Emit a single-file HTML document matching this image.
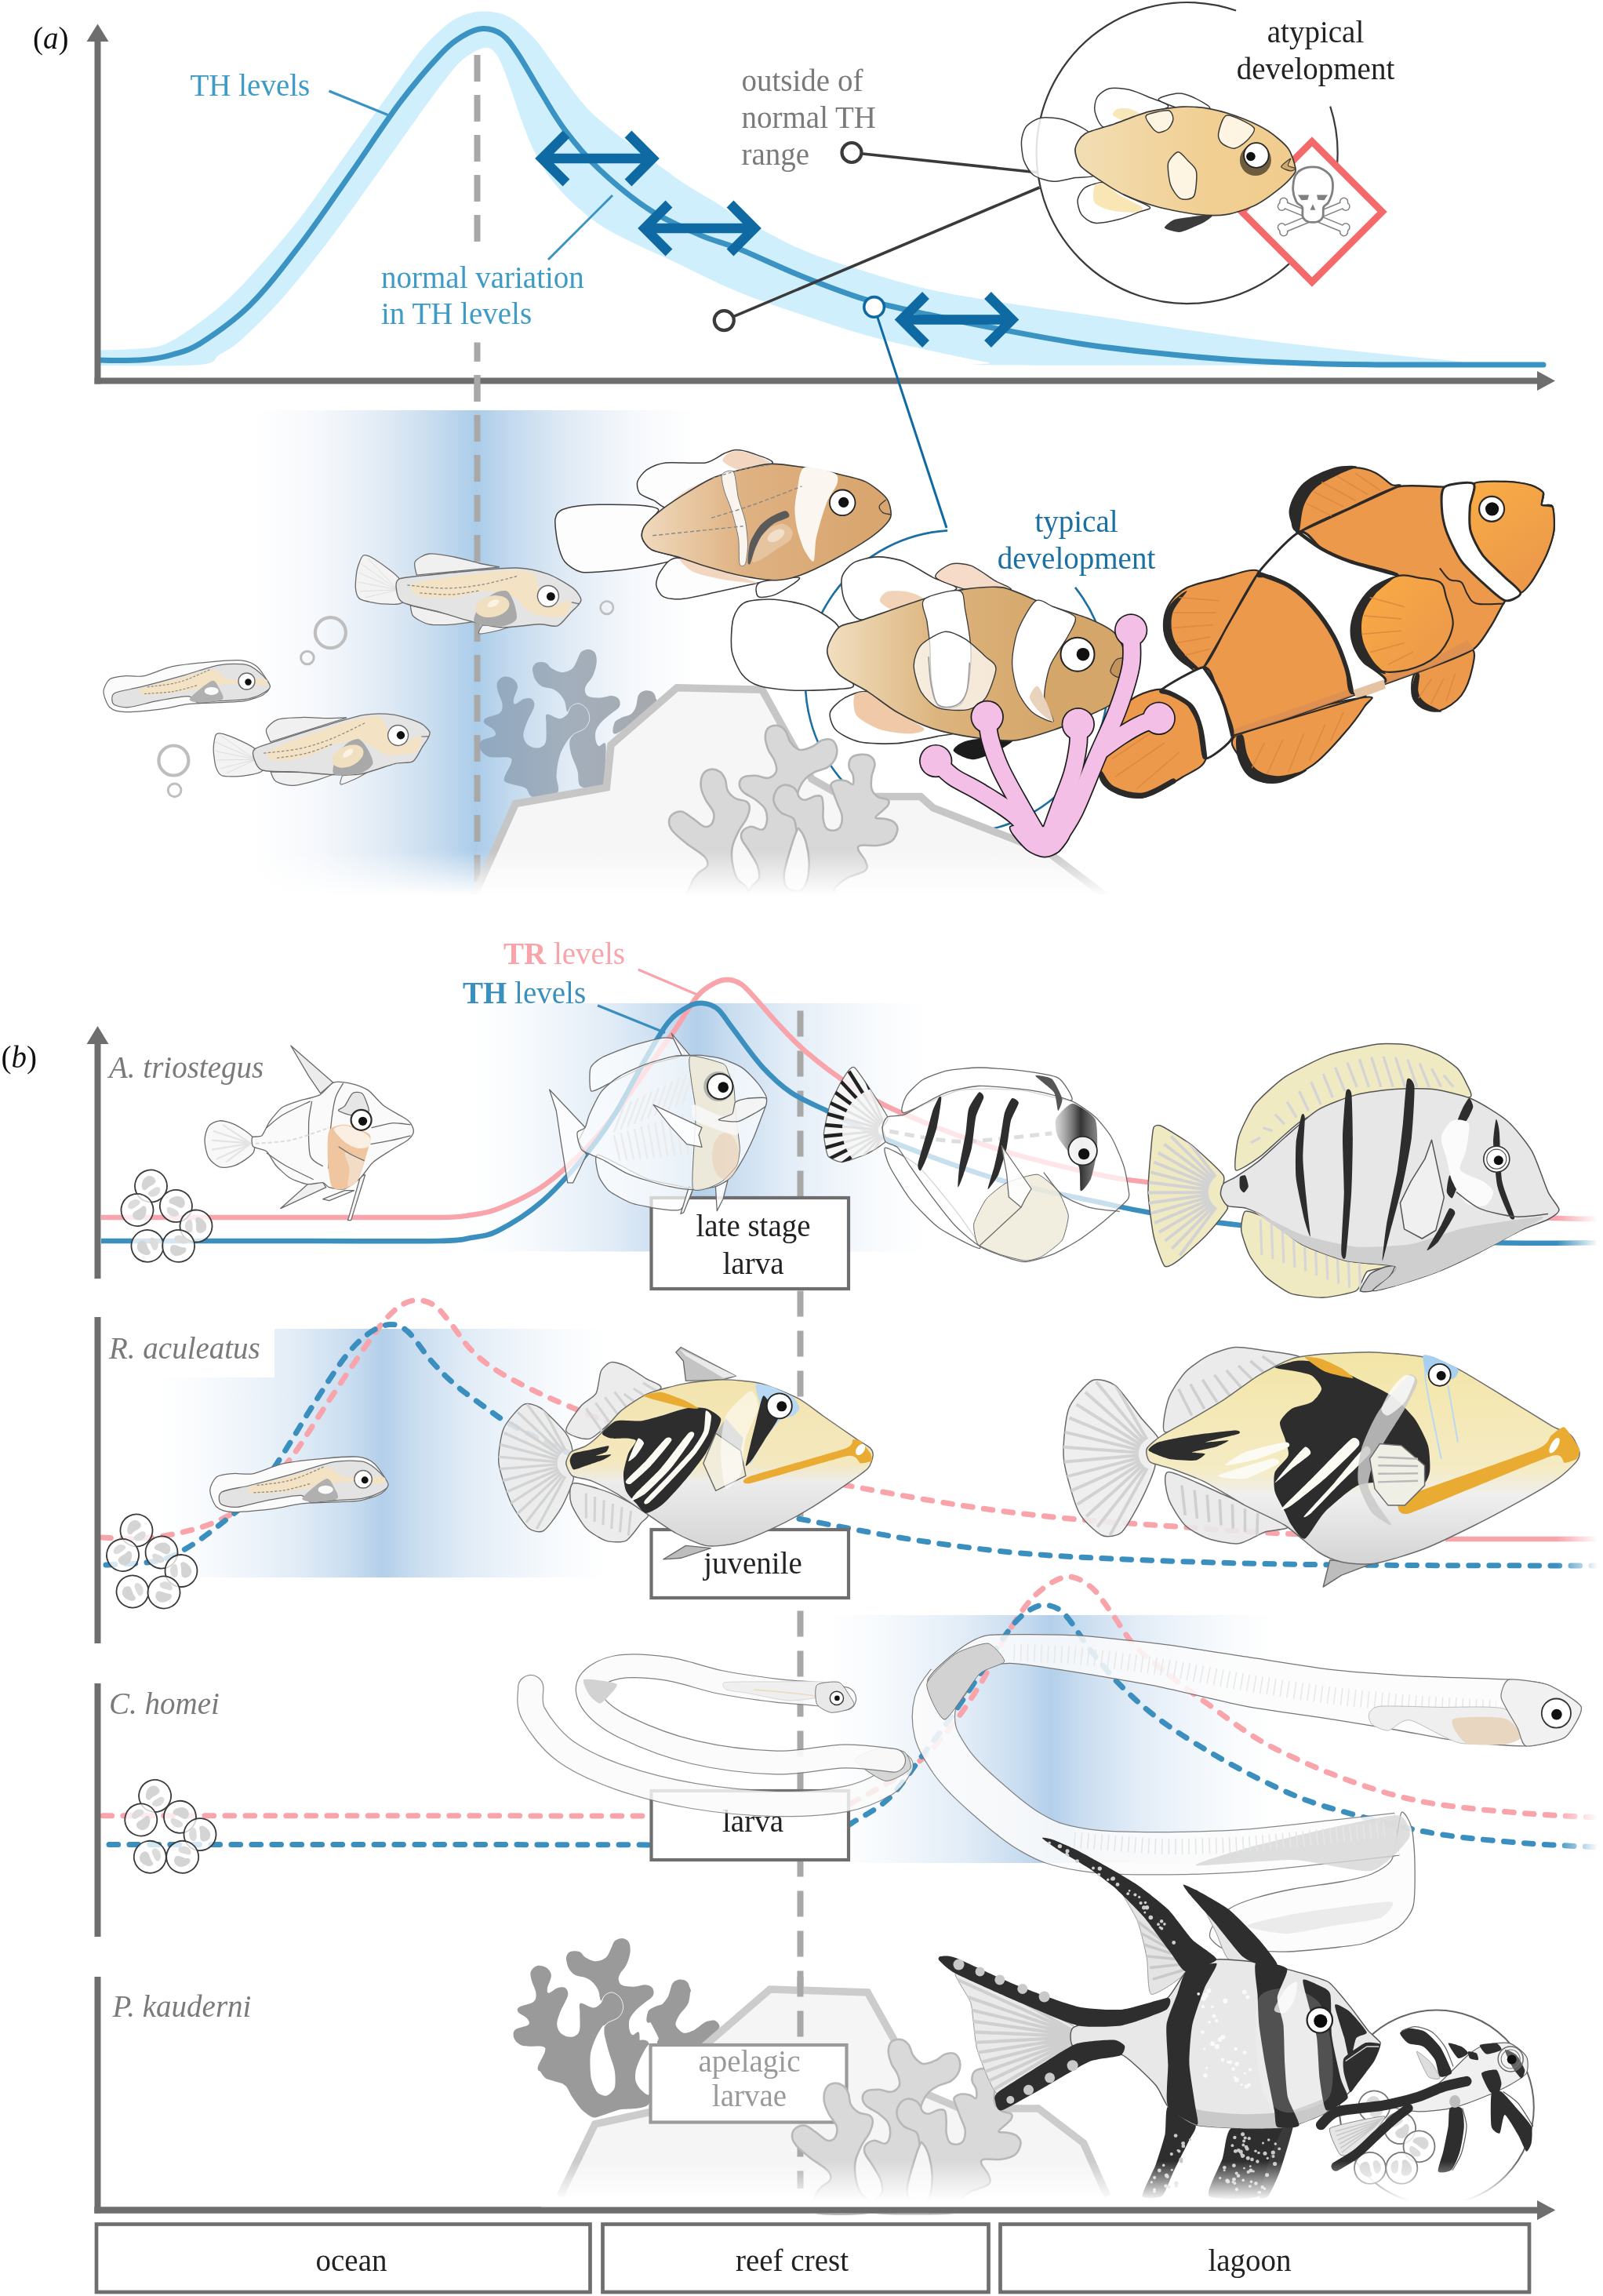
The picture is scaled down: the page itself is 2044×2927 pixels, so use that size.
<!DOCTYPE html>
<html><head><meta charset="utf-8"><title>figure</title>
<style>
html,body{margin:0;padding:0;background:#fff;}
svg{display:block;}
text{font-family:"Liberation Serif",serif;}
svg{will-change:transform;}
</style></head><body>
<svg width="2044" height="2927" viewBox="0 0 2044 2927">
<rect width="2044" height="2927" fill="#fff"/>

<defs>
<linearGradient id="gA" x1="0" x2="1" y1="0" y2="0">
 <stop offset="0" stop-color="#ffffff"/>
 <stop offset="0.15" stop-color="#f5f8fc"/>
 <stop offset="0.3" stop-color="#dfeaf5"/>
 <stop offset="0.42" stop-color="#c4daee"/>
 <stop offset="0.5" stop-color="#abcce9"/>
 <stop offset="0.58" stop-color="#c4daee"/>
 <stop offset="0.7" stop-color="#dfeaf5"/>
 <stop offset="0.85" stop-color="#f5f8fc"/>
 <stop offset="1" stop-color="#ffffff"/>
</linearGradient>
<linearGradient id="gB" x1="0" x2="1" y1="0" y2="0">
 <stop offset="0" stop-color="#ffffff"/>
 <stop offset="0.12" stop-color="#f7fafd"/>
 <stop offset="0.3" stop-color="#e3edf7"/>
 <stop offset="0.43" stop-color="#c9ddf0"/>
 <stop offset="0.5" stop-color="#b3cfea"/>
 <stop offset="0.57" stop-color="#c9ddf0"/>
 <stop offset="0.7" stop-color="#e3edf7"/>
 <stop offset="0.88" stop-color="#f7fafd"/>
 <stop offset="1" stop-color="#ffffff"/>
</linearGradient>
<linearGradient id="fadeDown" x1="0" x2="0" y1="0" y2="1">
 <stop offset="0" stop-color="#fff" stop-opacity="0"/>
 <stop offset="1" stop-color="#fff" stop-opacity="1"/>
</linearGradient>
</defs>

<rect x="325" y="523" width="565" height="620" fill="url(#gA)"/>

<path d="M127.0,446.5 C134.2,446.2 156.7,446.1 170.0,445.0 C183.3,443.9 194.5,444.5 207.0,440.0 C219.5,435.5 230.9,427.9 245.0,418.0 C259.1,408.1 276.1,395.2 291.6,380.7 C307.2,366.2 322.7,348.5 338.3,330.8 C353.9,313.1 369.4,295.0 385.0,274.7 C400.6,254.4 416.4,231.0 432.0,209.2 C447.6,187.4 465.7,161.9 478.7,143.7 C491.7,125.5 500.6,113.0 510.0,100.0 C519.4,87.0 526.7,76.0 535.0,66.0 C543.3,56.0 551.7,47.3 560.0,40.0 C568.3,32.7 575.6,26.2 584.9,22.0 C594.2,17.8 604.9,14.6 615.7,14.6 C626.5,14.6 638.7,16.1 649.8,22.0 C660.9,27.9 671.4,38.0 682.2,50.0 C693.0,62.0 703.8,79.7 714.6,94.0 C725.4,108.3 736.2,124.1 747.0,136.0 C757.8,147.9 768.7,156.4 779.5,165.4 C790.3,174.4 801.2,181.9 812.0,190.0 C822.8,198.1 833.6,206.2 844.4,214.0 C855.2,221.8 866.0,229.8 876.8,236.8 C887.6,243.8 898.6,249.5 909.3,256.0 C920.0,262.5 922.2,265.7 941.0,276.0 C959.8,286.3 995.0,306.3 1022.0,318.0 C1049.0,329.7 1076.0,337.6 1103.0,346.0 C1130.0,354.4 1154.2,362.0 1184.0,368.7 C1213.8,375.4 1249.9,380.9 1281.7,386.0 C1313.5,391.1 1343.6,395.0 1375.0,399.6 C1406.4,404.2 1438.2,409.2 1470.0,413.9 C1501.8,418.6 1534.2,423.6 1566.0,428.0 C1597.8,432.4 1629.3,436.2 1661.0,440.0 C1692.7,443.8 1724.2,447.3 1756.0,450.6 C1787.8,453.9 1831.3,457.6 1852.0,460.0 C1872.7,462.4 1875.3,464.2 1880.0,465.0 L1880.0,465.5 C1781.7,465.5 1393.3,466.1 1290.0,465.5 C1186.7,464.9 1277.7,465.2 1260.0,462.0 C1242.3,458.8 1210.2,452.3 1184.0,446.5 C1157.8,440.7 1130.0,434.6 1103.0,427.0 C1076.0,419.4 1049.0,410.2 1022.0,401.0 C995.0,391.8 968.0,383.2 941.0,372.0 C914.0,360.8 883.5,345.0 860.0,334.0 C836.5,323.0 816.1,314.1 800.0,306.0 C783.9,297.9 775.4,293.8 763.3,285.5 C751.2,277.2 737.9,266.1 727.6,256.3 C717.3,246.6 709.3,237.3 701.7,227.0 C694.1,216.7 688.2,206.5 682.2,194.6 C676.2,182.7 672.5,173.0 666.0,155.7 C659.5,138.4 649.2,105.8 643.3,90.8 C637.3,75.8 634.9,70.9 630.3,66.0 C625.7,61.1 622.4,59.9 615.7,61.6 C609.0,63.3 597.8,69.6 590.0,76.0 C582.2,82.4 577.2,89.8 569.0,100.0 C560.8,110.2 553.5,120.2 541.0,137.4 C528.5,154.6 509.9,181.2 494.3,203.0 C478.7,224.8 463.1,247.1 447.5,268.4 C431.9,289.7 416.3,311.0 400.7,330.8 C385.1,350.6 369.6,369.9 354.0,387.0 C338.4,404.1 319.3,422.9 307.0,433.7 C294.7,444.5 288.8,446.8 280.0,452.0 C271.2,457.2 279.5,462.7 254.0,465.0 C228.5,467.3 148.2,465.8 127.0,466.0Z" fill="#cfeffc"/>
<path d="M127.0,459.0 C132.5,459.1 149.5,459.7 160.0,459.5 C170.5,459.3 180.0,459.2 190.0,458.0 C200.0,456.8 209.2,455.3 220.0,452.0 C230.8,448.7 238.5,448.5 255.0,438.0 C271.5,427.5 297.6,409.9 318.8,389.0 C340.1,368.1 361.3,340.1 382.5,312.4 C403.7,284.7 424.8,253.3 446.0,223.0 C467.2,192.7 490.8,156.2 510.0,130.7 C529.2,105.2 547.7,84.1 561.0,70.0 C574.3,55.9 580.9,51.6 590.0,46.0 C599.1,40.4 607.4,36.8 615.7,36.5 C624.0,36.2 632.6,38.8 640.0,44.0 C647.4,49.2 651.7,55.7 660.0,68.0 C668.3,80.3 679.9,101.7 690.0,118.0 C700.1,134.3 707.9,149.3 720.4,165.8 C732.9,182.3 746.9,199.8 765.0,216.8 C783.1,233.8 807.5,254.0 828.8,267.8 C850.1,281.6 873.9,291.4 892.6,299.6 C911.3,307.8 919.4,308.1 941.0,316.8 C962.6,325.5 995.0,341.2 1022.0,352.0 C1049.0,362.8 1076.0,373.5 1103.0,381.7 C1130.0,389.9 1154.2,394.4 1184.0,401.0 C1213.8,407.6 1249.9,414.9 1281.7,421.0 C1313.5,427.1 1343.6,432.9 1375.0,437.7 C1406.4,442.5 1438.2,446.2 1470.0,449.6 C1501.8,453.0 1534.2,456.0 1566.0,458.2 C1597.8,460.4 1629.3,461.9 1661.0,463.0 C1692.7,464.1 1724.5,464.6 1756.0,464.9 C1787.5,465.2 1814.7,465.0 1850.0,465.0 C1885.3,465.0 1948.3,465.0 1968.0,465.0" fill="none" stroke="#3a93c2" stroke-width="7" stroke-linecap="round"/>
<line x1="608.5" y1="70" x2="608.5" y2="1140" stroke="#a8a8a8" stroke-width="8" stroke-dasharray="34 17"/>
<rect x="598" y="309" width="22" height="127.5" fill="#fff"/>
<line x1="124.5" y1="50" x2="124.5" y2="489.5" stroke="#6e6e6e" stroke-width="8"/>
<polygon points="124.5,30.5 138.5,53 110.5,53" fill="#6e6e6e"/>
<line x1="120.5" y1="485.5" x2="1962" y2="485.5" stroke="#6e6e6e" stroke-width="8"/>
<polygon points="1983,485.5 1960,473 1960,498" fill="#6e6e6e"/>
<rect x="604.5" y="478" width="8" height="34" fill="#a8a8a8"/>
<path d="M694.0,202.0 L829.0,202.0 M722.0,171.0 L691.0,202.0 L722.0,233.0 M801.0,171.0 L832.0,202.0 L801.0,233.0" fill="none" stroke="#0f6aa3" stroke-width="12.5" stroke-linejoin="miter" stroke-miterlimit="10"/>
<path d="M825.0,291.0 L959.0,291.0 M853.0,260.0 L822.0,291.0 L853.0,322.0 M931.0,260.0 L962.0,291.0 L931.0,322.0" fill="none" stroke="#0f6aa3" stroke-width="12.5" stroke-linejoin="miter" stroke-miterlimit="10"/>
<path d="M1152.5,407.5 L1287.5,407.5 M1180.5,376.5 L1149.5,407.5 L1180.5,438.5 M1259.5,376.5 L1290.5,407.5 L1259.5,438.5" fill="none" stroke="#0f6aa3" stroke-width="12.5" stroke-linejoin="miter" stroke-miterlimit="10"/>
<text x="42.0" y="62.0" font-size="39" fill="#111" text-anchor="start"  >(<tspan font-style="italic">a</tspan>)</text>
<text x="242.5" y="121.5" font-size="39" fill="#3d9bc6" text-anchor="start"  >TH levels</text>
<line x1="419.5" y1="116" x2="494.5" y2="146.5" stroke="#3a93c2" stroke-width="3.2"/>
<text x="486.0" y="366.5" font-size="39" fill="#3d9bc6" text-anchor="start"  >normal variation</text>
<text x="486.0" y="413.0" font-size="39" fill="#3d9bc6" text-anchor="start"  >in TH levels</text>
<line x1="781" y1="249" x2="699" y2="331" stroke="#3a93c2" stroke-width="3"/>
<text x="945.5" y="116.0" font-size="39" fill="#7a7a7a" text-anchor="start"  >outside of</text>
<text x="945.5" y="163.0" font-size="39" fill="#7a7a7a" text-anchor="start"  >normal TH</text>
<text x="945.5" y="210.0" font-size="39" fill="#7a7a7a" text-anchor="start"  >range</text>
<text x="1677.5" y="54.0" font-size="39" fill="#222" text-anchor="middle"  >atypical</text>
<text x="1677.5" y="100.5" font-size="39" fill="#222" text-anchor="middle"  >development</text>
<line x1="1086" y1="194.5" x2="1324" y2="220" stroke="#3a3a3a" stroke-width="3.6"/>
<line x1="923.3" y1="408.6" x2="1325.5" y2="239" stroke="#3a3a3a" stroke-width="3.6"/>
<circle cx="1086" cy="194.5" r="12.5" fill="#fff" stroke="#3a3a3a" stroke-width="4.2"/>
<circle cx="923.3" cy="408.6" r="12.5" fill="#fff" stroke="#3a3a3a" stroke-width="4.2"/>
<line x1="1114.6" y1="391.4" x2="1207" y2="673" stroke="#0f6aa3" stroke-width="3"/>
<circle cx="1114.6" cy="391.4" r="12.8" fill="#fff" stroke="#0f6aa3" stroke-width="3.6"/>
<defs><g id="coralD"><path d="M141.1,193.0 C135.7,189.9 138.4,179.0 136.2,171.9 C134.1,164.9 129.8,157.1 128.1,150.8 C126.5,144.6 125.7,138.9 126.5,134.6 C127.3,130.3 129.8,127.6 133.0,124.9 C136.2,122.2 142.9,121.4 146.0,118.4 C149.1,115.4 151.2,111.1 151.7,107.0 C152.1,103.0 150.7,97.5 148.4,94.1 C146.1,90.7 141.2,87.3 137.9,86.8 C134.5,86.2 130.6,89.1 128.1,90.8 C125.7,92.6 124.6,98.4 123.3,97.3 C121.9,96.2 121.6,88.1 120.0,84.3 C118.4,80.6 116.2,77.3 113.5,74.6 C110.8,71.9 107.6,69.7 103.8,68.1 C100.0,66.5 94.3,66.8 90.8,64.9 C87.3,63.0 84.6,59.7 82.7,56.8 C80.8,53.8 80.0,49.7 79.5,47.0 C78.9,44.3 78.7,42.6 79.5,40.5 C80.3,38.5 81.6,35.8 84.3,34.9 C87.0,33.9 92.5,33.7 95.7,34.9 C98.9,36.1 100.3,40.1 103.8,42.2 C107.3,44.2 112.5,47.0 116.8,47.0 C121.1,47.0 126.5,44.9 129.8,42.2 C133.0,39.5 134.4,34.3 136.2,30.8 C138.1,27.3 138.7,23.2 141.1,21.1 C143.5,18.9 147.9,17.6 150.8,17.8 C153.8,18.1 157.3,19.7 159.0,22.7 C160.6,25.7 161.1,30.8 160.6,35.7 C160.0,40.5 157.9,47.3 155.7,51.9 C153.5,56.5 149.2,60.0 147.6,63.3 C146.0,66.5 145.4,68.9 146.0,71.4 C146.5,73.8 147.6,76.5 150.8,77.9 C154.1,79.2 160.6,79.6 165.4,79.5 C170.3,79.3 176.1,76.8 180.0,77.0 C184.0,77.3 187.3,78.8 189.0,81.1 C190.6,83.4 191.5,87.6 189.8,90.8 C188.0,94.1 182.2,97.3 178.4,100.6 C174.6,103.8 170.2,106.8 167.1,110.3 C164.0,113.8 161.0,117.6 159.8,121.6 C158.5,125.7 159.1,131.4 159.8,134.6 C160.4,137.9 161.8,140.6 163.8,141.1 C165.8,141.7 170.6,134.4 171.9,137.9 C173.3,141.4 172.5,153.4 171.9,162.2 C171.4,171.0 173.8,185.4 168.7,190.6 C163.5,195.7 146.5,196.1 141.1,193.0Z"/><path d="M79.5,206.0 C72.7,204.9 75.2,197.6 69.7,194.6 C64.3,191.7 51.5,190.3 47.0,188.1 C42.6,186.0 42.2,186.0 43.0,181.7 C43.8,177.3 51.0,166.5 51.9,162.2 C52.8,157.9 53.3,156.9 48.7,155.7 C44.1,154.5 30.3,156.5 24.3,154.9 C18.4,153.3 14.7,149.4 13.0,146.0 C11.2,142.6 10.8,137.6 13.8,134.6 C16.8,131.6 28.2,130.6 30.8,128.1 C33.4,125.7 31.4,122.7 29.2,120.0 C27.0,117.3 19.5,114.3 17.8,111.9 C16.2,109.5 16.2,107.6 19.5,105.4 C22.7,103.3 33.8,101.9 37.3,98.9 C40.8,96.0 41.0,92.2 40.5,87.6 C40.1,83.0 36.0,76.0 34.9,71.4 C33.8,66.8 32.8,63.1 34.1,60.0 C35.3,56.9 38.9,53.5 42.2,52.7 C45.4,51.9 50.6,53.1 53.5,55.1 C56.5,57.2 59.7,60.6 60.0,64.9 C60.3,69.2 55.7,77.3 55.1,81.1 C54.6,84.9 54.6,87.6 56.8,87.6 C58.9,87.6 64.6,82.2 68.1,81.1 C71.6,80.0 75.7,79.5 77.9,81.1 C80.0,82.7 82.2,85.7 81.1,90.8 C80.0,96.0 73.7,105.7 71.4,111.9 C69.1,118.1 67.0,123.5 67.3,128.1 C67.6,132.7 69.9,136.9 73.0,139.5 C76.1,142.1 82.2,144.1 86.0,143.5 C89.7,143.0 93.9,141.2 95.7,136.2 C97.5,131.2 96.2,119.5 96.5,113.5 C96.8,107.6 94.5,101.8 97.3,100.6 C100.2,99.3 109.2,106.2 113.5,106.2 C117.9,106.2 120.8,103.1 123.3,100.6 C125.7,98.0 125.7,93.1 128.1,90.8 C130.6,88.5 134.5,86.2 137.9,86.8 C141.2,87.3 146.1,90.7 148.4,94.1 C150.7,97.5 152.1,103.0 151.7,107.0 C151.2,111.1 149.1,115.4 146.0,118.4 C142.9,121.4 136.8,122.2 133.0,124.9 C129.2,127.6 126.5,129.8 123.3,134.6 C120.0,139.5 115.8,146.8 113.5,154.1 C111.2,161.4 110.0,170.6 109.5,178.4 C108.9,186.3 115.3,196.5 110.3,201.1 C105.3,205.7 86.2,207.1 79.5,206.0Z"/><path d="M183.3,111.9 C184.1,108.7 187.9,107.3 191.4,105.4 C194.9,103.5 201.1,103.0 204.4,100.6 C207.6,98.1 209.2,94.9 210.9,90.8 C212.5,86.8 212.2,79.6 214.1,76.2 C216.0,72.9 219.2,71.2 222.2,70.6 C225.2,69.9 229.6,70.7 231.9,72.2 C234.2,73.7 235.7,76.4 236.0,79.5 C236.3,82.6 241.8,83.3 233.6,90.8 C225.3,98.4 194.9,121.4 186.5,124.9 C178.1,128.4 182.5,115.2 183.3,111.9Z"/></g><g id="coralL"><path d="M123.3,100.6 C124.1,98.9 125.7,93.1 128.1,90.8 C130.6,88.5 134.5,86.2 137.9,86.8 C141.2,87.3 146.1,90.7 148.4,94.1 C150.7,97.5 152.1,103.0 151.7,107.0 C151.2,111.1 149.1,115.4 146.0,118.4 C142.9,121.4 136.0,123.0 133.0,124.9 C130.0,126.8 128.9,128.9 128.1,129.8" fill="none" stroke-width="0.9"/></g>
<linearGradient id="gCoralA" gradientUnits="userSpaceOnUse" x1="10" x2="240" y1="0" y2="0"><stop offset="0" stop-color="#8fa8c0"/><stop offset="0.5" stop-color="#a3afbc"/><stop offset="1" stop-color="#a6a9ad"/></linearGradient>
<linearGradient id="fadeA" gradientUnits="userSpaceOnUse" x1="0" x2="0" y1="1085" y2="1142"><stop offset="0" stop-color="#fff" stop-opacity="0"/><stop offset="1" stop-color="#fff" stop-opacity="1"/></linearGradient>
</defs>
<path d="M1371.0,748.9 A193,193 0 1 1 1208.2,676.4" fill="none" stroke="#1a6fa3" stroke-width="2.6"/>
<g transform="translate(600,810)" fill="url(#gCoralA)"><use href="#coralD"/><use href="#coralL" stroke="#dbe8f4"/></g>
<path d="M600.0,1150.0 L606.8,1136.9 L657.4,1024.6 L773.4,1004.0 L779.0,949.7 L863.2,876.7 L971.8,879.3 L1035.0,993.0 L1075.0,1015.6 L1173.9,1015.6 L1190.0,1030.0 L1337.0,1087.0 L1420.0,1150.0" fill="#f6f6f6" stroke="#c6c6c6" stroke-width="9.5" stroke-linejoin="miter"/>
<path d="M881.9,1125.6 C883.3,1120.3 886.6,1117.3 889.9,1113.6 C893.2,1110.0 900.6,1107.3 901.9,1103.6 C903.2,1100.0 902.2,1096.3 897.9,1091.7 C893.6,1087.0 882.6,1081.0 875.9,1075.7 C869.3,1070.4 861.8,1064.4 858.0,1059.7 C854.1,1055.1 853.0,1051.4 853.0,1047.7 C853.0,1044.1 855.1,1039.9 858.0,1037.8 C860.8,1035.6 865.6,1033.8 869.9,1034.8 C874.3,1035.8 879.3,1040.6 883.9,1043.7 C888.6,1046.9 893.9,1052.7 897.9,1053.7 C901.9,1054.7 905.9,1052.7 907.9,1049.7 C909.9,1046.7 911.2,1040.7 909.9,1035.8 C908.5,1030.8 902.6,1025.1 899.9,1019.8 C897.2,1014.5 894.6,1009.1 893.9,1003.8 C893.2,998.5 893.9,991.7 895.9,987.8 C897.9,984.0 902.2,981.5 905.9,980.9 C909.5,980.2 914.7,981.7 917.9,983.8 C921.0,986.0 923.2,989.8 924.8,993.8 C926.5,997.8 925.7,1003.8 927.8,1007.8 C930.0,1011.8 933.8,1015.5 937.8,1017.8 C941.8,1020.1 948.8,1019.8 951.8,1021.8 C954.8,1023.8 955.8,1026.1 955.8,1029.8 C955.8,1033.4 954.1,1038.8 951.8,1043.7 C949.5,1048.7 944.8,1053.7 941.8,1059.7 C938.8,1065.7 935.2,1073.0 933.8,1079.7 C932.5,1086.3 932.8,1093.0 933.8,1099.6 C934.8,1106.3 936.8,1114.3 939.8,1119.6 C942.8,1124.9 949.8,1127.3 951.8,1131.6 C953.8,1135.9 963.4,1143.2 951.8,1145.6 C940.2,1147.9 893.6,1148.9 881.9,1145.6 C870.3,1142.2 880.6,1130.9 881.9,1125.6Z" fill="#d8d8d8" stroke="#b4b4b4" stroke-width="2.6"/>
<path d="M957.8,1131.6 C959.1,1127.3 966.4,1124.3 967.8,1119.6 C969.1,1114.9 967.8,1109.3 965.8,1103.6 C963.8,1098.0 959.1,1091.3 955.8,1085.7 C952.5,1080.0 947.3,1074.0 945.8,1069.7 C944.3,1065.4 944.8,1062.4 946.8,1059.7 C948.8,1057.1 953.6,1054.1 957.8,1053.7 C961.9,1053.4 968.4,1058.7 971.8,1057.7 C975.1,1056.7 977.1,1052.1 977.8,1047.7 C978.4,1043.4 978.1,1036.4 975.8,1031.8 C973.4,1027.1 968.4,1023.4 963.8,1019.8 C959.1,1016.1 951.3,1013.1 947.8,1009.8 C944.3,1006.5 942.8,1003.0 942.8,999.8 C942.8,996.7 944.3,992.7 947.8,990.8 C951.3,989.0 958.5,988.7 963.8,988.8 C969.1,989.0 975.4,992.7 979.7,991.8 C984.1,991.0 988.4,987.5 989.7,983.8 C991.1,980.2 989.4,974.5 987.7,969.9 C986.1,965.2 981.7,960.9 979.7,955.9 C977.8,950.9 975.8,944.6 975.8,939.9 C975.8,935.3 977.1,930.4 979.7,927.9 C982.4,925.5 988.1,924.3 991.7,925.0 C995.4,925.6 999.0,928.4 1001.7,931.9 C1004.4,935.4 1004.7,941.9 1007.7,945.9 C1010.7,949.9 1015.0,954.9 1019.7,955.9 C1024.3,956.9 1031.0,953.9 1035.6,951.9 C1040.3,949.9 1043.6,945.4 1047.6,943.9 C1051.6,942.4 1056.4,941.6 1059.6,942.9 C1062.8,944.3 1065.6,948.1 1066.6,951.9 C1067.6,955.7 1067.4,961.6 1065.6,965.9 C1063.8,970.2 1059.9,974.9 1055.6,977.9 C1051.3,980.9 1044.3,981.5 1039.6,983.8 C1035.0,986.2 1031.0,988.5 1027.7,991.8 C1024.3,995.2 1021.3,1000.2 1019.7,1003.8 C1018.0,1007.5 1016.7,1011.1 1017.7,1013.8 C1018.7,1016.5 1022.0,1019.6 1025.7,1019.8 C1029.3,1020.0 1036.0,1015.5 1039.6,1014.8 C1043.3,1014.1 1046.0,1013.6 1047.6,1015.8 C1049.3,1018.0 1049.3,1023.1 1049.6,1027.8 C1050.0,1032.4 1049.0,1039.1 1049.6,1043.7 C1050.3,1048.4 1051.3,1053.2 1053.6,1055.7 C1055.9,1058.2 1060.6,1059.0 1063.6,1058.7 C1066.6,1058.4 1069.9,1056.9 1071.6,1053.7 C1073.2,1050.6 1074.2,1044.7 1073.6,1039.7 C1072.9,1034.8 1069.6,1029.1 1067.6,1023.8 C1065.6,1018.5 1062.9,1011.8 1061.6,1007.8 C1060.3,1003.8 1058.6,1002.0 1059.6,999.8 C1060.6,997.7 1064.3,995.5 1067.6,994.8 C1070.9,994.2 1076.2,995.0 1079.6,995.8 C1082.9,996.7 1086.2,1001.2 1087.6,999.8 C1088.9,998.5 1088.4,991.5 1087.6,987.8 C1086.7,984.2 1082.9,981.5 1082.6,977.9 C1082.2,974.2 1083.1,968.5 1085.6,965.9 C1088.1,963.2 1093.5,962.2 1097.5,961.9 C1101.5,961.6 1106.5,961.9 1109.5,963.9 C1112.5,965.9 1115.2,969.5 1115.5,973.9 C1115.8,978.2 1112.2,984.5 1111.5,989.8 C1110.8,995.2 1110.2,1001.5 1111.5,1005.8 C1112.8,1010.1 1116.0,1013.5 1119.5,1015.8 C1123.0,1018.1 1130.5,1017.8 1132.5,1019.8 C1134.5,1021.8 1134.1,1024.1 1131.5,1027.8 C1128.8,1031.4 1117.2,1039.1 1116.5,1041.7 C1115.8,1044.4 1123.7,1042.7 1127.5,1043.7 C1131.3,1044.7 1136.6,1045.4 1139.5,1047.7 C1142.3,1050.1 1144.8,1053.7 1144.5,1057.7 C1144.1,1061.7 1141.6,1068.4 1137.5,1071.7 C1133.3,1075.0 1126.2,1076.7 1119.5,1077.7 C1112.8,1078.7 1101.7,1076.7 1097.5,1077.7 C1093.4,1078.7 1093.5,1080.3 1094.5,1083.7 C1095.5,1087.0 1102.0,1093.3 1103.5,1097.6 C1105.0,1102.0 1107.5,1106.0 1103.5,1109.6 C1099.5,1113.3 1086.2,1115.6 1079.6,1119.6 C1072.9,1123.6 1066.6,1129.3 1063.6,1133.6 C1060.6,1137.9 1078.9,1143.6 1061.6,1145.6 C1044.3,1147.6 977.1,1147.9 959.8,1145.6 C942.5,1143.2 956.5,1135.9 957.8,1131.6Z" fill="#d8d8d8" stroke="#b4b4b4" stroke-width="2.6"/>
<path d="M1015.7,1059.7 C1013.4,1065.0 1008.4,1080.3 1005.7,1089.7 C1003.0,1099.0 1000.0,1108.6 999.7,1115.6 C999.4,1122.6 1000.4,1128.3 1003.7,1131.6 C1007.0,1134.9 1015.5,1136.9 1019.7,1135.6 C1023.8,1134.2 1026.7,1129.6 1028.7,1123.6 C1030.7,1117.6 1031.8,1108.0 1031.7,1099.6 C1031.5,1091.3 1029.7,1080.7 1027.7,1073.7 C1025.7,1066.7 1021.7,1060.0 1019.7,1057.7 C1017.7,1055.4 1018.0,1054.4 1015.7,1059.7Z" fill="#f6f6f6" stroke="#b4b4b4" stroke-width="2.6"/>
<path d="M1017.7,1011.8 C1016.7,1010.5 1014.7,1005.6 1011.7,1003.8 C1008.7,1002.0 1003.4,1000.2 999.7,1000.8 C996.1,1001.5 991.9,1004.3 989.7,1007.8 C987.6,1011.3 985.7,1017.1 986.7,1021.8 C987.7,1026.4 991.6,1032.1 995.7,1035.8 C999.9,1039.4 1008.4,1039.7 1011.7,1043.7 C1015.0,1047.7 1015.0,1057.1 1015.7,1059.7" fill="none" stroke="#b4b4b4" stroke-width="2.6"/>
<rect x="320" y="1075" width="1140" height="80" fill="url(#fadeA)"/>
<defs>
<linearGradient id="gBr1" gradientUnits="userSpaceOnUse" x1="820" y1="0" x2="1100" y2="0"><stop offset="0" stop-color="#efd9bc"/><stop offset="0.45" stop-color="#dfb283"/><stop offset="1" stop-color="#d9a66f"/></linearGradient>
<linearGradient id="gBr2" gradientUnits="userSpaceOnUse" x1="1055" y1="0" x2="1340" y2="0"><stop offset="0" stop-color="#f1dfc0"/><stop offset="0.5" stop-color="#dcb47d"/><stop offset="1" stop-color="#d5a66a"/></linearGradient>
</defs>
<defs><g id="larvaB"><path d="M-89.8,-20.0 C-93.8,-26.3 -114.4,-40.4 -119.8,-43.9 C-125.1,-47.4 -133.0,-51.3 -135.7,-49.9 C-138.5,-48.5 -142.6,-36.8 -143.7,-31.9 C-144.9,-27.0 -146.2,-12.4 -145.7,-8.0 C-145.3,-3.6 -143.7,3.7 -139.7,6.0 C-135.8,8.3 -118.1,11.5 -111.8,12.0 C-105.5,12.4 -88.4,13.7 -85.8,10.0 C-83.3,6.3 -85.9,-13.7 -89.8,-20.0Z" fill="#f3f3f3" stroke="#6b6b6b" stroke-width="1.3"/><path d="M-139.7,-39.9 L-91.8,-6.0 M-141.7,-27.9 L-91.8,-6.0 M-142.9,-16.0 L-91.8,-6.0 M-140.5,-4.0 L-91.8,-6.0 M-133.7,4.0 L-91.8,-6.0 M-129.8,-45.9 L-91.8,-6.0 " stroke="#dcdcdc" stroke-width="0.9" fill="none"/><path d="M-67.9,-24.8 C-68.1,-27.0 -72.0,-38.3 -69.9,-41.9 C-67.7,-45.5 -58.6,-51.1 -51.9,-51.9 C-45.2,-52.7 -28.5,-49.5 -20.0,-47.9 C-11.4,-46.3 4.3,-41.6 12.0,-39.9 C19.7,-38.2 34.5,-35.8 37.9,-35.1Z" fill="#f0f0f0" stroke="#6b6b6b" stroke-width="1.3"/><path d="M-75.9,14.0 C-75.3,15.8 -75.1,24.8 -71.9,27.9 C-68.7,31.1 -58.8,36.6 -51.9,37.9 C-45.0,39.3 -28.2,38.5 -20.0,37.9 C-11.7,37.4 6.0,34.5 10.0,33.9Z" fill="#f0f0f0" stroke="#6b6b6b" stroke-width="1.3"/><path d="M16.0,39.1 C15.4,40.6 9.3,49.0 12.0,49.9 C14.6,50.8 30.6,47.1 35.9,45.9 C41.3,44.7 49.8,41.4 51.9,40.7Z" fill="#f3f3f3" stroke="#6b6b6b" stroke-width="1.1"/><path d="M141.7,6.0 C140.9,3.1 137.3,-3.7 131.8,-8.0 C126.2,-12.2 109.4,-22.5 99.8,-26.0 C90.2,-29.4 73.2,-33.4 59.9,-33.9 C46.6,-34.5 16.0,-31.3 0.0,-29.9 C-16.0,-28.6 -47.9,-25.3 -59.9,-24.0 C-71.9,-22.6 -85.3,-22.1 -89.8,-20.0 C-94.4,-17.8 -94.4,-12.0 -93.8,-8.0 C-93.3,-4.0 -93.0,6.0 -85.8,10.0 C-78.7,14.0 -51.4,18.8 -39.9,22.0 C-28.5,25.2 -10.6,31.3 0.0,33.9 C10.6,36.6 28.2,41.4 39.9,41.9 C51.6,42.5 78.3,38.2 87.8,37.9 C97.4,37.7 106.5,41.8 111.8,39.9 C117.1,38.1 124.3,27.4 127.8,24.0 C131.2,20.5 135.9,16.4 137.7,14.0 C139.6,11.6 142.5,8.9 141.7,6.0Z" fill="#e4e4e4" stroke="#6b6b6b" stroke-width="1.4"/><path d="M-75.9,-12.0 C-72.7,-14.9 -55.4,-17.6 -39.9,-20.0 C-24.5,-22.4 24.0,-28.9 39.9,-29.9 C55.9,-31.0 73.5,-30.9 79.8,-27.9 C86.2,-25.0 85.7,-13.8 87.8,-8.0 C90.0,-2.1 90.5,13.8 95.8,16.0 C101.1,18.1 124.6,6.4 127.8,8.0 C131.0,9.6 126.2,25.8 119.8,27.9 C113.4,30.1 88.9,27.7 79.8,24.0 C70.8,20.2 60.4,3.7 51.9,0.0 C43.4,-3.7 25.6,-4.5 16.0,-4.0 C6.4,-3.5 -9.3,3.2 -20.0,4.0 C-30.6,4.8 -56.4,4.1 -63.9,2.0 C-71.3,-0.1 -79.1,-9.0 -75.9,-12.0Z" fill="#f3e3c4"/><path d="M6.0,35.1 C2.5,31.3 10.5,16.9 14.0,12.0 C17.4,7.0 27.4,0.1 31.9,-2.0 C36.5,-4.1 44.6,-5.9 47.9,-4.0 C51.2,-2.1 55.2,7.2 56.7,12.0 C58.2,16.8 61.3,28.1 59.1,31.9 C56.9,35.8 47.0,40.3 39.9,40.7 C32.8,41.1 9.4,39.0 6.0,35.1Z" fill="#a9a9a9"/><ellipse cx="28.7" cy="15.2" rx="22" ry="13.5" fill="#f1e0c0" transform="rotate(-12 28.7 15.2)"/><ellipse cx="29.9" cy="11.2" rx="8" ry="4" fill="#fbf3e2" transform="rotate(-25 29.9 11.2)"/><path d="M-79.8,-12.0 C-71.9,-11.3 -47.2,-8.0 -31.9,-8.0 C-16.6,-8.0 -3.3,-9.4 12.0,-12.0 C27.3,-14.5 51.9,-21.3 59.9,-23.2" fill="none" stroke="#8a8a8a" stroke-width="1.3" stroke-dasharray="3.5 2.5"/><path d="M-63.9,-2.0 C-57.2,-1.7 -36.6,0.5 -24.0,0.0 C-11.3,-0.5 6.0,-4.0 12.0,-4.8" fill="none" stroke="#8a8a8a" stroke-width="1.3" stroke-dasharray="3.5 2.5"/><circle cx="99.8" cy="2.0" r="13.5" fill="#fff" stroke="#6b6b6b" stroke-width="1.5"/><circle cx="103.3" cy="2.5" r="5.4" fill="#111"/><path d="M129.8,10.0 L139.7,12.0" fill="none" stroke="#6b6b6b" stroke-width="1.2"/></g></defs>
<defs><g id="larvaS"><path d="M-105.8,6.0 C-105.8,1.2 -101.5,-7.3 -97.8,-10.0 C-94.1,-12.6 -83.7,-13.4 -77.9,-14.0 C-72.0,-14.5 -61.9,-12.4 -53.9,-14.0 C-45.9,-15.6 -29.1,-23.6 -18.0,-26.0 C-6.8,-28.3 18.2,-30.9 29.9,-31.9 C41.7,-33.0 61.9,-34.7 69.9,-33.9 C77.9,-33.1 85.0,-30.2 89.8,-26.0 C94.6,-21.7 104.7,-6.8 105.8,-2.0 C106.9,2.8 102.1,7.3 97.8,10.0 C93.6,12.6 81.3,16.6 73.9,18.0 C66.4,19.3 51.5,19.4 41.9,20.0 C32.3,20.5 11.6,20.9 2.0,22.0 C-7.6,23.0 -19.3,26.6 -29.9,27.9 C-40.6,29.3 -68.8,32.2 -77.9,31.9 C-86.9,31.7 -94.1,29.4 -97.8,26.0 C-101.5,22.5 -105.8,10.8 -105.8,6.0Z" fill="#fbfbfb" stroke="#6b6b6b" stroke-width="1.2"/><path d="M106.6,0.0 C107.1,-3.2 101.6,-10.2 97.8,-14.0 C94.0,-17.7 85.3,-26.1 77.9,-27.9 C70.4,-29.8 53.1,-29.8 41.9,-27.9 C30.7,-26.1 7.3,-17.7 -6.0,-14.0 C-19.3,-10.2 -46.4,-2.9 -57.9,0.0 C-69.3,2.9 -87.1,5.1 -91.8,8.0 C-96.5,10.9 -95.4,19.6 -93.0,22.0 C-90.6,24.4 -81.2,26.5 -73.9,26.0 C-66.5,25.4 -48.0,19.8 -37.9,18.0 C-27.8,16.1 -4.9,11.7 2.0,12.0 C8.9,12.2 8.7,19.2 14.0,20.0 C19.3,20.8 33.9,18.5 41.9,18.0 C49.9,17.4 66.9,17.0 73.9,16.0 C80.8,14.9 89.5,12.1 93.8,10.0 C98.2,7.9 106.1,3.2 106.6,0.0Z" fill="#e3e3e3" stroke="#6b6b6b" stroke-width="1.2"/><path d="M-57.9,2.0 C-51.5,-0.9 -18.2,-8.8 -6.0,-12.0 C6.3,-15.2 26.0,-22.2 33.9,-22.0 C41.9,-21.7 45.1,-11.6 53.9,-10.0 C62.7,-8.4 94.0,-11.0 99.8,-10.0 C105.7,-8.9 103.9,-2.8 97.8,-2.0 C91.7,-1.2 64.5,-4.5 53.9,-4.0 C43.3,-3.5 27.5,0.4 18.0,2.0 C8.4,3.6 -8.4,6.9 -18.0,8.0 C-27.5,9.0 -48.6,10.8 -53.9,10.0 C-59.2,9.2 -64.3,4.9 -57.9,2.0Z" fill="#f3e3c4"/><path d="M4.0,16.0 C4.0,13.6 14.0,5.2 18.0,2.0 C22.0,-1.2 30.7,-8.0 33.9,-8.0 C37.1,-8.0 40.3,-1.2 41.9,2.0 C43.5,5.2 49.1,13.6 45.9,16.0 C42.7,18.4 23.6,20.0 18.0,20.0 C12.4,20.0 4.0,18.4 4.0,16.0Z" fill="#b0b0b0"/><ellipse cx="31.9" cy="5.2" rx="9" ry="5" fill="#fafafa"/><path d="M-49.9,0.0 C-43.3,-1.0 -23.3,-2.3 -10.0,-6.0 C3.3,-9.6 23.3,-19.3 29.9,-22.0" fill="none" stroke="#8a8a8a" stroke-width="1.2" stroke-dasharray="3 2"/><path d="M-53.9,8.8 C-47.9,8.3 -29.3,7.8 -18.0,6.0 C-6.7,4.2 8.7,-0.7 14.0,-2.0" fill="none" stroke="#8a8a8a" stroke-width="1.2" stroke-dasharray="3 2"/><circle cx="76.7" cy="-7.2" r="10.5" fill="#fff" stroke="#6b6b6b" stroke-width="1.4"/><circle cx="78.7" cy="-6.2" r="4.2" fill="#111"/></g></defs>
<circle cx="421.4" cy="806.6" r="19.5" fill="none" stroke="#bebebe" stroke-width="4.2"/>
<circle cx="391.9" cy="838.5" r="8.3" fill="none" stroke="#bebebe" stroke-width="3.0"/>
<circle cx="221.4" cy="969.5" r="19.0" fill="none" stroke="#bebebe" stroke-width="4.2"/>
<circle cx="222.6" cy="1007.4" r="8.3" fill="none" stroke="#bebebe" stroke-width="3.0"/>
<circle cx="773.8" cy="774.7" r="8.2" fill="none" stroke="#bebebe" stroke-width="2.6"/>
<use href="#larvaB" transform="translate(599.1,757.9)"/>
<use href="#larvaB" transform="translate(413.5,955.5) rotate(-12) scale(0.96)"/>
<use href="#larvaS" transform="translate(237.8,875.7)"/>
<g stroke-linejoin="round">
<path d="M839.7,649.8 C838.1,646.2 821.8,644.6 809.8,643.8 C797.8,643.0 762.3,643.0 749.9,643.8 C737.5,644.6 722.5,647.4 716.9,649.8 C711.4,652.2 708.8,656.2 708.0,661.8 C707.2,667.4 709.4,684.6 711.0,691.8 C712.6,698.9 716.0,710.7 719.9,715.7 C723.9,720.7 732.9,727.6 740.9,729.2 C748.9,730.8 767.5,728.9 779.8,727.7 C792.2,726.5 822.6,722.4 833.7,720.2 C844.9,718.0 864.1,713.8 863.7,711.2 C863.3,708.6 836.7,704.1 830.7,700.7 C824.7,697.3 820.0,689.8 818.8,685.8 C817.6,681.8 819.0,675.6 821.8,670.8 C824.5,666.0 841.3,653.4 839.7,649.8Z" fill="#fdfdfd" stroke="#3a3a3a" stroke-width="1.5"/>
<path d="M857.7,646.8 C844.9,650.8 839.3,640.2 833.7,637.9 C828.1,635.5 818.6,632.1 815.8,628.9 C813.0,625.7 811.6,617.9 812.8,613.9 C814.0,609.9 820.0,602.1 824.7,598.9 C829.5,595.7 838.7,591.1 848.7,589.9 C858.7,588.7 889.6,591.5 899.6,589.9 C909.6,588.3 918.4,580.2 923.6,578.0 C928.8,575.8 933.7,573.5 938.5,573.5 C943.3,573.5 953.3,575.7 959.5,578.0 C965.7,580.3 988.9,586.8 984.9,590.8 C981.0,594.8 946.5,600.4 929.5,607.9 C912.6,615.4 870.5,642.8 857.7,646.8Z" fill="#fdfdfd" stroke="#3a3a3a" stroke-width="1.5"/>
<path d="M922.1,588.4 C919.7,585.9 924.4,581.3 926.6,579.5 C928.8,577.7 934.1,575.1 938.5,575.0 C942.9,574.9 953.7,576.7 959.5,578.9 C965.3,581.0 983.9,588.2 982.0,590.8 C980.0,593.5 952.5,599.2 944.5,598.9 C936.5,598.6 924.5,591.0 922.1,588.4Z" fill="#f3d6bf"/>
<path d="M857.7,637.9 C858.5,636.5 870.1,627.6 875.7,624.4 C881.2,621.2 900.4,612.5 899.6,613.9 C898.8,615.3 875.3,631.7 869.7,634.9 C864.1,638.1 856.9,639.3 857.7,637.9Z" fill="#f3d6bf" opacity="0.8"/>
<path d="M863.7,711.2 C852.1,711.2 846.3,723.1 842.7,727.7 C839.1,732.3 836.3,741.3 836.7,745.7 C837.1,750.0 841.3,758.2 845.7,760.6 C850.1,763.0 860.5,764.4 869.7,763.6 C878.8,762.8 901.4,757.4 914.6,754.6 C927.8,751.8 958.5,744.7 968.5,742.7 C978.5,740.7 994.6,741.7 989.4,739.7 C984.2,737.7 946.3,731.5 929.5,727.7 C912.8,723.9 875.3,711.2 863.7,711.2Z" fill="#fdfdfd" stroke="#3a3a3a" stroke-width="1.5"/>
<path d="M968.5,742.7 C961.5,745.9 964.2,758.6 967.0,760.6 C969.8,762.6 982.5,760.8 989.4,757.6 C996.4,754.4 1022.2,738.7 1019.4,736.7 C1016.6,734.7 975.5,739.5 968.5,742.7Z" fill="#fdfdfd" stroke="#3a3a3a" stroke-width="1.5"/>
<path d="M866.7,712.7 C865.5,714.1 877.0,725.7 884.6,729.2 C892.2,732.7 912.8,737.2 923.6,739.1 C934.3,740.9 964.7,744.4 965.5,743.3 C966.3,742.1 939.1,734.0 929.5,730.7 C920.0,727.4 902.0,721.1 893.6,718.7 C885.2,716.3 867.9,711.3 866.7,712.7Z" fill="#f3d6bf"/>
<path d="M1136.2,655.8 C1136.2,651.4 1134.6,640.4 1130.2,634.9 C1125.8,629.3 1112.0,618.1 1103.2,613.9 C1094.4,609.7 1074.7,605.8 1064.3,603.4 C1053.9,601.0 1036.1,597.5 1025.4,595.9 C1014.6,594.3 994.2,591.0 983.4,591.4 C972.7,591.8 954.5,596.5 944.5,598.9 C934.5,601.3 918.6,605.0 908.6,609.4 C898.6,613.8 878.8,626.1 869.7,631.9 C860.5,637.7 846.1,647.6 839.7,652.8 C833.3,658.0 824.5,666.4 821.8,670.8 C819.0,675.2 817.6,681.8 818.8,685.8 C820.0,689.8 824.7,697.5 830.7,700.7 C836.7,703.9 854.5,706.9 863.7,709.7 C872.9,712.5 888.8,718.5 899.6,721.7 C910.4,724.9 932.5,731.3 944.5,733.7 C956.5,736.1 979.5,739.7 989.4,739.7 C999.4,739.7 1009.4,737.3 1019.4,733.7 C1029.4,730.1 1052.3,719.1 1064.3,712.7 C1076.3,706.3 1100.4,691.8 1109.2,685.8 C1118.0,679.8 1126.6,671.8 1130.2,667.8 C1133.8,663.8 1136.2,660.2 1136.2,655.8Z" fill="url(#gBr1)" stroke="#3a3a3a" stroke-width="1.6"/>
<path d="M920.6,604.9 C922.2,601.7 932.7,597.9 935.5,601.9 C938.3,605.9 939.5,626.5 941.5,634.9 C943.5,643.2 948.9,656.8 950.5,664.8 C952.1,672.8 953.5,687.6 953.5,694.7 C953.5,701.9 951.9,715.5 950.5,718.7 C949.1,721.9 944.2,723.1 943.0,718.7 C941.8,714.3 942.9,694.9 941.5,685.8 C940.1,676.6 934.9,657.8 932.5,649.8 C930.1,641.8 925.2,631.9 923.6,625.9 C922.0,619.9 919.0,608.1 920.6,604.9Z" fill="#faf4ee" stroke="#777" stroke-width="1"/>
<path d="M1025.4,595.9 C1031.8,592.9 1058.7,600.6 1064.3,603.4 C1069.9,606.2 1068.5,612.3 1067.3,616.9 C1066.1,621.5 1058.1,631.5 1055.3,637.9 C1052.5,644.2 1048.3,658.0 1046.3,664.8 C1044.3,671.6 1041.5,682.0 1040.3,688.8 C1039.1,695.5 1039.3,714.1 1037.3,715.7 C1035.4,717.3 1028.2,706.3 1025.4,700.7 C1022.6,695.1 1018.0,680.6 1016.4,673.8 C1014.8,667.0 1013.4,656.2 1013.4,649.8 C1013.4,643.4 1014.8,633.1 1016.4,625.9 C1018.0,618.7 1019.0,598.9 1025.4,595.9Z" fill="#fbf6f0"/>
<path d="M959.5,715.7 C958.7,712.9 962.7,697.3 965.5,691.8 C968.3,686.2 976.1,677.0 980.5,673.8 C984.8,670.6 994.4,667.4 998.4,667.8 C1002.4,668.2 1009.2,674.0 1010.4,676.8 C1011.6,679.6 1010.2,685.6 1007.4,688.8 C1004.6,692.0 994.2,697.5 989.4,700.7 C984.6,703.9 975.5,710.7 971.5,712.7 C967.5,714.7 960.3,718.5 959.5,715.7Z" fill="#e6c4a0"/>
<path d="M953.5,715.7 C953.5,712.1 954.5,697.7 956.5,691.8 C958.5,685.8 964.9,675.2 968.5,670.8 C972.1,666.4 979.1,661.4 983.4,658.8 C987.8,656.2 998.4,651.3 1001.4,651.3 C1004.4,651.3 1007.9,656.6 1005.9,658.8 C1003.9,661.0 991.0,664.6 986.4,667.8 C981.9,671.0 974.7,678.4 971.5,682.8 C968.3,687.2 964.5,695.9 962.5,700.7 C960.5,705.5 957.7,716.7 956.5,718.7 C955.3,720.7 953.5,719.3 953.5,715.7Z" fill="#5a5a5a"/>
<ellipse cx="989.4" cy="682.8" rx="12" ry="6.5" fill="#f2dfc9" transform="rotate(-30 989.4 682.8)"/>
<path d="M832.2,682.8 L947.5,670.8" fill="none" stroke="#888" stroke-width="1.4" stroke-dasharray="5 3"/>
<path d="M907.1,660.3 C915.8,657.6 940.3,650.6 959.5,643.8 C978.7,637.1 1011.9,623.9 1022.4,619.9" fill="none" stroke="#888" stroke-width="1.4" stroke-dasharray="5 3"/>
<path d="M908.6,609.4 C914.6,607.7 932.0,601.8 944.5,598.9 C957.0,596.1 977.0,593.4 983.4,592.3" fill="none" stroke="#888" stroke-width="1.2" stroke-dasharray="4 3"/>
<circle cx="1074.2" cy="640.8" r="16.3" fill="#fff" stroke="#222" stroke-width="1.8"/><circle cx="1075.7" cy="640.3" r="6.6" fill="#111"/>
<path d="M1129.6,637.3 C1128.2,638.6 1121.8,642.6 1121.2,645.3 C1120.5,648.0 1123.3,651.7 1125.7,653.4 C1128.1,655.2 1133.9,655.4 1135.6,655.8" fill="none" stroke="#3a3a3a" stroke-width="1.3"/>
</g>
<defs><linearGradient id="gHead" gradientUnits="userSpaceOnUse" x1="1870" y1="610" x2="1960" y2="760"><stop offset="0" stop-color="#f9ad45"/><stop offset="1" stop-color="#ea964b"/></linearGradient><linearGradient id="gPec" gradientUnits="userSpaceOnUse" x1="1740" y1="760" x2="1840" y2="850"><stop offset="0" stop-color="#f8a944"/><stop offset="1" stop-color="#ec984b"/></linearGradient></defs>
<g stroke-linejoin="round" stroke-linecap="round">
<path d="M1482.5,878.6 C1472.8,878.3 1458.6,883.1 1449.6,887.5 C1440.6,891.9 1434.5,898.1 1428.3,904.9 C1422.2,911.7 1417.4,915.2 1412.9,928.1 C1408.4,941.0 1400.6,969.0 1401.3,982.2 C1401.9,995.5 1407.4,1001.7 1416.7,1007.4 C1426.1,1013.1 1442.2,1019.1 1457.4,1016.3 C1472.5,1013.5 1494.2,999.0 1507.6,990.8 C1521.0,982.5 1534.6,979.1 1537.8,966.8 C1541.0,954.4 1532.0,929.4 1527.0,916.5 C1521.9,903.6 1515.0,895.7 1507.6,889.4 C1500.2,883.1 1492.2,878.9 1482.5,878.6Z" fill="#ed994b" stroke="#2b2a29" stroke-width="2.2"/>
<path d="M1403.2,986.1 C1405.8,989.3 1409.7,1000.8 1418.7,1005.4 C1427.7,1010.1 1444.5,1015.6 1457.4,1014.0 C1470.2,1012.3 1489.6,998.8 1496.0,995.8" fill="none" stroke="#2b2a29" stroke-width="7"/>
<path d="M1656.5,677.5 C1643.5,676.8 1648.5,659.4 1650.0,649.6 C1651.4,639.8 1657.6,626.7 1665.4,618.7 C1673.3,610.6 1686.7,605.0 1697.2,601.3 C1707.6,597.5 1718.7,596.1 1728.1,596.2 C1737.4,596.4 1745.5,598.8 1753.2,602.4 C1761.0,606.0 1769.5,614.8 1774.5,617.9 C1779.5,621.0 1790.8,615.1 1783.0,621.0 C1775.3,626.9 1749.2,644.1 1728.1,653.5 C1707.0,662.9 1669.6,678.1 1656.5,677.5Z" fill="#ed994b" stroke="#2b2a29" stroke-width="2.2"/>
<path d="M1652.3,678.6 C1650.1,674.1 1642.1,660.1 1643.8,649.6 C1645.5,639.1 1652.8,624.5 1662.3,615.6 C1671.9,606.7 1689.7,599.7 1701.0,596.2 C1712.3,592.8 1728.7,593.4 1730.0,594.7 C1731.3,596.0 1717.5,599.5 1708.8,604.0 C1700.1,608.5 1685.6,614.8 1677.8,621.8 C1670.1,628.7 1665.8,636.6 1662.3,645.8 C1658.9,654.9 1658.6,671.2 1656.9,676.7 C1655.3,682.2 1654.5,683.1 1652.3,678.6Z" fill="#2b2a29"/>
<path d="M1606.3,730.1 C1603.0,720.3 1569.8,734.5 1554.0,737.8 C1538.3,741.2 1522.3,744.2 1511.5,750.2 C1500.7,756.1 1493.6,764.4 1489.1,773.4 C1484.6,782.4 1483.3,794.7 1484.4,804.3 C1485.6,814.0 1491.2,824.2 1496.0,831.4 C1500.9,838.6 1506.9,843.9 1513.4,847.6 C1520.0,851.4 1525.5,862.3 1535.5,853.8 C1545.5,845.3 1561.6,817.2 1573.4,796.6 C1585.2,776.0 1609.5,739.9 1606.3,730.1Z" fill="#ed994b" stroke="#2b2a29" stroke-width="2.2"/>
<path d="M1513.4,753.3 C1512.6,752.0 1495.2,764.9 1490.2,773.4 C1485.3,781.9 1482.8,794.5 1483.7,804.3 C1484.5,814.1 1490.3,824.8 1495.3,832.2 C1500.2,839.6 1507.8,845.4 1513.4,848.8 C1519.0,852.2 1529.2,854.9 1528.9,852.7 C1528.6,850.4 1517.0,842.0 1511.5,835.3 C1506.0,828.5 1498.7,821.1 1496.0,812.1 C1493.3,803.0 1492.4,790.9 1495.3,781.1 C1498.2,771.3 1514.3,754.6 1513.4,753.3Z" fill="#2b2a29"/>
<path d="M1575.3,937.8 C1563.7,947.4 1577.6,958.1 1581.1,966.8 C1584.7,975.5 1588.9,985.0 1596.6,990.0 C1604.3,995.0 1614.6,999.4 1627.5,996.9 C1640.4,994.5 1659.8,985.3 1673.9,975.3 C1688.1,965.2 1701.7,949.0 1712.6,936.6 C1723.6,924.2 1734.7,909.0 1739.7,901.0 C1744.7,893.0 1757.6,887.4 1742.8,888.6 C1728.0,889.9 1678.7,900.6 1650.7,908.8 C1622.8,916.9 1586.9,928.1 1575.3,937.8Z" fill="#ed994b" stroke="#2b2a29" stroke-width="2.2"/>
<path d="M1576.5,939.7 C1575.5,944.9 1576.0,959.9 1579.2,968.7 C1582.4,977.5 1587.4,987.3 1595.8,992.3 C1604.2,997.3 1617.7,1000.2 1629.5,998.5 C1641.2,996.8 1665.9,983.8 1666.2,982.2 C1666.5,980.7 1641.7,989.2 1631.4,989.2 C1621.1,989.2 1611.1,986.6 1604.3,982.2 C1597.6,977.9 1594.0,970.3 1590.8,962.9 C1587.6,955.5 1587.4,941.6 1585.0,937.8 C1582.6,933.9 1577.4,934.5 1576.5,939.7Z" fill="#2b2a29"/>
<path d="M1805.4,856.5 C1799.5,863.6 1799.5,878.0 1800.8,885.6 C1802.1,893.1 1807.3,898.4 1813.2,901.8 C1819.1,905.1 1828.0,908.2 1836.4,905.7 C1844.8,903.1 1856.6,895.3 1863.5,886.3 C1870.3,877.3 1875.3,861.3 1877.4,851.5 C1879.5,841.7 1882.7,829.0 1875.8,827.5 C1869.0,826.1 1848.1,838.2 1836.4,843.0 C1824.7,847.8 1811.4,849.5 1805.4,856.5Z" fill="#ed994b" stroke="#2b2a29" stroke-width="2.2"/>
<path d="M1804.7,860.4 C1803.0,864.7 1798.6,879.2 1800.0,886.3 C1801.5,893.5 1806.8,899.9 1813.2,903.3 C1819.6,906.8 1837.7,908.6 1838.3,907.2 C1839.0,905.9 1822.0,899.5 1817.1,895.2 C1812.1,891.0 1809.7,887.5 1808.5,881.7 C1807.4,875.9 1810.7,864.0 1810.1,860.4 C1809.4,856.9 1806.4,856.1 1804.7,860.4Z" fill="#2b2a29"/>
<path d="M1878.9,616.7 C1888.2,616.0 1912.9,613.8 1921.5,614.0 C1930.1,614.3 1947.0,617.0 1952.4,618.7 C1957.8,620.3 1966.3,625.4 1967.9,628.3 C1969.5,631.3 1964.6,641.8 1966.0,643.8 C1967.3,645.8 1977.7,641.9 1979.5,645.8 C1981.3,649.6 1982.3,669.5 1981.4,676.7 C1980.5,683.9 1975.1,700.0 1971.8,707.6 C1968.4,715.3 1956.5,736.8 1952.4,742.4 C1948.4,748.1 1940.8,753.3 1937.0,756.0 C1933.1,758.7 1923.6,760.9 1919.5,765.7 C1915.5,770.4 1906.9,789.4 1902.1,796.6 C1897.4,803.8 1888.0,821.2 1878.9,827.5 C1869.9,833.9 1842.4,844.0 1824.8,850.7 C1807.2,857.5 1748.4,878.3 1728.1,885.6 C1707.8,892.8 1669.0,906.3 1650.7,912.6 C1632.5,918.9 1584.8,933.4 1571.5,939.7 C1558.1,946.0 1541.8,969.0 1536.6,966.8 C1531.5,964.5 1530.4,929.4 1527.0,920.4 C1523.6,911.3 1513.0,894.2 1507.6,889.4 C1502.2,884.7 1477.4,884.3 1480.6,879.7 C1483.7,875.2 1524.8,860.4 1534.7,850.7 C1544.6,841.0 1557.5,810.6 1565.7,796.6 C1573.8,782.6 1593.7,744.6 1604.3,730.8 C1614.9,717.1 1643.5,688.1 1656.5,678.6 C1669.6,669.2 1701.8,656.4 1716.5,649.6 C1731.2,642.9 1767.6,624.0 1782.2,620.6 C1796.9,617.2 1830.9,621.1 1842.2,620.6 C1853.5,620.2 1869.7,617.5 1878.9,616.7Z" fill="#ed994b" stroke="#2b2a29" stroke-width="2.4"/>
<path d="M1878.9,827.5 L1824.8,850.7 L1728.1,885.6 L1650.7,912.6 L1571.5,939.7 L1572.2,930.0 L1650.7,903.0 L1728.1,875.9 L1824.8,841.1 L1871.2,815.9Z" fill="#d98e52" opacity="0.8"/>
<path d="M1878.9,616.7 C1885.2,612.5 1911.7,613.8 1921.5,614.0 C1931.3,614.3 1946.2,616.8 1952.4,618.7 C1958.6,620.6 1966.1,625.0 1967.9,628.3 C1969.7,631.7 1964.4,641.5 1966.0,643.8 C1967.5,646.1 1977.4,641.4 1979.5,645.8 C1981.6,650.1 1982.5,668.4 1981.4,676.7 C1980.4,684.9 1975.6,698.9 1971.8,707.6 C1967.9,716.4 1957.1,736.0 1952.4,742.4 C1947.8,748.9 1941.6,757.0 1937.0,756.0 C1932.3,755.0 1923.8,741.2 1917.6,734.7 C1911.4,728.3 1896.2,715.4 1890.5,707.6 C1884.9,699.9 1877.2,684.9 1875.1,676.7 C1872.9,668.4 1873.8,653.7 1874.3,645.8 C1874.8,637.8 1872.6,621.0 1878.9,616.7Z" fill="url(#gHead)" stroke="#2b2a29" stroke-width="2.2"/>
<path d="M1842.2,620.6 C1847.6,616.7 1874.7,613.4 1878.9,616.7 C1883.2,620.1 1874.8,637.8 1874.3,645.8 C1873.8,653.7 1872.9,668.4 1875.1,676.7 C1877.2,684.9 1884.9,699.9 1890.5,707.6 C1896.2,715.4 1911.2,728.3 1917.6,734.7 C1924.1,741.2 1938.6,751.9 1938.9,756.0 C1939.1,760.1 1925.5,766.9 1919.5,765.7 C1913.6,764.4 1901.9,753.0 1894.4,746.3 C1886.9,739.6 1870.2,724.7 1863.5,715.4 C1856.8,706.1 1847.5,686.0 1844.1,676.7 C1840.8,667.4 1838.6,653.2 1838.3,645.8 C1838.1,638.3 1836.8,624.5 1842.2,620.6Z" fill="#fff" stroke="#2b2a29" stroke-width="3"/>
<path d="M1604.3,730.8 C1609.2,723.4 1645.7,682.8 1656.5,678.6 C1667.4,674.5 1677.0,695.0 1685.6,699.9 C1694.1,704.8 1707.5,711.0 1720.4,715.4 C1733.3,719.8 1778.1,728.1 1782.2,732.8 C1786.4,737.4 1758.3,743.7 1751.3,750.2 C1744.3,756.6 1733.4,772.9 1730.0,781.1 C1726.7,789.4 1724.9,803.8 1726.2,812.1 C1727.5,820.3 1734.3,835.5 1739.7,843.0 C1745.1,850.5 1768.8,862.7 1766.8,868.1 C1764.7,873.6 1730.9,885.9 1724.2,883.6 C1717.5,881.3 1719.6,860.3 1716.5,850.7 C1713.4,841.2 1706.7,822.4 1701.0,812.1 C1695.3,801.7 1681.7,782.2 1673.9,773.4 C1666.2,764.6 1650.2,751.5 1643.0,746.3 C1635.8,741.2 1625.0,736.8 1619.8,734.7 C1614.6,732.6 1599.4,738.3 1604.3,730.8Z" fill="#fff" stroke="#2b2a29" stroke-width="3"/>
<path d="M1606.3,731.6 C1612.4,734.1 1631.7,739.4 1643.0,746.3 C1654.3,753.3 1664.3,762.4 1673.9,773.4 C1683.6,784.3 1693.9,799.2 1701.0,812.1 C1708.1,825.0 1712.8,839.1 1716.5,850.7 C1720.2,862.3 1722.3,876.5 1723.5,881.7" fill="none" stroke="#2b2a29" stroke-width="5.5"/>
<path d="M1656.5,679.4 C1661.4,682.8 1674.9,693.9 1685.6,699.9 C1696.2,705.9 1704.6,710.0 1720.4,715.4 C1736.2,720.8 1770.3,729.6 1780.3,732.4" fill="none" stroke="#2b2a29" stroke-width="4.5"/>
<path d="M1480.6,879.7 C1485.7,875.1 1525.4,851.5 1534.7,850.7 C1544.0,850.0 1546.6,867.2 1550.2,873.9 C1553.8,880.7 1558.9,892.3 1561.8,901.0 C1564.6,909.8 1574.8,930.9 1571.5,939.7 C1568.1,948.5 1542.1,968.3 1536.6,966.8 C1531.2,965.2 1533.2,936.9 1530.8,928.1 C1528.5,919.3 1523.9,906.7 1519.2,901.0 C1514.6,895.3 1501.2,888.4 1496.0,885.6 C1490.9,882.7 1475.4,884.4 1480.6,879.7Z" fill="#fff" stroke="#2b2a29" stroke-width="3"/>
<path d="M1482.5,880.9 C1484.8,881.7 1489.9,882.2 1496.0,885.6 C1502.2,888.9 1513.4,893.9 1519.2,901.0 C1525.0,908.1 1528.0,917.5 1530.8,928.1 C1533.7,938.7 1535.4,958.7 1536.3,964.8" fill="none" stroke="#2b2a29" stroke-width="6"/>
<path d="M1535.5,851.9 C1537.9,855.6 1545.8,865.8 1550.2,873.9 C1554.6,882.1 1558.3,890.4 1561.8,901.0 C1565.3,911.7 1569.5,931.6 1571.1,937.8" fill="none" stroke="#2b2a29" stroke-width="4"/>
<path d="M1725.4,879.7 L1764.8,866.2 L1766.8,877.8 L1730.0,891.4Z" fill="#e5c3a2"/>
<path d="M1656.5,678.6 L1782.2,620.6" fill="none" stroke="#2b2a29" stroke-width="2"/>
<path d="M1604.3,730.8 L1534.7,850.7" fill="none" stroke="#2b2a29" stroke-width="2"/>
<path d="M1572.2,937.8 L1741.6,887.5" fill="none" stroke="#2b2a29" stroke-width="2"/>
<path d="M1784.2,733.9 C1774.5,736.2 1760.3,742.3 1751.3,750.2 C1742.3,758.0 1734.2,770.8 1730.0,781.1 C1725.8,791.4 1724.5,801.7 1726.2,812.1 C1727.8,822.4 1732.9,835.6 1739.7,843.0 C1746.5,850.4 1755.8,855.3 1766.8,856.5 C1777.7,857.8 1793.8,854.9 1805.4,850.7 C1817.1,846.6 1828.5,840.4 1836.4,831.4 C1844.3,822.4 1851.3,808.2 1852.6,796.6 C1853.9,785.0 1846.8,770.8 1844.1,761.8 C1841.4,752.8 1842.2,746.6 1836.4,742.4 C1830.6,738.3 1818.0,738.1 1809.3,736.6 C1800.6,735.2 1793.8,731.7 1784.2,733.9Z" fill="url(#gPec)" stroke="#2b2a29" stroke-width="2.2"/>
<path d="M1778.4,735.5 C1777.4,734.2 1756.1,742.6 1747.4,750.2 C1738.7,757.8 1730.4,770.5 1726.2,781.1 C1722.0,791.8 1720.4,803.4 1722.3,814.0 C1724.2,824.6 1730.4,837.4 1737.8,844.9 C1745.2,852.5 1764.5,859.6 1766.8,859.2 C1769.0,858.9 1756.1,850.2 1751.3,843.0 C1746.5,835.8 1740.0,825.6 1737.8,815.9 C1735.5,806.3 1735.2,794.7 1737.8,785.0 C1740.3,775.3 1746.5,766.2 1753.2,757.9 C1760.0,749.7 1779.3,736.8 1778.4,735.5Z" fill="#2b2a29"/>
<path d="M1836.4,725.0 C1838.3,727.3 1843.5,735.7 1848.0,738.6 C1852.5,741.5 1859.6,739.2 1863.5,742.4 C1867.3,745.7 1868.0,753.4 1871.2,757.9 C1874.4,762.4 1875.1,767.6 1882.8,769.5 C1890.5,771.5 1911.8,769.5 1917.6,769.5" fill="none" stroke="#2b2a29" stroke-width="2"/>
<path d="M1673.9,626.4 L1712.6,645.8 M1685.6,614.8 L1728.1,638.0 M1704.9,607.1 L1743.6,630.3 M1728.1,603.2 L1759.0,624.5 M1666.2,641.9 L1697.2,657.4 M1503.8,761.8 L1554.0,765.7 M1496.0,781.1 L1550.2,781.1 M1494.1,800.5 L1546.3,796.6 M1499.9,819.8 L1542.4,812.1 M1511.5,835.3 L1542.4,827.5 M1596.6,978.4 L1612.1,947.4 M1615.9,986.1 L1635.3,943.6 M1643.0,984.2 L1662.3,935.8 M1670.1,968.7 L1689.4,924.2 M1697.2,943.6 L1712.6,908.8 M1747.4,761.8 L1790.0,773.4 M1739.7,785.0 L1786.1,788.9 M1737.8,808.2 L1786.1,804.3 M1747.4,831.4 L1790.0,819.8 M1770.6,846.9 L1801.6,831.4 M1809.3,889.4 L1824.8,866.2 M1824.8,897.2 L1840.3,866.2 M1844.1,893.3 L1855.7,858.5 M1418.7,966.8 L1476.7,928.1 M1422.5,990.0 L1484.4,947.4 M1449.6,1005.4 L1503.8,959.0 M1418.7,935.8 L1469.0,912.6 " fill="none" stroke="#d9843e" stroke-width="1.6" opacity="0.8"/>
<circle cx="1902.1" cy="648.8" r="16" fill="#fff" stroke="#2b2a29" stroke-width="2.2"/><circle cx="1902.6" cy="648.8" r="8.6" fill="#111"/>
<path d="M1967.9,628.3 L1965.6,643.8 L1979.5,645.8" fill="none" stroke="#2b2a29" stroke-width="2"/>
</g>
<g stroke-linejoin="round">
<path d="M1069.7,799.8 C1065.7,791.3 1043.3,778.3 1032.3,773.6 C1021.3,768.8 998.4,765.0 987.4,764.2 C976.4,763.5 956.9,764.7 949.9,768.0 C943.0,771.2 937.2,780.3 935.0,788.5 C932.7,796.8 931.6,820.2 933.1,829.7 C934.6,839.2 941.5,853.7 946.2,859.7 C950.9,865.6 959.7,871.9 968.7,874.6 C977.6,877.4 1000.1,879.7 1013.6,880.2 C1027.0,880.7 1059.7,879.4 1069.7,878.4 C1079.7,877.4 1089.4,878.3 1088.4,872.8 C1087.4,867.3 1064.7,846.9 1062.2,837.2 C1059.7,827.5 1073.7,808.3 1069.7,799.8Z" fill="#fff" stroke="#3a3a3a" stroke-width="1.6"/>
<path d="M1099.7,790.4 C1088.2,789.9 1080.7,773.3 1077.2,766.1 C1073.7,758.9 1072.0,742.6 1073.5,736.1 C1075.0,729.7 1082.4,720.9 1088.4,717.4 C1094.4,713.9 1109.9,710.2 1118.4,709.9 C1126.9,709.7 1142.6,712.1 1152.1,715.6 C1161.5,719.1 1180.5,731.4 1189.5,736.1 C1198.5,740.9 1222.9,746.6 1219.4,751.1 C1215.9,755.6 1179.3,764.6 1163.3,769.8 C1147.3,775.1 1111.1,790.9 1099.7,790.4Z" fill="#fff" stroke="#3a3a3a" stroke-width="1.6"/>
<path d="M1193.2,736.1 C1189.7,731.7 1206.0,721.3 1211.9,719.3 C1217.9,717.3 1230.7,718.4 1238.1,721.2 C1245.6,723.9 1261.4,735.8 1268.1,739.9 C1274.8,744.0 1292.7,750.1 1288.7,751.9 C1284.7,753.6 1250.9,755.1 1238.1,753.0 C1225.4,750.9 1196.7,740.6 1193.2,736.1Z" fill="#f6dcc8" stroke="#3a3a3a" stroke-width="1.4"/>
<path d="M1122.1,766.8 C1120.4,763.5 1126.5,755.7 1131.5,754.1 C1136.5,752.5 1153.3,753.4 1159.5,754.9 C1165.8,756.4 1180.3,762.1 1178.3,765.3 C1176.3,768.6 1152.1,779.0 1144.6,779.2 C1137.1,779.4 1123.9,770.2 1122.1,766.8Z" fill="#f3d3b8"/>
<path d="M1107.1,882.1 C1095.7,879.6 1083.7,886.1 1077.2,889.6 C1070.7,893.1 1060.0,902.8 1058.5,908.3 C1057.0,913.8 1061.0,925.8 1066.0,930.8 C1071.0,935.8 1085.4,943.5 1095.9,945.7 C1106.4,948.0 1131.1,948.6 1144.6,947.6 C1158.1,946.6 1187.5,940.3 1197.0,938.3 C1206.5,936.3 1220.2,936.6 1215.7,932.6 C1211.2,928.7 1177.8,915.1 1163.3,908.3 C1148.8,901.6 1118.6,884.6 1107.1,882.1Z" fill="#fff" stroke="#3a3a3a" stroke-width="1.6"/>
<path d="M1090.3,885.1 C1093.3,881.4 1107.4,880.9 1114.6,884.0 C1121.9,887.1 1136.1,902.3 1144.6,908.3 C1153.1,914.3 1176.3,925.3 1178.3,928.9 C1180.3,932.5 1167.0,935.1 1159.5,935.3 C1152.1,935.4 1131.1,933.1 1122.1,930.0 C1113.1,926.9 1096.4,918.1 1092.2,912.1 C1087.9,906.1 1087.3,888.9 1090.3,885.1Z" fill="#efc9a8"/>
<path d="M1215.7,957.0 C1214.7,953.7 1223.9,946.4 1234.4,943.9 C1244.9,941.4 1288.3,937.0 1294.3,938.3 C1300.3,939.5 1286.3,949.2 1279.3,953.2 C1272.3,957.2 1250.4,967.7 1241.9,968.2 C1233.4,968.7 1216.7,960.2 1215.7,957.0Z" fill="#1c1c1c"/>
<path d="M1436.5,837.2 C1434.0,830.2 1428.0,813.7 1421.6,807.3 C1415.1,800.8 1399.8,793.5 1387.9,788.5 C1375.9,783.6 1346.2,775.1 1331.7,769.8 C1317.3,764.6 1292.8,751.7 1279.3,749.2 C1265.8,746.7 1243.6,749.4 1230.7,751.1 C1217.7,752.9 1199.5,757.1 1182.0,762.3 C1164.5,767.6 1114.6,785.4 1099.7,790.4 C1084.7,795.4 1075.7,794.5 1069.7,799.8 C1063.7,805.0 1054.7,821.7 1054.7,829.7 C1054.7,837.7 1062.7,852.7 1069.7,859.7 C1076.7,866.6 1097.2,875.6 1107.1,882.1 C1117.1,888.6 1133.6,902.1 1144.6,908.3 C1155.6,914.6 1176.5,924.7 1189.5,928.9 C1202.5,933.1 1227.9,938.1 1241.9,940.1 C1255.9,942.1 1280.8,945.1 1294.3,943.9 C1307.8,942.6 1330.5,935.0 1343.0,930.8 C1355.4,926.5 1377.9,916.6 1387.9,912.1 C1397.8,907.6 1411.8,902.1 1417.8,897.1 C1423.8,892.1 1429.8,879.6 1432.8,874.6 C1435.8,869.6 1439.8,864.7 1440.3,859.7 C1440.8,854.7 1439.0,844.2 1436.5,837.2Z" fill="url(#gBr2)" stroke="#3a3a3a" stroke-width="1.7"/>
<path d="M1178.3,764.2 C1183.8,759.0 1216.2,751.2 1223.2,753.0 C1230.2,754.7 1228.7,767.1 1230.7,777.3 C1232.7,787.5 1237.7,816.7 1238.1,829.7 C1238.6,842.7 1236.4,865.4 1234.4,874.6 C1232.4,883.9 1228.2,895.5 1223.2,899.0 C1218.2,902.5 1201.7,905.1 1197.0,900.8 C1192.2,896.6 1189.1,877.6 1187.6,867.1 C1186.1,856.7 1186.5,832.2 1185.7,822.2 C1185.0,812.3 1183.0,800.0 1182.0,792.3 C1181.0,784.6 1172.8,769.5 1178.3,764.2Z" fill="#fff" stroke="#3a3a3a" stroke-width="1.3"/>
<path d="M1320.5,766.1 C1326.5,762.1 1336.2,770.8 1343.0,773.6 C1349.7,776.3 1368.5,781.7 1371.0,786.7 C1373.5,791.7 1365.9,802.8 1361.7,811.0 C1357.4,819.2 1343.2,838.0 1339.2,848.4 C1335.2,858.9 1331.2,880.1 1331.7,889.6 C1332.2,899.1 1344.9,917.1 1343.0,919.5 C1341.0,922.0 1322.7,913.3 1316.8,908.3 C1310.8,903.3 1301.5,890.6 1298.0,882.1 C1294.5,873.6 1290.6,855.2 1290.6,844.7 C1290.6,834.2 1294.0,814.0 1298.0,803.5 C1302.0,793.0 1314.5,770.1 1320.5,766.1Z" fill="#fff" stroke="#3a3a3a" stroke-width="1.3"/>
<path d="M1322.4,874.6 C1324.9,874.6 1329.0,883.6 1331.7,889.6 C1334.5,895.6 1343.7,917.1 1343.0,919.5 C1342.2,922.0 1330.1,912.3 1326.1,908.3 C1322.1,904.3 1313.5,894.1 1313.0,889.6 C1312.5,885.1 1319.9,874.6 1322.4,874.6Z" fill="#ead3bd"/>
<path d="M1165.2,848.4 C1165.2,840.4 1169.3,828.0 1174.5,822.2 C1179.8,816.5 1197.0,806.4 1204.5,805.4 C1211.9,804.4 1223.7,810.5 1230.7,814.7 C1237.7,819.0 1251.6,832.2 1256.9,837.2 C1262.1,842.2 1270.0,845.2 1270.0,852.2 C1270.0,859.2 1261.6,882.6 1256.9,889.6 C1252.1,896.6 1242.4,902.8 1234.4,904.6 C1226.4,906.3 1205.0,905.7 1197.0,902.7 C1189.0,899.7 1178.8,889.4 1174.5,882.1 C1170.3,874.9 1165.2,856.4 1165.2,848.4Z" fill="#fff" fill-opacity="0.72" stroke="#3a3a3a" stroke-width="1.4"/>
<path d="M1183.9,837.2 C1184.5,843.4 1185.4,864.3 1187.6,874.6 C1189.8,884.9 1191.7,894.9 1197.0,899.0 C1202.3,903.0 1213.5,901.8 1219.4,899.0 C1225.4,896.2 1229.7,891.2 1232.5,882.1 C1235.3,873.1 1235.7,850.9 1236.3,844.7" fill="none" stroke="#9a9a9a" stroke-width="1.6"/>
<circle cx="1374.0" cy="834.2" r="21.5" fill="#fff" stroke="#222" stroke-width="2"/><circle cx="1381.0" cy="834.2" r="8.3" fill="#111"/>
<path d="M1438.4,839.1 C1437.4,837.6 1426.4,838.7 1423.4,840.9 C1420.4,843.2 1415.7,852.9 1415.9,855.9 C1416.2,858.9 1422.1,862.9 1425.3,863.4 C1428.5,863.9 1439.5,861.2 1440.3,859.7 C1441.0,858.2 1431.2,854.9 1430.9,852.2 C1430.7,849.4 1439.4,840.6 1438.4,839.1Z" fill="#c4935c" stroke="#3a3a3a" stroke-width="1.2"/>
</g>
<path d="M1328.0,1076.8 C1322.4,1070.5 1307.4,1050.6 1294.3,1039.3 C1281.2,1028.1 1262.5,1017.5 1249.4,1009.4 C1236.3,1001.3 1224.7,996.9 1215.7,990.7 C1206.6,984.4 1198.5,975.1 1195.1,971.9" fill="none" stroke="#1d1d1d" stroke-width="24.4" stroke-linecap="round"/><path d="M1328.0,1073.0 C1323.6,1065.5 1310.5,1043.7 1301.8,1028.1 C1293.0,1012.5 1282.1,993.8 1275.6,979.4 C1269.0,965.1 1265.3,952.6 1262.5,942.0 C1259.7,931.4 1259.4,920.2 1258.7,915.8" fill="none" stroke="#1d1d1d" stroke-width="24.4" stroke-linecap="round"/><path d="M1335.5,1073.0 C1338.0,1066.1 1345.1,1046.2 1350.4,1031.8 C1355.7,1017.5 1363.2,1000.6 1367.3,986.9 C1371.3,973.2 1373.5,959.8 1374.8,949.5 C1376.0,939.2 1374.8,929.2 1374.8,925.2" fill="none" stroke="#1d1d1d" stroke-width="24.4" stroke-linecap="round"/><path d="M1343.0,1076.8 C1347.3,1069.9 1359.8,1054.3 1369.2,1035.6 C1378.5,1016.9 1389.7,986.3 1399.1,964.5 C1408.5,942.6 1418.1,923.9 1425.3,904.6 C1432.5,885.2 1439.3,865.0 1442.1,848.4 C1444.9,831.9 1442.1,812.6 1442.1,805.4" fill="none" stroke="#1d1d1d" stroke-width="24.4" stroke-linecap="round"/><path d="M1402.8,957.0 C1407.2,953.9 1420.3,943.9 1429.0,938.3 C1437.8,932.6 1447.1,927.0 1455.2,923.3 C1463.3,919.5 1474.0,917.1 1477.7,915.8" fill="none" stroke="#1d1d1d" stroke-width="24.4" stroke-linecap="round"/><circle cx="1193.2" cy="970.1" r="21.2" fill="#1d1d1d"/><circle cx="1258.7" cy="913.9" r="21.2" fill="#1d1d1d"/><circle cx="1374.8" cy="923.3" r="21.2" fill="#1d1d1d"/><circle cx="1442.1" cy="803.5" r="21.2" fill="#1d1d1d"/><circle cx="1477.7" cy="915.8" r="21.2" fill="#1d1d1d"/><path d="M1288.7,1054.3 C1285.7,1058.0 1303.5,1077.4 1309.3,1082.4 C1315.0,1087.4 1326.2,1091.5 1331.7,1091.7 C1337.2,1092.0 1346.2,1088.2 1350.4,1084.2 C1354.7,1080.2 1366.0,1065.8 1363.5,1061.8 C1361.0,1057.8 1341.7,1055.3 1331.7,1054.3 C1321.7,1053.3 1291.7,1050.6 1288.7,1054.3Z" fill="#1d1d1d" stroke="#1d1d1d" stroke-width="3.4"/><path d="M1328.0,1076.8 C1322.4,1070.5 1307.4,1050.6 1294.3,1039.3 C1281.2,1028.1 1262.5,1017.5 1249.4,1009.4 C1236.3,1001.3 1224.7,996.9 1215.7,990.7 C1206.6,984.4 1198.5,975.1 1195.1,971.9" fill="none" stroke="#f4bfe6" stroke-width="21.0" stroke-linecap="round"/><path d="M1328.0,1073.0 C1323.6,1065.5 1310.5,1043.7 1301.8,1028.1 C1293.0,1012.5 1282.1,993.8 1275.6,979.4 C1269.0,965.1 1265.3,952.6 1262.5,942.0 C1259.7,931.4 1259.4,920.2 1258.7,915.8" fill="none" stroke="#f4bfe6" stroke-width="21.0" stroke-linecap="round"/><path d="M1335.5,1073.0 C1338.0,1066.1 1345.1,1046.2 1350.4,1031.8 C1355.7,1017.5 1363.2,1000.6 1367.3,986.9 C1371.3,973.2 1373.5,959.8 1374.8,949.5 C1376.0,939.2 1374.8,929.2 1374.8,925.2" fill="none" stroke="#f4bfe6" stroke-width="21.0" stroke-linecap="round"/><path d="M1343.0,1076.8 C1347.3,1069.9 1359.8,1054.3 1369.2,1035.6 C1378.5,1016.9 1389.7,986.3 1399.1,964.5 C1408.5,942.6 1418.1,923.9 1425.3,904.6 C1432.5,885.2 1439.3,865.0 1442.1,848.4 C1444.9,831.9 1442.1,812.6 1442.1,805.4" fill="none" stroke="#f4bfe6" stroke-width="21.0" stroke-linecap="round"/><path d="M1402.8,957.0 C1407.2,953.9 1420.3,943.9 1429.0,938.3 C1437.8,932.6 1447.1,927.0 1455.2,923.3 C1463.3,919.5 1474.0,917.1 1477.7,915.8" fill="none" stroke="#f4bfe6" stroke-width="21.0" stroke-linecap="round"/><circle cx="1193.2" cy="970.1" r="19.5" fill="#f4bfe6"/><circle cx="1258.7" cy="913.9" r="19.5" fill="#f4bfe6"/><circle cx="1374.8" cy="923.3" r="19.5" fill="#f4bfe6"/><circle cx="1442.1" cy="803.5" r="19.5" fill="#f4bfe6"/><circle cx="1477.7" cy="915.8" r="19.5" fill="#f4bfe6"/><path d="M1288.7,1054.3 C1285.7,1058.0 1303.5,1077.4 1309.3,1082.4 C1315.0,1087.4 1326.2,1091.5 1331.7,1091.7 C1337.2,1092.0 1346.2,1088.2 1350.4,1084.2 C1354.7,1080.2 1366.0,1065.8 1363.5,1061.8 C1361.0,1057.8 1341.7,1055.3 1331.7,1054.3 C1321.7,1053.3 1291.7,1050.6 1288.7,1054.3Z" fill="#f4bfe6"/>
<text x="1372.5" y="677.5" font-size="39" fill="#1a6fa3" text-anchor="middle">typical</text>
<text x="1372.5" y="724.5" font-size="39" fill="#1a6fa3" text-anchor="middle">development</text>
<defs><linearGradient id="gAt" gradientUnits="userSpaceOnUse" x1="1370" y1="0" x2="1650" y2="0"><stop offset="0" stop-color="#f2deb4"/><stop offset="0.6" stop-color="#f1cf93"/><stop offset="1" stop-color="#f0cd8e"/></linearGradient></defs>
<path d="M1696.2,135.7 A192,192 0 1 1 1576.1,13.5" fill="none" stroke="#3a3a3a" stroke-width="2.2"/>
<polygon points="1673.0,180.5 1762.5,270.0 1673.0,359.5 1583.5,270.0" fill="#fff" stroke="#f46a6a" stroke-width="8.8" stroke-linejoin="miter"/>
<line x1="1635.6" y1="260.3" x2="1714.8" y2="292.7" stroke="#808080" stroke-width="9.8" stroke-linecap="round"/><circle cx="1634.4" cy="263.2" r="5.7" fill="#808080"/><circle cx="1636.8" cy="257.3" r="5.7" fill="#808080"/><circle cx="1713.6" cy="295.7" r="5.7" fill="#808080"/><circle cx="1716.0" cy="289.8" r="5.7" fill="#808080"/><line x1="1635.6" y1="260.3" x2="1714.8" y2="292.7" stroke="#fff" stroke-width="6.8" stroke-linecap="round"/><circle cx="1634.4" cy="263.2" r="4.2" fill="#fff"/><circle cx="1636.8" cy="257.3" r="4.2" fill="#fff"/><circle cx="1713.6" cy="295.7" r="4.2" fill="#fff"/><circle cx="1716.0" cy="289.8" r="4.2" fill="#fff"/><line x1="1714.8" y1="260.3" x2="1635.6" y2="292.7" stroke="#808080" stroke-width="9.8" stroke-linecap="round"/><circle cx="1713.6" cy="257.3" r="5.7" fill="#808080"/><circle cx="1716.0" cy="263.2" r="5.7" fill="#808080"/><circle cx="1634.4" cy="289.8" r="5.7" fill="#808080"/><circle cx="1636.8" cy="295.7" r="5.7" fill="#808080"/><line x1="1714.8" y1="260.3" x2="1635.6" y2="292.7" stroke="#fff" stroke-width="6.8" stroke-linecap="round"/><circle cx="1713.6" cy="257.3" r="4.2" fill="#fff"/><circle cx="1716.0" cy="263.2" r="4.2" fill="#fff"/><circle cx="1634.4" cy="289.8" r="4.2" fill="#fff"/><circle cx="1636.8" cy="295.7" r="4.2" fill="#fff"/>
<path d="M1648.7,242.2 C1648.5,237.0 1649.5,227.7 1651.8,223.5 C1654.2,219.3 1659.6,215.5 1664.3,214.1 C1669.0,212.7 1678.1,212.5 1683.0,214.1 C1687.9,215.8 1694.6,220.8 1697.0,225.0 C1699.5,229.3 1699.7,237.3 1699.2,242.2 C1698.8,247.1 1695.7,254.5 1693.9,257.8 C1692.2,261.1 1688.8,261.2 1687.7,264.0 C1686.6,266.8 1687.9,273.7 1686.8,276.5 C1685.6,279.3 1682.7,281.8 1679.9,282.7 C1677.1,283.7 1670.8,283.7 1668.0,282.7 C1665.2,281.8 1662.3,279.3 1661.2,276.5 C1660.1,273.7 1661.7,266.8 1660.6,264.0 C1659.4,261.2 1655.2,261.1 1653.4,257.8 C1651.6,254.5 1648.9,247.3 1648.7,242.2Z" fill="#fff" stroke="#808080" stroke-width="2.8"/>
<path d="M1654.9,248.4 L1669.0,248.4 L1667.4,254.7 L1659.6,255.3Z" fill="#808080"/>
<path d="M1679.0,248.4 L1693.0,248.4 L1688.6,255.3 L1680.5,254.7Z" fill="#808080"/>
<path d="M1674.0,260.3 L1677.4,267.8 L1670.5,267.8Z" fill="#808080"/>
<g stroke-linejoin="round">
<path d="M1389.8,170.5 C1388.1,165.7 1366.9,156.0 1358.6,153.3 C1350.3,150.6 1334.1,149.1 1327.4,150.2 C1320.8,151.2 1312.0,157.1 1308.7,161.1 C1305.4,165.0 1302.9,174.0 1302.5,179.8 C1302.1,185.6 1303.5,198.9 1305.6,204.8 C1307.7,210.6 1313.1,219.9 1318.1,223.5 C1323.1,227.0 1336.0,230.9 1343.0,231.3 C1350.1,231.7 1364.0,227.6 1371.1,226.6 C1378.2,225.6 1395.2,226.4 1396.1,223.5 C1396.9,220.6 1380.6,209.3 1377.3,204.8 C1374.1,200.2 1370.1,193.7 1371.7,189.2 C1373.4,184.6 1391.6,175.2 1389.8,170.5Z" fill="#fff" fill-opacity="0.85" stroke="#3a3a3a" stroke-width="1.5"/>
<path d="M1408.5,162.7 C1401.9,161.4 1397.3,147.6 1396.1,142.4 C1394.8,137.2 1396.7,127.6 1399.2,123.7 C1401.7,119.7 1409.4,114.0 1414.8,112.8 C1420.2,111.5 1433.1,112.9 1439.7,114.3 C1446.4,115.8 1458.0,120.8 1464.7,123.7 C1471.3,126.6 1492.1,132.4 1489.6,136.1 C1487.1,139.9 1456.8,148.2 1446.0,151.7 C1435.1,155.3 1415.2,163.9 1408.5,162.7Z" fill="#fff" stroke="#3a3a3a" stroke-width="1.5"/>
<path d="M1419.4,147.1 C1417.8,145.0 1421.4,140.4 1424.1,139.3 C1426.8,138.1 1435.6,137.6 1439.7,138.6 C1443.9,139.7 1455.7,144.9 1455.3,147.1 C1454.9,149.2 1441.4,154.9 1436.6,154.9 C1431.8,154.9 1421.1,149.1 1419.4,147.1Z" fill="#f8e7b8"/>
<path d="M1477.1,126.8 C1476.3,124.1 1496.3,119.4 1502.1,119.0 C1507.9,118.6 1515.4,121.2 1520.8,123.7 C1526.2,126.2 1544.3,135.6 1542.7,137.7 C1541.0,139.8 1517.1,140.7 1508.3,139.3 C1499.6,137.8 1478.0,129.5 1477.1,126.8Z" fill="#fff" stroke="#3a3a3a" stroke-width="1.5"/>
<path d="M1408.5,232.8 C1401.9,231.6 1388.1,236.2 1383.6,239.1 C1379.0,242.0 1374.8,250.1 1374.2,254.7 C1373.6,259.2 1376.0,269.4 1378.9,273.4 C1381.8,277.3 1389.6,283.5 1396.1,284.3 C1402.5,285.1 1419.8,281.5 1427.2,279.6 C1434.7,277.8 1447.0,272.3 1452.2,270.3 C1457.4,268.2 1468.7,266.9 1466.2,264.0 C1463.7,261.1 1441.2,252.6 1433.5,248.4 C1425.8,244.3 1415.2,234.1 1408.5,232.8Z" fill="#fff" stroke="#3a3a3a" stroke-width="1.5"/>
<path d="M1396.1,236.0 C1394.3,239.1 1392.9,253.5 1395.4,257.8 C1397.9,262.0 1408.0,266.0 1414.8,267.8 C1421.5,269.5 1440.3,271.3 1446.0,270.9 C1451.6,270.5 1459.4,267.6 1456.9,264.7 C1454.4,261.7 1433.7,252.5 1427.2,248.4 C1420.8,244.4 1412.7,236.1 1408.5,234.4 C1404.4,232.7 1397.8,232.8 1396.1,236.0Z" fill="#f8e6b4"/>
<path d="M1484.9,290.5 C1484.3,288.9 1492.9,281.3 1499.0,279.6 C1505.1,277.9 1542.0,273.1 1545.8,273.4 C1549.5,273.7 1540.5,280.5 1536.4,282.7 C1532.4,285.0 1510.4,295.1 1505.2,295.8 C1500.1,296.6 1485.6,292.2 1484.9,290.5Z" fill="#3b3b3b"/>
<path d="M1651.8,214.1 C1651.0,209.5 1647.0,195.4 1642.5,189.2 C1637.9,182.9 1625.0,172.3 1617.5,167.3 C1610.0,162.3 1595.9,155.5 1586.3,151.7 C1576.8,148.0 1556.2,141.3 1545.8,139.3 C1535.4,137.2 1519.2,135.7 1508.3,136.1 C1497.5,136.6 1476.3,139.5 1464.7,142.4 C1453.0,145.3 1431.8,154.2 1421.0,158.0 C1410.2,161.7 1390.2,166.3 1383.6,170.5 C1376.9,174.6 1371.9,183.8 1371.1,189.2 C1370.3,194.6 1373.2,205.6 1377.3,211.0 C1381.5,216.4 1394.8,224.7 1402.3,229.7 C1409.8,234.7 1423.5,243.9 1433.5,248.4 C1443.5,253.0 1464.7,260.7 1477.1,264.0 C1489.6,267.4 1515.4,272.1 1527.1,273.4 C1538.7,274.6 1554.5,275.1 1564.5,273.4 C1574.5,271.7 1592.8,265.5 1601.9,260.9 C1611.1,256.3 1626.9,244.1 1633.1,239.1 C1639.3,234.1 1646.2,226.8 1648.7,223.5 C1651.2,220.2 1652.7,218.7 1651.8,214.1Z" fill="url(#gAt)" stroke="#3a3a3a" stroke-width="1.7"/>
<path d="M1461.6,147.1 C1464.5,144.4 1485.1,140.2 1489.6,140.8 C1494.2,141.4 1495.9,148.6 1495.9,151.7 C1495.9,154.9 1492.1,161.9 1489.6,164.2 C1487.1,166.5 1480.1,169.3 1477.1,168.9 C1474.2,168.5 1469.9,164.0 1467.8,161.1 C1465.7,158.2 1458.6,149.8 1461.6,147.1Z" fill="#fdf4e2" stroke="#3a3a3a" stroke-width="1.5"/>
<path d="M1564.5,147.1 C1570.5,146.0 1595.5,158.3 1598.8,162.7 C1602.1,167.0 1592.8,176.3 1589.4,179.8 C1586.1,183.3 1578.0,188.8 1573.8,189.2 C1569.7,189.6 1561.0,185.4 1558.2,182.9 C1555.5,180.4 1552.7,175.2 1553.6,170.5 C1554.4,165.7 1558.5,148.1 1564.5,147.1Z" fill="#fdf4e2" stroke="#3a3a3a" stroke-width="1.5"/>
<path d="M1489.6,207.9 C1490.9,202.3 1498.8,194.3 1502.1,193.8 C1505.4,193.4 1511.5,201.4 1514.6,204.8 C1517.7,208.1 1524.5,212.8 1525.5,218.8 C1526.5,224.8 1525.1,245.4 1522.4,250.0 C1519.7,254.6 1509.2,255.0 1505.2,253.1 C1501.3,251.2 1494.8,242.0 1492.7,236.0 C1490.7,229.9 1488.4,213.5 1489.6,207.9Z" fill="#fdf4e2" stroke="#3a3a3a" stroke-width="1.5"/>
<circle cx="1600.9" cy="204.0" r="20" fill="#6e5c3e"/>
<circle cx="1601.9" cy="198.0" r="15.8" fill="#fff" stroke="#222" stroke-width="1.8"/><circle cx="1594.9" cy="199.5" r="5.8" fill="#111"/>
<path d="M1645.6,202.3 C1644.4,202.5 1633.7,210.5 1633.7,212.6 C1633.7,214.6 1643.2,217.6 1645.6,217.9 C1648.0,218.2 1652.2,215.7 1651.8,214.7 C1651.4,213.8 1643.3,212.7 1642.5,211.0 C1641.6,209.3 1646.7,202.1 1645.6,202.3Z" fill="#d4a86c" stroke="#3a3a3a" stroke-width="1.2"/>
</g>
<defs>
<linearGradient id="fadeR" gradientUnits="userSpaceOnUse" x1="1985" x2="2038" y1="0" y2="0">
 <stop offset="0" stop-color="#fff" stop-opacity="0"/><stop offset="1" stop-color="#fff" stop-opacity="1"/>
</linearGradient>
</defs>
<rect x="600" y="1279" width="580" height="316.5" fill="url(#gB)"/>
<rect x="200" y="1694" width="575" height="317" fill="url(#gB)"/>
<rect x="140" y="1694" width="210" height="62" fill="#fff"/>
<rect x="1055" y="2059" width="570" height="316" fill="url(#gB)"/>
<line x1="1020.5" y1="1288.5" x2="1020.5" y2="2790" stroke="#a8a8a8" stroke-width="8" stroke-dasharray="33 18"/>
<path d="M129.0,1552.0 C174.2,1552.0 328.2,1552.0 400.0,1552.0 C471.8,1552.0 526.7,1552.5 560.0,1552.0 C593.3,1551.5 587.5,1550.8 600.0,1549.0 C612.5,1547.2 619.8,1547.0 635.0,1541.0 C650.2,1535.0 672.3,1525.8 691.0,1513.0 C709.7,1500.2 731.4,1480.1 747.0,1464.5 C762.6,1448.9 772.1,1435.8 784.6,1419.5 C797.1,1403.2 809.5,1384.5 822.0,1367.0 C834.5,1349.5 848.2,1330.9 859.4,1314.7 C870.6,1298.5 880.7,1280.1 889.4,1269.8 C898.1,1259.5 905.2,1256.5 911.8,1253.0 C918.3,1249.5 923.1,1248.7 928.7,1249.0 C934.3,1249.3 939.6,1250.8 945.5,1254.9 C951.4,1259.0 956.5,1265.5 964.0,1273.6 C971.5,1281.7 979.8,1292.3 990.4,1303.5 C1001.0,1314.7 1012.3,1327.8 1027.9,1341.0 C1043.5,1354.2 1063.9,1370.2 1083.9,1383.0 C1103.9,1395.8 1115.9,1404.2 1147.8,1418.0 C1179.7,1431.8 1232.9,1452.7 1275.5,1466.0 C1318.1,1479.3 1371.4,1491.1 1403.3,1498.0 C1435.2,1504.9 1434.2,1503.1 1467.0,1507.6 C1499.8,1512.1 1544.5,1518.8 1600.0,1525.0 C1655.5,1531.2 1738.2,1540.4 1800.0,1545.0 C1861.8,1549.6 1931.7,1551.0 1971.0,1552.5 C2010.3,1554.0 2025.2,1553.8 2036.0,1554.0" fill="none" stroke="#f9a3ab" stroke-width="6.5"/>
<path d="M129.0,1582.0 C174.2,1582.0 328.2,1582.0 400.0,1582.0 C471.8,1582.0 526.7,1582.7 560.0,1582.0 C593.3,1581.3 587.5,1580.2 600.0,1578.0 C612.5,1575.8 619.8,1576.7 635.0,1569.0 C650.2,1561.3 672.3,1548.0 691.0,1531.8 C709.7,1515.6 731.4,1490.7 747.0,1472.0 C762.6,1453.3 772.1,1439.5 784.6,1419.5 C797.1,1399.5 810.8,1371.3 822.0,1352.0 C833.2,1332.7 842.7,1315.0 852.0,1303.5 C861.3,1292.0 870.5,1287.1 878.0,1283.0 C885.5,1278.9 890.6,1278.4 896.9,1279.0 C903.2,1279.6 909.4,1281.4 915.6,1286.7 C921.8,1292.0 924.9,1298.8 934.3,1311.0 C943.6,1323.2 959.2,1346.0 971.7,1359.7 C984.2,1373.4 994.6,1383.3 1009.0,1393.0 C1023.4,1402.7 1045.3,1411.4 1057.8,1417.7 C1070.3,1424.0 1068.9,1424.0 1083.9,1431.0 C1098.9,1438.0 1115.9,1447.5 1147.8,1459.7 C1179.7,1471.9 1232.9,1492.2 1275.5,1504.4 C1318.1,1516.6 1371.4,1526.1 1403.3,1533.0 C1435.2,1539.9 1437.2,1541.2 1467.0,1546.0 C1496.8,1550.8 1534.8,1556.7 1582.0,1562.0 C1629.2,1567.3 1695.7,1574.3 1750.0,1578.0 C1804.3,1581.7 1860.3,1583.2 1908.0,1584.3 C1955.7,1585.3 2014.7,1584.3 2036.0,1584.3" fill="none" stroke="#3a8fbf" stroke-width="6.5"/>
<line x1="813.8" y1="1236" x2="893" y2="1269.8" stroke="#f9a3ab" stroke-width="3.2"/>
<line x1="762" y1="1281.8" x2="848" y2="1316.6" stroke="#3a8fbf" stroke-width="3.2"/>
<path d="M130.0,1960.0 C137.5,1960.2 159.2,1962.3 175.0,1961.5 C190.8,1960.7 208.3,1958.6 225.0,1955.0 C241.7,1951.4 258.3,1947.5 275.0,1940.0 C291.7,1932.5 309.2,1923.3 325.0,1910.0 C340.8,1896.7 355.8,1878.3 370.0,1860.0 C384.2,1841.7 396.7,1820.0 410.0,1800.0 C423.3,1780.0 437.5,1758.3 450.0,1740.0 C462.5,1721.7 475.0,1702.5 485.0,1690.0 C495.0,1677.5 502.1,1670.4 510.0,1665.0 C517.9,1659.6 525.0,1657.5 532.5,1657.5 C540.0,1657.5 547.9,1660.0 555.0,1665.0 C562.1,1670.0 567.5,1678.3 575.0,1687.5 C582.5,1696.7 590.8,1710.4 600.0,1720.0 C609.2,1729.6 617.5,1736.7 630.0,1745.0 C642.5,1753.3 659.2,1762.1 675.0,1770.0 C690.8,1777.9 704.2,1783.8 725.0,1792.5 C745.8,1801.2 770.8,1811.6 800.0,1822.0 C829.2,1832.4 866.7,1845.7 900.0,1855.0 C933.3,1864.3 969.4,1871.4 1000.0,1878.0 C1030.6,1884.6 1045.8,1887.5 1083.8,1894.4 C1121.8,1901.3 1183.0,1912.7 1227.9,1919.5 C1272.8,1926.3 1311.2,1930.8 1353.0,1935.0 C1394.8,1939.2 1431.4,1941.3 1478.4,1944.6 C1525.4,1947.9 1573.4,1952.1 1635.0,1955.0 C1696.6,1957.9 1812.5,1960.8 1848.0,1962.0" fill="none" stroke="#f9a3ab" stroke-width="7" stroke-dasharray="11.7 14.3" stroke-linecap="round"/>
<line x1="1843" y1="1962" x2="2036" y2="1962" stroke="#f9a3ab" stroke-width="6.5"/>
<path d="M135.0,1995.0 C145.8,1994.2 182.5,1993.8 200.0,1990.0 C217.5,1986.2 225.8,1980.8 240.0,1972.5 C254.2,1964.2 270.8,1951.2 285.0,1940.0 C299.2,1928.8 312.5,1919.2 325.0,1905.0 C337.5,1890.8 347.5,1874.2 360.0,1855.0 C372.5,1835.8 386.7,1810.8 400.0,1790.0 C413.3,1769.2 428.3,1745.0 440.0,1730.0 C451.7,1715.0 460.4,1706.9 470.0,1700.0 C479.6,1693.1 489.2,1688.9 497.5,1688.5 C505.8,1688.1 511.2,1689.8 520.0,1697.5 C528.8,1705.2 540.0,1723.8 550.0,1735.0 C560.0,1746.2 568.3,1755.0 580.0,1765.0 C591.7,1775.0 608.3,1786.7 620.0,1795.0 C631.7,1803.3 633.3,1805.8 650.0,1815.0 C666.7,1824.2 695.0,1838.8 720.0,1850.0 C745.0,1861.2 770.0,1871.7 800.0,1882.0 C830.0,1892.3 859.0,1902.1 900.0,1912.0 C941.0,1921.9 1001.8,1932.9 1046.0,1941.4 C1090.2,1949.9 1124.2,1956.7 1165.0,1963.0 C1205.8,1969.3 1248.7,1975.0 1290.5,1979.0 C1332.3,1983.0 1363.6,1984.6 1415.8,1987.0 C1468.0,1989.4 1539.7,1992.0 1603.7,1993.4 C1667.7,1994.8 1728.0,1995.1 1800.0,1995.5 C1872.0,1995.9 1996.7,1995.9 2036.0,1996.0" fill="none" stroke="#3a8fbf" stroke-width="7" stroke-dasharray="11.7 14.3" stroke-linecap="round"/>
<path d="M131.0,2314.7 C192.5,2314.7 355.2,2314.7 500.0,2314.7 C644.8,2314.7 906.7,2315.5 1000.0,2314.7 C1093.3,2313.9 1045.5,2312.8 1060.0,2310.0 C1074.5,2307.2 1069.5,2307.8 1087.0,2298.0 C1104.5,2288.2 1143.7,2268.2 1165.0,2251.5 C1186.3,2234.8 1200.3,2216.3 1215.0,2198.0 C1229.7,2179.7 1240.4,2162.6 1253.0,2141.8 C1265.6,2121.0 1279.0,2091.3 1290.5,2073.0 C1302.0,2054.7 1310.3,2042.5 1321.8,2032.0 C1333.3,2021.5 1347.9,2011.8 1359.4,2010.3 C1370.9,2008.8 1381.3,2015.5 1390.7,2022.8 C1400.1,2030.1 1406.4,2041.5 1415.8,2054.0 C1425.2,2066.5 1434.5,2084.4 1447.0,2098.0 C1459.5,2111.6 1475.3,2123.1 1491.0,2135.6 C1506.7,2148.1 1522.2,2159.4 1541.0,2173.0 C1559.8,2186.6 1582.9,2204.5 1603.7,2217.0 C1624.5,2229.5 1645.1,2238.7 1666.0,2248.0 C1686.9,2257.3 1708.1,2265.7 1729.0,2273.0 C1749.9,2280.3 1770.7,2287.0 1791.6,2292.0 C1812.5,2297.0 1828.1,2299.7 1854.2,2303.0 C1880.3,2306.3 1917.7,2309.7 1948.0,2312.0 C1978.3,2314.3 2021.3,2316.2 2036.0,2317.0" fill="none" stroke="#f9a3ab" stroke-width="7" stroke-dasharray="11.7 14.3" stroke-linecap="round"/>
<path d="M139.0,2351.4 C199.2,2351.4 356.5,2351.4 500.0,2351.4 C643.5,2351.4 908.3,2352.5 1000.0,2351.4 C1091.7,2350.3 1035.5,2349.7 1050.0,2345.0 C1064.5,2340.3 1073.0,2332.3 1087.0,2323.5 C1101.0,2314.7 1118.9,2306.6 1134.0,2292.0 C1149.1,2277.4 1164.3,2253.5 1177.8,2235.8 C1191.3,2218.1 1202.5,2203.5 1215.0,2185.7 C1227.5,2167.9 1240.4,2147.8 1253.0,2129.0 C1265.6,2110.2 1280.1,2086.0 1290.5,2073.0 C1300.9,2060.0 1307.8,2055.4 1315.6,2051.0 C1323.4,2046.6 1330.2,2045.1 1337.5,2046.6 C1344.8,2048.1 1350.5,2050.4 1359.4,2060.0 C1368.3,2069.6 1379.2,2089.3 1390.7,2104.0 C1402.2,2118.7 1413.7,2133.3 1428.3,2148.0 C1442.9,2162.7 1459.6,2177.9 1478.4,2192.0 C1497.2,2206.1 1520.1,2220.2 1541.0,2232.7 C1561.9,2245.2 1582.9,2256.6 1603.7,2267.0 C1624.5,2277.4 1645.1,2287.2 1666.0,2295.0 C1686.9,2302.8 1708.1,2308.2 1729.0,2314.0 C1749.9,2319.8 1770.7,2325.3 1791.6,2329.8 C1812.5,2334.3 1828.1,2337.6 1854.2,2341.0 C1880.3,2344.4 1917.7,2347.7 1948.0,2350.0 C1978.3,2352.3 2021.3,2354.0 2036.0,2354.8" fill="none" stroke="#3a8fbf" stroke-width="7" stroke-dasharray="11.7 14.3" stroke-linecap="round"/>
<rect x="1985" y="1530" width="59" height="850" fill="url(#fadeR)"/>
<line x1="124.5" y1="1330" x2="124.5" y2="1630" stroke="#6e6e6e" stroke-width="8"/><polygon points="124.5,1308 138.5,1331 110.5,1331" fill="#6e6e6e"/>
<line x1="124.5" y1="1679" x2="124.5" y2="2095" stroke="#6e6e6e" stroke-width="8"/>
<line x1="124.5" y1="2146" x2="124.5" y2="2469" stroke="#6e6e6e" stroke-width="8"/>
<line x1="124.5" y1="2520" x2="124.5" y2="2821.5" stroke="#6e6e6e" stroke-width="8"/>
<line x1="120.5" y1="2817.5" x2="1962" y2="2817.5" stroke="#6e6e6e" stroke-width="8"/>
<polygon points="1983,2817.5 1960,2805 1960,2830" fill="#6e6e6e"/>
<rect x="123.0" y="2835.5" width="629.5" height="86.5" fill="#fff" stroke="#6e6e6e" stroke-width="4.7"/>
<rect x="768.5" y="2835.5" width="492.0" height="86.5" fill="#fff" stroke="#6e6e6e" stroke-width="4.7"/>
<rect x="1275.5" y="2835.5" width="674.5" height="86.5" fill="#fff" stroke="#6e6e6e" stroke-width="4.7"/>
<text x="448.0" y="2894.5" font-size="39" fill="#222" text-anchor="middle"  >ocean</text>
<text x="1010.0" y="2894.5" font-size="39" fill="#222" text-anchor="middle"  >reef crest</text>
<text x="1593.5" y="2894.5" font-size="39" fill="#222" text-anchor="middle"  >lagoon</text>
<text x="1.5" y="1361.0" font-size="39" fill="#111" text-anchor="start"  >(<tspan font-style="italic">b</tspan>)</text>
<text x="139.0" y="1373.5" font-size="39" fill="#7a7a7a" text-anchor="start" font-style="italic" >A. triostegus</text>
<text x="139.0" y="1732.0" font-size="39" fill="#7a7a7a" text-anchor="start" font-style="italic" >R. aculeatus</text>
<text x="139.0" y="2184.5" font-size="39" fill="#7a7a7a" text-anchor="start" font-style="italic" >C. homei</text>
<text x="143.5" y="2570.5" font-size="39" fill="#7a7a7a" text-anchor="start" font-style="italic" >P. kauderni</text>
<text x="642" y="1228.7" font-size="39" fill="#f9a3ab"><tspan font-weight="bold">TR</tspan> levels</text>
<text x="590" y="1278.5" font-size="39" fill="#3a8fbf"><tspan font-weight="bold">TH</tspan> levels</text>
<rect x="830.5" y="1527.0" width="251.5" height="116.0" fill="#fff" stroke="#6e6e6e" stroke-width="4.2"/>
<text x="960.5" y="1576.0" font-size="39" fill="#222" text-anchor="middle"  >late stage</text>
<text x="960.5" y="1623.5" font-size="39" fill="#222" text-anchor="middle"  >larva</text>
<rect x="830.5" y="1950.0" width="251.5" height="87.0" fill="#fff" stroke="#6e6e6e" stroke-width="4.2"/>
<text x="960.0" y="2005.5" font-size="39" fill="#222" text-anchor="middle"  >juvenile</text>
<rect x="830.5" y="2283.0" width="251.5" height="88.0" fill="#fff" stroke="#6e6e6e" stroke-width="4.2"/>
<text x="960.0" y="2335.0" font-size="39" fill="#222" text-anchor="middle"  >larva</text>
<g transform="translate(192.5,1512.0) rotate(20)"><circle r="20.5" fill="#fff" fill-opacity="0.78" stroke="#3a3a3a" stroke-width="1.8"/><path d="M-12,-2 C-12,-12 -2,-15 3,-9 C6,-4 -2,0 -4,6 C-6,10 -12,8 -12,-2Z" fill="#d4d4d4"/><path d="M4,2 C8,-4 14,-3 13,4 C12,10 6,14 1,12 C-2,10 1,6 4,2Z" fill="#dcdcdc"/></g><g transform="translate(175.0,1542.5) rotate(200)"><circle r="20.5" fill="#fff" fill-opacity="0.78" stroke="#3a3a3a" stroke-width="1.8"/><path d="M-12,-2 C-12,-12 -2,-15 3,-9 C6,-4 -2,0 -4,6 C-6,10 -12,8 -12,-2Z" fill="#d4d4d4"/><path d="M4,2 C8,-4 14,-3 13,4 C12,10 6,14 1,12 C-2,10 1,6 4,2Z" fill="#dcdcdc"/></g><g transform="translate(224.4,1537.4) rotate(80)"><circle r="20.5" fill="#fff" fill-opacity="0.78" stroke="#3a3a3a" stroke-width="1.8"/><path d="M-12,-2 C-12,-12 -2,-15 3,-9 C6,-4 -2,0 -4,6 C-6,10 -12,8 -12,-2Z" fill="#d4d4d4"/><path d="M4,2 C8,-4 14,-3 13,4 C12,10 6,14 1,12 C-2,10 1,6 4,2Z" fill="#dcdcdc"/></g><g transform="translate(250.0,1563.0) rotate(140)"><circle r="20.5" fill="#fff" fill-opacity="0.78" stroke="#3a3a3a" stroke-width="1.8"/><path d="M-12,-2 C-12,-12 -2,-15 3,-9 C6,-4 -2,0 -4,6 C-6,10 -12,8 -12,-2Z" fill="#d4d4d4"/><path d="M4,2 C8,-4 14,-3 13,4 C12,10 6,14 1,12 C-2,10 1,6 4,2Z" fill="#dcdcdc"/></g><g transform="translate(188.0,1588.4) rotate(300)"><circle r="20.5" fill="#fff" fill-opacity="0.78" stroke="#3a3a3a" stroke-width="1.8"/><path d="M-12,-2 C-12,-12 -2,-15 3,-9 C6,-4 -2,0 -4,6 C-6,10 -12,8 -12,-2Z" fill="#d4d4d4"/><path d="M4,2 C8,-4 14,-3 13,4 C12,10 6,14 1,12 C-2,10 1,6 4,2Z" fill="#dcdcdc"/></g><g transform="translate(227.6,1588.4) rotate(250)"><circle r="20.5" fill="#fff" fill-opacity="0.78" stroke="#3a3a3a" stroke-width="1.8"/><path d="M-12,-2 C-12,-12 -2,-15 3,-9 C6,-4 -2,0 -4,6 C-6,10 -12,8 -12,-2Z" fill="#d4d4d4"/><path d="M4,2 C8,-4 14,-3 13,4 C12,10 6,14 1,12 C-2,10 1,6 4,2Z" fill="#dcdcdc"/></g>
<g transform="translate(174.0,1951.0) rotate(20)"><circle r="20.5" fill="#fff" fill-opacity="0.78" stroke="#3a3a3a" stroke-width="1.8"/><path d="M-12,-2 C-12,-12 -2,-15 3,-9 C6,-4 -2,0 -4,6 C-6,10 -12,8 -12,-2Z" fill="#d4d4d4"/><path d="M4,2 C8,-4 14,-3 13,4 C12,10 6,14 1,12 C-2,10 1,6 4,2Z" fill="#dcdcdc"/></g><g transform="translate(156.5,1982.5) rotate(200)"><circle r="20.5" fill="#fff" fill-opacity="0.78" stroke="#3a3a3a" stroke-width="1.8"/><path d="M-12,-2 C-12,-12 -2,-15 3,-9 C6,-4 -2,0 -4,6 C-6,10 -12,8 -12,-2Z" fill="#d4d4d4"/><path d="M4,2 C8,-4 14,-3 13,4 C12,10 6,14 1,12 C-2,10 1,6 4,2Z" fill="#dcdcdc"/></g><g transform="translate(206.0,1979.0) rotate(80)"><circle r="20.5" fill="#fff" fill-opacity="0.78" stroke="#3a3a3a" stroke-width="1.8"/><path d="M-12,-2 C-12,-12 -2,-15 3,-9 C6,-4 -2,0 -4,6 C-6,10 -12,8 -12,-2Z" fill="#d4d4d4"/><path d="M4,2 C8,-4 14,-3 13,4 C12,10 6,14 1,12 C-2,10 1,6 4,2Z" fill="#dcdcdc"/></g><g transform="translate(231.0,2002.5) rotate(140)"><circle r="20.5" fill="#fff" fill-opacity="0.78" stroke="#3a3a3a" stroke-width="1.8"/><path d="M-12,-2 C-12,-12 -2,-15 3,-9 C6,-4 -2,0 -4,6 C-6,10 -12,8 -12,-2Z" fill="#d4d4d4"/><path d="M4,2 C8,-4 14,-3 13,4 C12,10 6,14 1,12 C-2,10 1,6 4,2Z" fill="#dcdcdc"/></g><g transform="translate(169.0,2029.0) rotate(300)"><circle r="20.5" fill="#fff" fill-opacity="0.78" stroke="#3a3a3a" stroke-width="1.8"/><path d="M-12,-2 C-12,-12 -2,-15 3,-9 C6,-4 -2,0 -4,6 C-6,10 -12,8 -12,-2Z" fill="#d4d4d4"/><path d="M4,2 C8,-4 14,-3 13,4 C12,10 6,14 1,12 C-2,10 1,6 4,2Z" fill="#dcdcdc"/></g><g transform="translate(209.0,2030.0) rotate(250)"><circle r="20.5" fill="#fff" fill-opacity="0.78" stroke="#3a3a3a" stroke-width="1.8"/><path d="M-12,-2 C-12,-12 -2,-15 3,-9 C6,-4 -2,0 -4,6 C-6,10 -12,8 -12,-2Z" fill="#d4d4d4"/><path d="M4,2 C8,-4 14,-3 13,4 C12,10 6,14 1,12 C-2,10 1,6 4,2Z" fill="#dcdcdc"/></g>
<g transform="translate(197.6,2289.5) rotate(20)"><circle r="20.5" fill="#fff" fill-opacity="0.78" stroke="#3a3a3a" stroke-width="1.8"/><path d="M-12,-2 C-12,-12 -2,-15 3,-9 C6,-4 -2,0 -4,6 C-6,10 -12,8 -12,-2Z" fill="#d4d4d4"/><path d="M4,2 C8,-4 14,-3 13,4 C12,10 6,14 1,12 C-2,10 1,6 4,2Z" fill="#dcdcdc"/></g><g transform="translate(179.8,2320.0) rotate(200)"><circle r="20.5" fill="#fff" fill-opacity="0.78" stroke="#3a3a3a" stroke-width="1.8"/><path d="M-12,-2 C-12,-12 -2,-15 3,-9 C6,-4 -2,0 -4,6 C-6,10 -12,8 -12,-2Z" fill="#d4d4d4"/><path d="M4,2 C8,-4 14,-3 13,4 C12,10 6,14 1,12 C-2,10 1,6 4,2Z" fill="#dcdcdc"/></g><g transform="translate(229.5,2316.3) rotate(80)"><circle r="20.5" fill="#fff" fill-opacity="0.78" stroke="#3a3a3a" stroke-width="1.8"/><path d="M-12,-2 C-12,-12 -2,-15 3,-9 C6,-4 -2,0 -4,6 C-6,10 -12,8 -12,-2Z" fill="#d4d4d4"/><path d="M4,2 C8,-4 14,-3 13,4 C12,10 6,14 1,12 C-2,10 1,6 4,2Z" fill="#dcdcdc"/></g><g transform="translate(255.0,2338.6) rotate(140)"><circle r="20.5" fill="#fff" fill-opacity="0.78" stroke="#3a3a3a" stroke-width="1.8"/><path d="M-12,-2 C-12,-12 -2,-15 3,-9 C6,-4 -2,0 -4,6 C-6,10 -12,8 -12,-2Z" fill="#d4d4d4"/><path d="M4,2 C8,-4 14,-3 13,4 C12,10 6,14 1,12 C-2,10 1,6 4,2Z" fill="#dcdcdc"/></g><g transform="translate(191.3,2367.3) rotate(300)"><circle r="20.5" fill="#fff" fill-opacity="0.78" stroke="#3a3a3a" stroke-width="1.8"/><path d="M-12,-2 C-12,-12 -2,-15 3,-9 C6,-4 -2,0 -4,6 C-6,10 -12,8 -12,-2Z" fill="#d4d4d4"/><path d="M4,2 C8,-4 14,-3 13,4 C12,10 6,14 1,12 C-2,10 1,6 4,2Z" fill="#dcdcdc"/></g><g transform="translate(232.7,2367.3) rotate(250)"><circle r="20.5" fill="#fff" fill-opacity="0.78" stroke="#3a3a3a" stroke-width="1.8"/><path d="M-12,-2 C-12,-12 -2,-15 3,-9 C6,-4 -2,0 -4,6 C-6,10 -12,8 -12,-2Z" fill="#d4d4d4"/><path d="M4,2 C8,-4 14,-3 13,4 C12,10 6,14 1,12 C-2,10 1,6 4,2Z" fill="#dcdcdc"/></g>
<g stroke-linejoin="round" stroke="#6a6a6a" stroke-width="1.3">
<path d="M321.9,1449.7 C318.8,1445.0 305.5,1436.6 299.9,1433.8 C294.3,1431.0 284.5,1428.5 279.9,1428.8 C275.4,1429.1 268.5,1432.4 266.0,1435.8 C263.4,1439.1 261.0,1448.4 261.0,1453.7 C261.0,1459.1 263.4,1471.2 266.0,1475.7 C268.5,1480.2 275.4,1486.3 279.9,1487.7 C284.5,1489.0 294.2,1488.1 299.9,1485.7 C305.6,1483.3 319.9,1474.5 322.9,1469.7 C325.8,1464.9 324.9,1454.5 321.9,1449.7Z" fill="#f8f8f8"/>
<path d="M271.9,1441.8 L319.9,1457.7 M269.9,1453.7 L319.9,1457.7 M269.9,1465.7 L319.9,1457.7 M275.9,1477.7 L319.9,1457.7 M287.9,1481.7 L319.9,1457.7 M283.9,1433.8 L319.9,1457.7 " stroke="#e4e4e4" stroke-width="2.2" fill="none"/>
<path d="M370.8,1333.0 L424.7,1379.9 L408.7,1393.8 L393.7,1371.9Z" fill="#ececec"/>
<path d="M357.8,1540.6 L405.7,1497.7 L415.7,1513.6Z" fill="#f0f0f0"/>
<path d="M411.7,1528.6 L439.6,1517.6 L451.6,1517.6 L419.7,1530.6Z" fill="#f6f6f6"/>
<path d="M443.6,1555.6 L459.6,1499.7 L465.6,1497.7 L447.6,1555.6Z" fill="#f6f6f6"/>
<path d="M526.5,1437.8 C525.7,1435.7 523.8,1431.0 519.5,1427.8 C515.2,1424.5 495.4,1414.2 489.6,1409.8 C483.7,1405.4 474.2,1393.1 469.6,1389.9 C464.9,1386.6 454.7,1383.0 449.6,1381.9 C444.5,1380.7 430.6,1378.2 425.7,1379.9 C420.8,1381.5 413.1,1393.1 407.7,1395.8 C402.3,1398.6 385.3,1402.0 379.7,1403.8 C374.2,1405.7 364.0,1408.8 359.8,1411.8 C355.6,1414.8 346.8,1425.6 343.8,1429.8 C340.8,1434.0 336.4,1445.4 333.8,1447.8 C331.3,1450.1 323.1,1448.1 321.9,1449.7 C320.6,1451.4 320.8,1459.6 322.9,1461.7 C324.9,1463.8 336.4,1464.9 339.8,1467.7 C343.2,1470.5 348.3,1481.7 351.8,1485.7 C355.3,1489.6 365.1,1498.9 369.8,1501.7 C374.4,1504.4 386.8,1508.9 391.7,1509.6 C396.6,1510.3 408.4,1507.2 411.7,1507.6 C415.0,1508.1 416.4,1512.7 419.7,1513.6 C422.9,1514.6 435.0,1517.0 439.6,1515.6 C444.3,1514.2 455.4,1505.6 459.6,1501.7 C463.8,1497.7 470.9,1485.9 475.6,1481.7 C480.2,1477.5 494.4,1469.0 499.5,1465.7 C504.7,1462.5 516.4,1456.1 519.5,1453.7 C522.6,1451.4 525.7,1447.6 526.5,1445.8 C527.3,1443.9 527.3,1439.9 526.5,1437.8Z" fill="#fafafa"/>
<path d="M437.6,1380.9 C436.3,1383.4 429.8,1392.3 427.7,1399.8 C425.5,1407.4 422.9,1425.8 421.7,1437.8 C420.5,1449.7 419.1,1482.8 418.7,1489.7" fill="none"/>
<path d="M397.7,1403.8 C397.2,1407.3 394.0,1420.5 393.7,1429.8 C393.5,1439.1 393.3,1466.1 395.7,1473.7 C398.1,1481.3 409.6,1485.0 411.7,1486.7" fill="none"/>
<path d="M339.8,1437.8 C342.5,1435.6 352.3,1426.3 359.8,1421.8 C367.2,1417.3 390.9,1406.2 395.7,1403.8" fill="none"/>
<path d="M339.8,1469.7 C343.0,1471.8 355.8,1481.2 363.8,1485.7 C371.8,1490.2 394.9,1501.3 399.7,1503.7" fill="none"/>
<path d="M325.8,1457.7 C331.7,1457.2 357.3,1456.4 369.8,1453.7 C382.3,1451.1 413.0,1439.9 419.7,1437.8" fill="none" stroke="#dcdcdc" stroke-width="2" stroke-dasharray="5 3"/>
<path d="M439.6,1409.8 C442.0,1406.9 446.7,1396.0 449.6,1393.8 C452.6,1391.7 459.2,1392.3 461.6,1393.8 C464.0,1395.4 466.5,1402.6 467.6,1405.8 C468.7,1409.0 472.0,1415.7 469.6,1417.8 C467.2,1419.9 454.7,1422.1 449.6,1421.8 C444.6,1421.5 433.0,1417.4 431.7,1415.8 C430.3,1414.2 437.2,1412.7 439.6,1409.8Z" fill="#e6e6e6"/>
<path d="M420.7,1439.8 C423.6,1436.0 433.9,1433.5 439.6,1433.8 C445.4,1434.0 459.2,1439.6 463.6,1441.8 C468.0,1443.9 472.3,1445.0 472.6,1449.7 C472.8,1454.5 467.9,1470.2 465.6,1477.7 C463.3,1485.2 459.1,1500.6 455.6,1505.6 C452.2,1510.7 443.9,1514.6 439.6,1515.6 C435.4,1516.7 426.5,1517.1 423.7,1513.6 C420.9,1510.2 419.5,1496.6 418.7,1489.7 C417.9,1482.8 417.4,1468.4 417.7,1461.7 C417.9,1455.1 417.7,1443.5 420.7,1439.8Z" fill="#efc6a0" stroke="none"/>
<path d="M425.7,1439.8 C425.7,1437.0 434.8,1434.4 439.6,1434.8 C444.4,1435.2 457.3,1440.6 461.6,1442.8 C465.9,1444.9 470.5,1448.2 471.6,1450.7 C472.6,1453.3 471.7,1460.0 469.6,1461.7 C467.5,1463.5 459.6,1464.5 455.6,1463.7 C451.6,1462.9 443.6,1458.9 439.6,1455.7 C435.6,1452.5 425.7,1442.6 425.7,1439.8Z" fill="#fbeee2" stroke="none"/>
<path d="M439.6,1469.7 C441.0,1467.8 452.4,1474.4 455.6,1475.7 C458.8,1477.0 463.6,1475.7 463.6,1479.7 C463.6,1483.7 458.3,1501.4 455.6,1505.6 C453.0,1509.9 445.0,1513.8 443.6,1511.6 C442.3,1509.5 446.2,1495.3 445.6,1489.7 C445.1,1484.1 438.3,1471.6 439.6,1469.7Z" fill="#f3dcc6" stroke="none"/>
<path d="M431.7,1461.7 C433.8,1463.1 443.2,1469.3 447.6,1471.7 C452.0,1474.1 462.3,1478.6 464.6,1479.7" fill="none"/>
<path d="M473.6,1437.8 C477.0,1437.0 492.9,1432.3 499.5,1431.8 C506.2,1431.2 520.3,1433.5 523.5,1433.8" fill="none"/>
<path d="M472.6,1458.7 C476.2,1458.1 492.7,1455.2 499.5,1453.7 C506.3,1452.3 520.3,1448.6 523.5,1447.8" fill="none"/>
<circle cx="460.6" cy="1427.8" r="13" fill="#fff" stroke="#2a2a2a" stroke-width="2.2"/><circle cx="462.6" cy="1429.3" r="5.6" fill="#111" stroke="none"/>
</g>
<g stroke-linejoin="round" stroke="#6a6a6a" stroke-width="1.3">
<path d="M700.6,1389.0 L746.1,1437.3 L737.4,1454.7 L748.0,1472.1 L730.6,1507.9 L723.8,1507.9 L715.1,1454.7 L709.3,1416.0Z" fill="#fff" fill-opacity="0.75"/>
<path d="M753.8,1390.9 C751.4,1389.0 751.5,1366.1 752.9,1361.9 C754.2,1357.6 762.0,1351.2 767.4,1348.3 C772.7,1345.4 798.3,1335.4 806.0,1332.9 C813.8,1330.4 839.3,1324.0 844.7,1323.2 C850.1,1322.4 857.5,1323.0 860.2,1325.1 C862.9,1327.3 875.3,1341.2 871.8,1344.5 C868.3,1347.8 834.8,1354.3 825.4,1358.0 C815.9,1361.7 784.2,1377.9 777.0,1381.2 C769.9,1384.5 756.2,1392.8 753.8,1390.9Z" fill="#fff" fill-opacity="0.7"/>
<path d="M762.5,1472.1 C756.3,1471.7 762.0,1494.5 763.5,1499.2 C764.9,1503.8 772.8,1515.0 777.0,1518.5 C781.3,1522.0 799.3,1531.7 806.0,1534.0 C812.8,1536.3 838.5,1541.0 844.7,1541.7 C850.9,1542.5 864.2,1544.2 867.9,1541.7 C871.6,1539.2 885.7,1520.5 881.5,1516.6 C877.2,1512.7 837.3,1507.5 825.4,1503.1 C813.5,1498.6 768.7,1472.5 762.5,1472.1Z" fill="#fff" fill-opacity="0.7"/>
<path d="M856.3,1317.4 L880.5,1346.4 L869.8,1346.4 L859.2,1325.1Z" fill="#fff" fill-opacity="0.8"/>
<path d="M867.9,1547.5 L878.6,1512.7 L883.4,1516.6 L871.8,1545.6Z" fill="#fff" fill-opacity="0.85"/>
<path d="M914.3,1543.7 L912.4,1512.7 L927.9,1505.0 L922.1,1528.2Z" fill="#fff" fill-opacity="0.85"/>
<path d="M977.2,1398.6 C976.1,1395.2 970.0,1385.5 966.5,1381.2 C963.0,1376.9 952.4,1365.5 947.2,1361.9 C942.0,1358.3 928.2,1352.2 922.1,1350.3 C916.0,1348.4 900.0,1346.0 895.0,1345.4 C890.0,1344.9 883.6,1345.3 879.5,1345.4 C875.5,1345.6 866.5,1345.2 860.2,1346.4 C853.9,1347.7 833.5,1353.1 825.4,1356.1 C817.2,1359.0 797.3,1367.5 790.6,1371.6 C783.8,1375.6 771.9,1385.3 767.4,1390.9 C762.8,1396.5 754.4,1414.5 751.9,1419.9 C749.4,1425.3 747.9,1434.6 746.1,1437.3 C744.3,1440.0 737.4,1441.1 736.4,1443.1 C735.4,1445.1 736.7,1452.0 737.4,1454.7 C738.1,1457.4 740.3,1464.3 742.2,1466.3 C744.1,1468.3 750.4,1470.5 753.8,1472.1 C757.2,1473.7 766.0,1477.1 771.2,1479.8 C776.4,1482.6 792.0,1492.4 798.3,1495.3 C804.6,1498.3 818.8,1503.0 825.4,1505.0 C831.9,1507.0 847.6,1511.4 854.4,1512.7 C861.1,1514.1 876.6,1516.6 883.4,1516.6 C890.2,1516.6 906.8,1514.5 912.4,1512.7 C918.0,1510.9 927.7,1505.2 931.7,1501.1 C935.8,1497.1 943.8,1483.8 947.2,1477.9 C950.6,1472.0 958.0,1456.9 960.7,1450.8 C963.4,1444.7 968.6,1430.4 970.4,1425.7 C972.2,1421.0 975.4,1413.4 976.2,1410.2 C977.0,1407.1 978.3,1402.0 977.2,1398.6Z" fill="#fff" fill-opacity="0.68"/>
<path d="M782.8,1443.1 L796.4,1408.3 M782.8,1447.0 L790.6,1479.8 M791.5,1439.6 L805.1,1404.0 M791.5,1444.3 L799.3,1479.1 M800.2,1436.1 L813.8,1399.8 M800.2,1441.6 L808.0,1478.3 M808.9,1432.7 L822.5,1395.5 M808.9,1438.9 L816.7,1477.5 M817.6,1429.2 L831.2,1391.3 M817.6,1436.1 L825.4,1476.8 M826.3,1425.7 L839.9,1387.0 M826.3,1433.4 L834.1,1476.0 M835.0,1422.2 L848.6,1382.8 M835.0,1430.7 L842.8,1475.2 M843.7,1418.7 L857.3,1378.5 M843.7,1428.0 L851.5,1474.4 M852.4,1415.3 L866.0,1374.3 M852.4,1425.3 L860.2,1473.7 M861.1,1411.8 L874.7,1370.0 M861.1,1422.6 L868.9,1472.9 M869.8,1408.3 L883.4,1365.8 M869.8,1419.9 L877.6,1472.1 " stroke="#ebebeb" stroke-width="2.5" fill="none"/>
<path d="M880.5,1346.4 C884.5,1344.3 917.2,1354.0 922.1,1356.1 C926.9,1358.2 927.5,1364.8 928.8,1367.7 C930.2,1370.6 934.7,1381.0 935.6,1385.1 C936.5,1389.2 937.1,1403.7 937.5,1408.3 C937.9,1412.9 938.9,1425.9 939.5,1431.5 C940.0,1437.1 943.3,1459.0 943.3,1464.4 C943.3,1469.8 941.6,1481.6 939.5,1485.7 C937.3,1489.7 925.7,1502.1 922.1,1505.0 C918.4,1507.9 906.6,1513.7 902.7,1514.7 C898.9,1515.6 885.1,1520.7 883.4,1514.7 C881.6,1508.7 884.9,1464.6 885.3,1454.7 C885.7,1444.8 887.6,1423.8 887.3,1416.0 C886.9,1408.3 882.1,1384.3 881.5,1377.4 C880.8,1370.4 876.4,1348.5 880.5,1346.4Z" fill="#ece7d6" fill-opacity="0.85" stroke="#6a6a6a" stroke-width="1"/>
<ellipse cx="925.0" cy="1474.0" rx="17" ry="30" fill="#e9c8a8" fill-opacity="0.45" stroke="none"/>
<path d="M883.4,1408.3 C885.7,1406.7 897.6,1414.0 902.7,1416.0 C907.9,1418.1 916.9,1421.7 922.1,1423.8 C927.2,1425.8 939.1,1428.4 941.4,1431.5 C943.7,1434.6 943.3,1445.9 939.5,1447.0 C935.6,1448.0 919.6,1441.8 912.4,1439.2 C905.2,1436.7 889.2,1431.8 885.3,1427.6 C881.5,1423.5 881.1,1409.8 883.4,1408.3Z" fill="#f7f7f7" fill-opacity="0.9" stroke="none"/>
<path d="M833.1,1408.3 L895.0,1437.3 L891.1,1447.0 L895.0,1462.4 L875.7,1458.6 L854.4,1435.4Z" fill="#fff" fill-opacity="0.85"/>
<path d="M937.5,1405.4 C939.3,1403.5 947.2,1401.1 951.1,1400.6 C954.9,1400.0 973.7,1398.6 976.2,1399.6 C978.7,1400.6 977.4,1408.4 976.2,1410.2 C975.1,1412.1 968.1,1416.0 964.6,1418.0 C961.1,1419.9 946.2,1428.6 941.4,1429.6 C936.6,1430.5 917.0,1428.6 916.3,1427.6 C915.5,1426.7 931.5,1422.1 933.7,1419.9 C935.8,1417.7 935.8,1407.3 937.5,1405.4Z" fill="#f4f4f4" fill-opacity="0.9"/>
<circle cx="916.2" cy="1385.1" r="19" fill="#9a9a9a" fill-opacity="0.7" stroke="none"/>
<circle cx="918.2" cy="1385.1" r="16.2" fill="#fff" stroke="#2a2a2a" stroke-width="2"/><circle cx="922.2" cy="1386.1" r="6.8" fill="#111" stroke="none"/>
</g>
<g stroke-linejoin="round" stroke="#6a6a6a" stroke-width="1.3">
<path d="M1089.8,1361.0 C1094.6,1364.9 1128.8,1417.5 1131.7,1423.8 C1134.6,1430.2 1125.4,1434.3 1125.2,1436.9 C1124.9,1439.6 1130.7,1452.4 1129.1,1455.3 C1127.4,1458.1 1110.1,1468.8 1105.5,1471.0 C1100.9,1473.2 1078.2,1481.3 1074.1,1481.5 C1069.9,1481.7 1057.7,1476.7 1055.7,1473.6 C1053.8,1470.6 1050.3,1450.3 1050.5,1444.8 C1050.7,1439.3 1056.4,1413.8 1058.3,1408.1 C1060.3,1402.4 1071.4,1380.6 1074.1,1376.7 C1076.7,1372.8 1085.0,1357.0 1089.8,1361.0Z" fill="#f6f6f6" fill-opacity="0.9"/>
<clipPath id="cpJT"><path d="M1089.8,1361.0 C1094.6,1364.9 1128.8,1417.5 1131.7,1423.8 C1134.6,1430.2 1125.4,1434.3 1125.2,1436.9 C1124.9,1439.6 1130.7,1452.4 1129.1,1455.3 C1127.4,1458.1 1110.1,1468.8 1105.5,1471.0 C1100.9,1473.2 1078.2,1481.3 1074.1,1481.5 C1069.9,1481.7 1057.7,1476.7 1055.7,1473.6 C1053.8,1470.6 1050.3,1450.3 1050.5,1444.8 C1050.7,1439.3 1056.4,1413.8 1058.3,1408.1 C1060.3,1402.4 1071.4,1380.6 1074.1,1376.7 C1076.7,1372.8 1085.0,1357.0 1089.8,1361.0Z"/></clipPath>
<path d="M1109.3,1388.6 L1097.0,1358.3 M1100.1,1393.4 L1082.5,1365.7 M1092.0,1399.7 L1069.6,1375.7 M1085.1,1407.4 L1058.8,1387.9 M1079.8,1416.2 L1050.3,1401.8 M1076.1,1425.8 L1044.5,1417.1 M1074.3,1436.0 L1041.6,1433.1 M1074.3,1446.3 L1041.7,1449.4 M1076.2,1456.4 L1044.8,1465.4 M1080.0,1466.0 L1050.7,1480.6 M1085.4,1474.8 L1059.2,1494.5 M1092.3,1482.4 L1070.2,1506.6 M1100.5,1488.6 L1083.2,1516.4 " stroke="#222" stroke-width="4.6" fill="none" clip-path="url(#cpJT)"/>
<path d="M1126.5,1431.2 L1109.3,1388.6 M1124.8,1432.0 L1100.1,1393.4 M1123.2,1433.2 L1092.0,1399.7 M1122.0,1434.6 L1085.1,1407.4 M1121.0,1436.3 L1079.8,1416.2 M1120.3,1438.1 L1076.1,1425.8 M1120.0,1440.0 L1074.3,1436.0 M1120.0,1441.9 L1074.3,1446.3 M1120.3,1443.8 L1076.2,1456.4 M1121.0,1445.5 L1080.0,1466.0 M1122.0,1447.2 L1085.4,1474.8 M1123.3,1448.6 L1092.3,1482.4 M1124.8,1449.8 L1100.5,1488.6 " stroke="#e2e2e2" stroke-width="3" fill="none" clip-path="url(#cpJT)"/>
<path d="M1152.7,1418.6 C1145.9,1419.4 1152.9,1401.8 1155.3,1397.6 C1157.6,1393.4 1171.0,1380.0 1176.2,1376.7 C1181.5,1373.4 1200.3,1366.5 1207.7,1364.9 C1215.0,1363.3 1240.2,1361.0 1249.6,1361.0 C1259.0,1361.0 1292.1,1363.6 1302.0,1364.9 C1312.0,1366.2 1342.7,1370.3 1349.2,1374.1 C1355.6,1377.9 1370.9,1401.3 1366.2,1402.9 C1361.5,1404.5 1316.3,1391.1 1302.0,1389.8 C1287.7,1388.5 1238.3,1386.9 1223.4,1389.8 C1208.5,1392.7 1159.5,1417.8 1152.7,1418.6Z" fill="#fff" fill-opacity="0.75"/>
<path d="M1129.1,1463.1 C1125.4,1463.1 1131.2,1480.2 1134.3,1486.7 C1137.5,1493.3 1154.2,1520.8 1160.5,1528.6 C1166.8,1536.5 1188.3,1559.0 1197.2,1565.3 C1206.1,1571.6 1247.0,1593.1 1249.6,1591.5 C1252.2,1590.0 1231.3,1560.1 1223.4,1549.6 C1215.5,1539.1 1180.4,1495.4 1171.0,1486.7 C1161.6,1478.1 1132.8,1463.1 1129.1,1463.1Z" fill="#fff" fill-opacity="0.75"/>
<path d="M1439.6,1520.8 C1438.9,1515.9 1435.6,1495.0 1433.0,1486.7 C1430.4,1478.5 1421.6,1457.4 1417.3,1450.0 C1413.0,1442.7 1402.1,1429.2 1396.3,1423.8 C1390.5,1418.5 1375.5,1407.9 1367.5,1404.2 C1359.6,1400.5 1337.4,1394.4 1328.2,1392.4 C1319.0,1390.4 1298.4,1388.1 1288.9,1387.2 C1279.4,1386.2 1256.5,1383.9 1247.0,1384.5 C1237.5,1385.2 1215.9,1389.7 1207.7,1392.4 C1199.4,1395.2 1182.7,1404.8 1176.2,1408.1 C1169.8,1411.5 1157.9,1419.4 1152.7,1421.2 C1147.5,1423.1 1134.9,1422.0 1131.7,1423.8 C1128.5,1425.7 1125.5,1433.3 1125.2,1436.9 C1124.8,1440.6 1126.8,1452.2 1129.1,1455.3 C1131.4,1458.3 1141.1,1459.5 1144.8,1463.1 C1148.5,1466.8 1155.6,1479.7 1160.5,1486.7 C1165.4,1493.8 1180.0,1514.5 1186.7,1523.4 C1193.4,1532.3 1210.8,1555.1 1218.2,1562.7 C1225.5,1570.3 1242.3,1584.3 1249.6,1588.9 C1256.9,1593.5 1274.3,1599.7 1281.0,1602.0 C1287.8,1604.3 1300.2,1608.9 1307.2,1608.6 C1314.3,1608.3 1333.4,1602.6 1341.3,1599.4 C1349.3,1596.2 1367.7,1585.9 1375.4,1581.0 C1383.0,1576.2 1400.7,1562.4 1406.8,1557.5 C1412.9,1552.6 1424.1,1542.5 1427.8,1539.1 C1431.4,1535.8 1436.9,1530.8 1438.2,1528.6 C1439.6,1526.5 1440.2,1525.7 1439.6,1520.8Z" fill="#fff" fill-opacity="0.72"/>
<path d="M1134.3,1442.2 C1146.2,1443.9 1195.8,1454.9 1223.4,1455.3 C1251.0,1455.6 1325.6,1446.2 1341.3,1444.8" fill="none" stroke="#dedede" stroke-width="5" stroke-dasharray="12 8"/>
<path d="M1247.0,1586.3 C1244.1,1583.0 1240.9,1564.9 1241.7,1560.1 C1242.6,1555.3 1254.0,1533.0 1257.5,1528.6 C1261.0,1524.3 1278.2,1510.3 1283.7,1507.7 C1289.1,1505.1 1317.5,1496.3 1323.0,1497.2 C1328.4,1498.1 1345.9,1513.8 1349.2,1518.2 C1352.4,1522.5 1361.8,1544.4 1362.3,1549.6 C1362.7,1554.8 1357.2,1576.7 1354.4,1581.0 C1351.6,1585.4 1332.1,1599.8 1328.2,1602.0 C1324.3,1604.2 1311.6,1607.5 1307.2,1607.2 C1302.9,1607.0 1280.8,1601.1 1275.8,1599.4 C1270.8,1597.6 1249.8,1589.6 1247.0,1586.3Z" fill="#eeead8" fill-opacity="0.8" stroke="#6a6a6a" stroke-width="1"/>
<path d="M1249.6,1587.6 L1302.0,1539.1" fill="none"/>
<path d="M1197.2,1399.0 C1198.3,1397.4 1200.6,1397.0 1200.3,1400.8 C1200.1,1404.6 1196.5,1429.4 1194.6,1436.9 C1192.7,1444.5 1183.6,1470.7 1181.5,1476.2 C1179.4,1481.8 1174.7,1491.7 1173.6,1492.5 C1172.5,1493.3 1169.7,1488.9 1170.5,1484.1 C1171.3,1479.3 1179.6,1451.6 1181.5,1444.8 C1183.4,1438.0 1187.8,1420.6 1189.3,1416.0 C1190.9,1411.4 1196.1,1400.5 1197.2,1399.0Z" fill="#2d2d2d" stroke="none"/>
<path d="M1248.3,1392.4 C1250.2,1391.0 1254.7,1395.8 1254.3,1399.0 C1253.9,1402.1 1245.9,1417.4 1244.4,1423.8 C1242.8,1430.3 1240.7,1455.8 1239.1,1463.1 C1237.6,1470.5 1230.4,1492.2 1228.6,1497.2 C1226.9,1502.2 1222.1,1514.5 1221.6,1513.4 C1221.0,1512.4 1222.4,1493.6 1223.4,1486.7 C1224.4,1479.9 1230.1,1452.1 1231.3,1444.8 C1232.4,1437.5 1233.5,1418.6 1235.2,1413.4 C1236.9,1408.1 1246.4,1393.8 1248.3,1392.4Z" fill="#2d2d2d" stroke="none"/>
<path d="M1290.2,1400.3 C1292.0,1399.0 1299.0,1403.1 1298.9,1406.0 C1298.7,1408.9 1290.4,1423.4 1288.9,1429.1 C1287.4,1434.8 1285.2,1456.3 1283.7,1463.1 C1282.1,1470.0 1275.6,1491.9 1273.2,1497.2 C1270.8,1502.5 1260.1,1517.1 1259.6,1516.1 C1259.0,1515.0 1266.3,1493.3 1267.9,1486.7 C1269.6,1480.1 1274.5,1456.9 1275.8,1450.0 C1277.1,1443.2 1279.6,1423.6 1281.0,1418.6 C1282.5,1413.6 1288.4,1401.5 1290.2,1400.3Z" fill="#2d2d2d" stroke="none"/>
<path d="M1320.3,1371.4 C1320.1,1369.7 1337.9,1372.5 1341.3,1375.4 C1344.7,1378.3 1353.6,1396.2 1354.4,1400.3 C1355.2,1404.3 1350.2,1416.8 1349.2,1416.0 C1348.1,1415.2 1346.8,1396.9 1343.9,1392.4 C1341.0,1387.9 1320.6,1373.1 1320.3,1371.4Z" fill="#555" stroke="none"/>
<defs><linearGradient id="gEyeB" gradientUnits="userSpaceOnUse" x1="1346.5" y1="0" x2="1398.9" y2="0"><stop offset="0" stop-color="#aaa" stop-opacity="0.5"/><stop offset="0.6" stop-color="#333"/><stop offset="1" stop-color="#666" stop-opacity="0.8"/></linearGradient></defs>
<path d="M1367.5,1406.8 C1372.5,1406.8 1393.2,1420.6 1396.3,1426.5 C1399.5,1432.4 1399.5,1458.2 1398.9,1465.8 C1398.4,1473.4 1393.2,1497.2 1391.1,1502.4 C1389.0,1507.7 1379.6,1519.7 1378.0,1518.2 C1376.4,1516.6 1378.3,1493.5 1375.4,1486.7 C1372.5,1479.9 1352.0,1456.1 1349.2,1450.0 C1346.3,1444.0 1344.7,1430.8 1346.5,1426.5 C1348.4,1422.1 1362.5,1406.8 1367.5,1406.8Z" fill="url(#gEyeB)" stroke="none"/>
<path d="M1277.1,1460.5 L1315.1,1515.5 L1307.2,1528.6 L1302.0,1539.1 L1286.3,1526.0 L1283.7,1497.2Z" fill="#fff" fill-opacity="0.85"/>
<path d="M1330.8,1494.6 C1334.0,1498.4 1346.7,1517.5 1354.4,1523.4 C1362.1,1529.3 1378.7,1536.3 1388.5,1539.1 C1398.3,1541.9 1422.5,1543.7 1427.8,1544.4" fill="none"/>
<circle cx="1380.6" cy="1467.1" r="18.3" fill="#fff" fill-opacity="0.92" stroke="#2a2a2a" stroke-width="1.8"/><circle cx="1382.1" cy="1471.1" r="7.2" fill="#111" stroke="none"/>
</g>
<g stroke-linejoin="round" stroke="#555" stroke-width="1.5">
<path d="M1471.0,1437.5 C1472.4,1434.4 1476.6,1433.5 1481.4,1435.8 C1486.3,1438.0 1512.0,1453.9 1519.9,1460.2 C1527.7,1466.5 1556.4,1492.4 1560.0,1498.6 C1563.7,1504.9 1556.0,1518.9 1556.6,1523.1 C1557.1,1527.3 1567.2,1535.3 1565.3,1540.6 C1563.4,1545.8 1543.6,1568.9 1537.3,1575.5 C1531.0,1582.1 1507.6,1603.1 1502.4,1606.9 C1497.2,1610.8 1488.1,1617.1 1484.9,1613.9 C1481.8,1610.8 1473.1,1584.9 1471.0,1575.5 C1468.9,1566.1 1464.3,1530.4 1464.0,1519.6 C1463.6,1508.8 1466.8,1475.4 1467.5,1467.2 C1468.2,1459.0 1469.6,1440.7 1471.0,1437.5Z" fill="#f0eac3"/>
<clipPath id="cpAT"><path d="M1471.0,1437.5 C1472.4,1434.4 1476.6,1433.5 1481.4,1435.8 C1486.3,1438.0 1512.0,1453.9 1519.9,1460.2 C1527.7,1466.5 1556.4,1492.4 1560.0,1498.6 C1563.7,1504.9 1556.0,1518.9 1556.6,1523.1 C1557.1,1527.3 1567.2,1535.3 1565.3,1540.6 C1563.4,1545.8 1543.6,1568.9 1537.3,1575.5 C1531.0,1582.1 1507.6,1603.1 1502.4,1606.9 C1497.2,1610.8 1488.1,1617.1 1484.9,1613.9 C1481.8,1610.8 1473.1,1584.9 1471.0,1575.5 C1468.9,1566.1 1464.3,1530.4 1464.0,1519.6 C1463.6,1508.8 1466.8,1475.4 1467.5,1467.2 C1468.2,1459.0 1469.6,1440.7 1471.0,1437.5Z"/></clipPath>
<path d="M1550.2,1500.3 L1502.9,1439.8 M1547.8,1502.5 L1493.0,1448.6 M1545.8,1504.9 L1484.4,1458.6 M1544.0,1507.6 L1477.1,1469.7 M1542.6,1510.4 L1471.4,1481.7 M1541.6,1513.5 L1467.2,1494.2 M1541.0,1516.6 L1464.7,1507.3 M1540.8,1519.8 L1464.0,1520.5 M1541.1,1523.0 L1465.0,1533.7 M1541.7,1526.1 L1467.7,1546.7 M1542.8,1529.2 L1472.0,1559.2 M1544.2,1532.0 L1478.0,1571.0 M1546.0,1534.7 L1485.5,1582.0 M1548.1,1537.0 L1494.3,1591.9 M1550.6,1539.1 L1504.3,1600.5 " stroke="#d2d2d2" stroke-width="4" fill="none" clip-path="url(#cpAT)"/>
<path d="M1575.8,1491.7 C1573.0,1489.2 1576.8,1458.1 1579.3,1449.7 C1581.7,1441.4 1594.3,1415.5 1600.2,1407.8 C1606.2,1400.1 1629.2,1379.2 1638.6,1372.9 C1648.1,1366.6 1682.7,1349.1 1694.5,1344.9 C1706.4,1340.7 1746.9,1332.2 1757.4,1331.0 C1767.9,1329.7 1791.7,1331.3 1799.3,1332.7 C1807.0,1334.1 1828.3,1342.0 1834.3,1344.9 C1840.2,1347.9 1855.2,1358.9 1858.7,1362.4 C1862.2,1365.9 1867.7,1376.2 1869.2,1379.9 C1870.7,1383.5 1880.4,1398.2 1873.4,1399.1 C1866.4,1400.0 1813.7,1388.8 1799.3,1388.6 C1785.0,1388.4 1743.4,1393.3 1729.5,1397.3 C1715.5,1401.4 1671.8,1421.1 1659.6,1428.8 C1647.4,1436.5 1615.6,1467.9 1607.2,1474.2 C1598.8,1480.5 1578.6,1494.1 1575.8,1491.7Z" fill="#f0eac3"/>
<path d="M1595.0,1457.0 L1607.2,1450.1 M1610.3,1437.7 L1622.6,1441.6 M1625.7,1420.3 L1637.9,1433.2 M1641.1,1404.7 L1653.3,1424.7 M1656.5,1390.9 L1668.7,1416.3 M1671.8,1379.1 L1684.1,1407.8 M1687.2,1369.0 L1699.4,1399.4 M1702.6,1360.9 L1714.8,1390.9 M1717.9,1354.5 L1730.2,1385.8 M1733.3,1350.1 L1745.5,1385.8 M1748.7,1347.4 L1760.9,1385.8 M1764.1,1346.7 L1776.3,1385.8 M1779.4,1347.8 L1791.7,1385.8 M1794.8,1350.7 L1807.0,1385.8 M1810.2,1355.5 L1822.4,1385.8 M1825.5,1362.2 L1837.8,1385.8 M1840.9,1370.7 L1853.1,1385.8 " stroke="#d4d4d4" stroke-width="3.4" fill="none"/>
<path d="M1588.0,1544.1 C1584.5,1545.5 1582.2,1562.9 1582.8,1568.5 C1583.3,1574.1 1590.1,1594.0 1593.2,1600.0 C1596.4,1605.9 1609.0,1623.0 1614.2,1627.9 C1619.4,1632.8 1638.3,1646.2 1645.6,1648.9 C1653.0,1651.5 1679.2,1654.5 1687.6,1654.1 C1695.9,1653.8 1723.9,1648.7 1729.5,1645.4 C1735.1,1642.1 1738.9,1624.1 1743.4,1620.9 C1748.0,1617.8 1777.7,1615.3 1774.9,1613.9 C1772.1,1612.5 1727.0,1609.7 1715.5,1606.9 C1704.0,1604.1 1669.4,1591.2 1659.6,1586.0 C1649.8,1580.7 1624.8,1558.7 1617.7,1554.5 C1610.5,1550.3 1591.5,1542.7 1588.0,1544.1Z" fill="#f0eac3"/>
<path d="M1607.2,1554.5 L1609.0,1600.0 M1621.2,1560.1 L1622.9,1605.2 M1635.2,1565.7 L1636.9,1610.4 M1649.1,1571.3 L1650.9,1615.7 M1663.1,1576.9 L1664.8,1620.9 M1677.1,1582.5 L1678.8,1626.2 M1691.0,1588.1 L1692.8,1631.4 M1705.0,1593.7 L1706.8,1636.6 M1719.0,1599.3 L1720.7,1641.9 M1733.0,1604.8 L1734.7,1647.1 " stroke="#d6d6d6" stroke-width="3.2" fill="none"/>
<path d="M1778.4,1613.9 C1779.1,1615.2 1774.2,1624.8 1771.4,1627.9 C1768.6,1631.0 1754.1,1643.6 1750.4,1645.4 C1746.8,1647.1 1735.1,1647.5 1734.7,1645.4 C1734.4,1643.3 1744.0,1627.4 1746.9,1624.4 C1749.9,1621.4 1761.3,1616.7 1764.4,1615.7 C1767.6,1614.6 1777.7,1612.7 1778.4,1613.9Z" fill="#c9c9c9"/>
<path d="M1988.0,1542.3 C1988.0,1538.2 1978.1,1528.4 1974.0,1519.6 C1969.9,1510.8 1959.2,1477.8 1953.1,1467.2 C1946.9,1456.6 1930.6,1436.5 1921.6,1428.8 C1912.6,1421.0 1887.2,1405.5 1876.2,1400.8 C1865.2,1396.1 1838.7,1390.0 1827.3,1388.6 C1815.9,1387.2 1789.8,1387.8 1778.4,1388.6 C1767.0,1389.4 1740.9,1392.5 1729.5,1395.6 C1718.1,1398.6 1691.2,1408.5 1680.6,1414.8 C1670.0,1421.1 1647.6,1442.0 1638.6,1449.7 C1629.7,1457.5 1611.0,1475.3 1603.7,1481.2 C1596.4,1487.1 1580.9,1497.1 1575.8,1500.4 C1570.7,1503.7 1562.3,1506.5 1560.0,1509.1 C1557.8,1511.8 1555.9,1519.8 1556.6,1523.1 C1557.2,1526.4 1561.4,1535.0 1565.3,1537.1 C1569.2,1539.1 1583.6,1538.5 1589.7,1540.6 C1595.9,1542.6 1609.5,1549.2 1617.7,1554.5 C1625.8,1559.8 1648.2,1579.9 1659.6,1586.0 C1671.0,1592.1 1701.6,1603.7 1715.5,1606.9 C1729.4,1610.2 1771.9,1611.5 1778.4,1613.9 C1784.9,1616.4 1774.7,1624.2 1771.4,1627.9 C1768.1,1631.6 1749.2,1644.1 1750.4,1645.4 C1751.7,1646.6 1772.1,1641.2 1781.9,1638.4 C1791.7,1635.5 1822.1,1625.8 1834.3,1620.9 C1846.5,1616.0 1874.5,1602.6 1886.7,1596.5 C1898.9,1590.3 1928.9,1573.4 1939.1,1568.5 C1949.3,1563.6 1968.3,1557.6 1974.0,1554.5 C1979.7,1551.5 1988.0,1546.4 1988.0,1542.3Z" fill="#e7e7e7"/>
<path d="M1600.2,1544.8 C1600.2,1543.5 1646.7,1569.3 1659.6,1573.8 C1672.5,1578.2 1715.5,1588.3 1729.5,1589.5 C1743.4,1590.7 1785.4,1588.4 1799.3,1586.0 C1813.3,1583.5 1852.4,1568.5 1869.2,1565.0 C1886.0,1561.5 1960.0,1550.7 1967.0,1551.0 C1974.0,1551.4 1947.1,1564.0 1939.1,1568.5 C1931.0,1573.1 1897.2,1591.2 1886.7,1596.5 C1876.2,1601.7 1844.8,1616.7 1834.3,1620.9 C1823.8,1625.1 1789.9,1636.1 1781.9,1638.4 C1773.8,1640.7 1754.8,1644.8 1753.9,1643.6 C1753.1,1642.4 1770.7,1629.1 1773.1,1626.2 C1775.6,1623.2 1784.1,1615.9 1778.4,1613.9 C1772.6,1612.0 1727.4,1609.7 1715.5,1606.9 C1703.6,1604.1 1671.1,1592.2 1659.6,1586.0 C1648.1,1579.8 1600.2,1546.0 1600.2,1544.8Z" fill="#cfcfcf" stroke="none"/>
<path d="M1659.6,1421.8 C1660.7,1418.6 1663.6,1419.7 1663.8,1425.3 C1664.0,1430.9 1661.1,1466.5 1661.4,1477.7 C1661.6,1488.9 1665.7,1527.2 1666.6,1537.1 C1667.5,1546.9 1671.1,1574.5 1670.8,1576.2 C1670.4,1577.9 1664.9,1561.9 1663.1,1554.5 C1661.3,1547.1 1653.7,1511.9 1652.6,1502.1 C1651.6,1492.4 1651.9,1464.8 1652.6,1456.7 C1653.3,1448.7 1658.5,1424.9 1659.6,1421.8Z" fill="#2d2d2d" stroke="none"/>
<path d="M1716.2,1392.1 C1717.3,1386.5 1722.3,1388.1 1723.2,1393.8 C1724.1,1399.6 1724.9,1437.2 1724.9,1449.7 C1724.9,1462.3 1724.1,1504.5 1723.2,1519.6 C1722.3,1534.7 1717.5,1593.0 1716.2,1600.7 C1714.9,1608.3 1710.5,1604.6 1710.3,1596.5 C1710.0,1588.4 1713.6,1534.3 1713.8,1519.6 C1713.9,1504.9 1711.8,1462.5 1712.0,1449.7 C1712.3,1437.0 1715.1,1397.7 1716.2,1392.1Z" fill="#2d2d2d" stroke="none"/>
<path d="M1794.1,1376.4 C1795.6,1371.7 1802.9,1377.8 1803.5,1385.1 C1804.1,1392.4 1801.4,1437.7 1800.0,1449.7 C1798.6,1461.8 1792.4,1493.4 1789.6,1505.6 C1786.8,1517.9 1774.8,1561.8 1772.1,1572.0 C1769.4,1582.2 1763.1,1608.7 1762.7,1607.6 C1762.2,1606.6 1766.0,1573.1 1767.9,1561.5 C1769.8,1549.9 1779.8,1504.6 1781.9,1491.7 C1784.0,1478.7 1787.6,1443.8 1788.9,1432.3 C1790.1,1420.7 1792.6,1381.1 1794.1,1376.4Z" fill="#2d2d2d" stroke="none"/>
<path d="M1873.4,1400.1 C1874.7,1400.1 1878.7,1408.4 1878.3,1411.3 C1877.9,1414.2 1871.2,1427.7 1869.2,1429.5 C1867.3,1431.2 1859.1,1430.6 1858.7,1428.8 C1858.4,1427.0 1864.3,1414.2 1865.7,1411.3 C1867.2,1408.4 1872.1,1400.1 1873.4,1400.1Z" fill="#2d2d2d" stroke="none"/>
<path d="M1848.3,1498.6 C1849.7,1497.6 1858.4,1506.3 1858.7,1509.1 C1859.1,1512.0 1853.1,1526.2 1851.7,1527.3 C1850.3,1528.3 1845.1,1522.5 1844.8,1519.6 C1844.4,1516.7 1846.9,1499.7 1848.3,1498.6Z" fill="#2d2d2d" stroke="none"/>
<path d="M1848.3,1540.6 C1850.0,1539.2 1856.6,1543.4 1855.2,1547.6 C1853.8,1551.7 1837.8,1577.9 1834.3,1582.5 C1830.7,1587.1 1819.3,1595.8 1819.6,1593.7 C1820.0,1591.6 1834.9,1566.8 1837.8,1561.5 C1840.6,1556.2 1846.5,1542.0 1848.3,1540.6Z" fill="#2d2d2d" stroke="none"/>
<path d="M1907.6,1427.0 C1908.4,1425.6 1911.1,1434.9 1911.8,1442.8 C1912.6,1450.6 1913.4,1494.8 1915.3,1505.6 C1917.2,1516.5 1930.1,1546.4 1931.0,1551.0 C1932.0,1555.7 1927.3,1555.6 1925.1,1551.7 C1922.9,1547.9 1911.5,1522.1 1909.4,1512.6 C1907.3,1503.1 1904.3,1465.3 1904.1,1456.7 C1904.0,1448.2 1906.9,1428.4 1907.6,1427.0Z" fill="#2d2d2d" stroke="none"/>
<path d="M1581.0,1500.4 C1581.7,1498.8 1586.9,1497.4 1588.0,1498.6 C1589.1,1499.9 1592.0,1510.5 1591.8,1512.6 C1591.7,1514.8 1587.3,1520.1 1586.2,1520.3 C1585.2,1520.5 1581.5,1516.4 1581.0,1514.4 C1580.5,1512.4 1580.3,1502.0 1581.0,1500.4Z" fill="#2d2d2d" stroke="none"/>
<path d="M1825.5,1453.2 L1841.3,1526.6 L1830.8,1568.5 L1813.3,1579.0 L1790.6,1566.8 L1785.4,1533.6 L1799.3,1505.6 L1816.8,1477.7Z" fill="#f0f0f0"/>
<path d="M1837.8,1449.7 C1838.7,1443.2 1847.1,1431.1 1851.7,1428.8 C1856.4,1426.4 1870.4,1427.1 1872.7,1432.3 C1875.0,1437.4 1870.6,1459.3 1869.2,1467.2 C1867.8,1475.1 1859.4,1486.5 1862.2,1491.7 C1865.0,1496.8 1884.6,1501.9 1890.2,1505.6 C1895.8,1509.4 1903.7,1515.4 1904.1,1519.6 C1904.6,1523.8 1898.3,1535.2 1893.7,1537.1 C1889.0,1538.9 1874.8,1537.8 1869.2,1533.6 C1863.6,1529.4 1855.0,1513.1 1851.7,1505.6 C1848.5,1498.2 1846.6,1485.1 1844.8,1477.7 C1842.9,1470.2 1836.8,1456.3 1837.8,1449.7Z" fill="#fbfbfb" stroke="none"/>
<path d="M1857.0,1519.6 C1860.9,1522.4 1876.7,1536.4 1886.7,1540.6 C1896.7,1544.8 1920.5,1550.1 1932.1,1551.0 C1943.7,1552.0 1968.4,1548.0 1974.0,1547.6" fill="none"/>
<circle cx="1908.3" cy="1477.7" r="16.5" fill="#fff" stroke="#333" stroke-width="1.6"/><circle cx="1908.3" cy="1477.7" r="12.5" fill="#fff" stroke="#555" stroke-width="1.2"/><circle cx="1910.8" cy="1479.2" r="6" fill="#111" stroke="none"/>
</g>
<use href="#larvaS" transform="translate(381,1893.5) scale(1.07)"/>
<defs><linearGradient id="gTrJ" gradientUnits="userSpaceOnUse" x1="0" y1="1760.4" x2="0" y2="1970.4"><stop offset="0" stop-color="#f3e4ae"/><stop offset="0.5" stop-color="#f4e8bf"/><stop offset="0.62" stop-color="#ececec"/><stop offset="1" stop-color="#d6d6d6"/></linearGradient></defs>
<g stroke-linejoin="round" stroke="#6a6a6a" stroke-width="1.4">
<path d="M667.7,1790.7 C673.3,1787.7 683.7,1791.2 690.0,1795.4 C696.3,1799.7 717.2,1821.0 721.8,1827.3 C726.5,1833.6 729.8,1845.1 729.8,1849.5 C729.8,1854.0 721.6,1861.4 721.8,1865.4 C722.0,1869.5 732.1,1877.8 731.4,1884.5 C730.6,1891.2 719.9,1914.9 715.4,1922.7 C711.0,1930.5 698.0,1948.4 693.2,1951.3 C688.4,1954.3 678.9,1952.2 674.1,1948.2 C669.3,1944.1 656.3,1926.0 651.8,1916.3 C647.4,1906.7 637.0,1876.6 635.9,1865.4 C634.8,1854.3 638.6,1829.6 642.3,1820.9 C646.0,1812.2 662.2,1793.6 667.7,1790.7Z" fill="#ebebeb" fill-opacity="0.88"/>
<clipPath id="cpTJ"><path d="M667.7,1790.7 C673.3,1787.7 683.7,1791.2 690.0,1795.4 C696.3,1799.7 717.2,1821.0 721.8,1827.3 C726.5,1833.6 729.8,1845.1 729.8,1849.5 C729.8,1854.0 721.6,1861.4 721.8,1865.4 C722.0,1869.5 732.1,1877.8 731.4,1884.5 C730.6,1891.2 719.9,1914.9 715.4,1922.7 C711.0,1930.5 698.0,1948.4 693.2,1951.3 C688.4,1954.3 678.9,1952.2 674.1,1948.2 C669.3,1944.1 656.3,1926.0 651.8,1916.3 C647.4,1906.7 637.0,1876.6 635.9,1865.4 C634.8,1854.3 638.6,1829.6 642.3,1820.9 C646.0,1812.2 662.2,1793.6 667.7,1790.7Z"/></clipPath>
<path d="M720.8,1848.6 L685.0,1781.2 M718.1,1850.3 L671.7,1789.7 M715.8,1852.4 L660.0,1800.3 M713.8,1854.9 L650.2,1812.8 M712.3,1857.7 L642.6,1826.6 M711.3,1860.7 L637.4,1841.5 M710.7,1863.8 L634.7,1857.1 M710.7,1866.9 L634.6,1872.9 M711.2,1870.1 L637.2,1888.5 M712.3,1873.1 L642.2,1903.5 M713.8,1875.8 L649.7,1917.4 M715.7,1878.3 L659.4,1929.9 M718.0,1880.5 L671.0,1940.7 M720.7,1882.2 L684.2,1949.3 " stroke="#d3d3d3" stroke-width="3.4" fill="none" clip-path="url(#cpTJ)"/>
<path d="M721.8,1824.1 C720.3,1819.3 736.4,1797.8 740.9,1792.3 C745.4,1786.7 757.0,1781.6 760.0,1776.4 C763.0,1771.2 764.1,1752.4 766.4,1747.7 C768.6,1743.1 775.4,1737.3 779.1,1736.6 C782.8,1735.8 793.0,1738.9 798.2,1741.4 C803.4,1743.8 818.4,1753.9 823.6,1757.3 C828.8,1760.6 845.7,1765.5 842.7,1770.0 C839.7,1774.4 808.6,1788.0 798.2,1795.4 C787.8,1802.9 762.5,1830.3 753.6,1833.6 C744.7,1837.0 723.3,1828.9 721.8,1824.1Z" fill="#e9e9e9" fill-opacity="0.88"/>
<path d="M747.3,1795.4 L769.5,1827.3 M759.4,1788.4 L781.0,1818.4 M771.4,1781.4 L792.4,1809.4 M783.5,1774.4 L803.9,1800.5 M795.6,1777.0 L815.3,1791.6 M807.7,1770.0 L826.8,1782.7 M819.8,1763.0 L838.3,1773.8 " stroke="#d3d3d3" stroke-width="3.2" fill="none"/>
<path d="M731.4,1890.9 C725.4,1892.4 726.3,1909.7 728.2,1916.3 C730.0,1923.0 742.1,1942.6 747.3,1948.2 C752.5,1953.7 766.8,1962.2 772.7,1964.1 C778.7,1965.9 793.0,1966.7 798.2,1964.1 C803.4,1961.5 814.1,1945.9 817.3,1941.8 C820.4,1937.7 829.7,1933.5 825.2,1929.1 C820.8,1924.6 790.0,1908.1 779.1,1903.6 C768.1,1899.2 737.3,1889.4 731.4,1890.9Z" fill="#e9e9e9" fill-opacity="0.88"/>
<path d="M747.3,1903.6 L747.3,1935.4 M758.7,1908.1 L758.1,1939.9 M770.2,1912.5 L768.9,1944.3 M781.6,1917.0 L779.7,1948.8 M793.1,1921.4 L790.5,1953.3 M804.5,1925.9 L801.3,1957.7 " stroke="#d3d3d3" stroke-width="3.2" fill="none"/>
<path d="M861.8,1723.9 L868.2,1717.5 L938.2,1754.1 L922.2,1758.9 L874.5,1760.4 L871.3,1735.0Z" fill="#c4c4c4"/>
<path d="M866.6,1719.7 L938.2,1754.1 L922.2,1756.6 L874.5,1728.6Z" fill="#eaeaea" stroke="none"/>
<path d="M845.9,1987.9 L874.5,1970.4 L906.3,1973.6 L868.2,1986.3Z" fill="#bdbdbd"/>
<path d="M1113.1,1855.9 C1113.5,1852.9 1112.6,1849.0 1110.0,1846.4 C1107.4,1843.8 1097.9,1838.5 1090.9,1833.6 C1083.8,1828.8 1058.0,1810.9 1049.5,1805.0 C1041.0,1799.1 1027.0,1787.5 1017.7,1782.7 C1008.4,1777.9 981.1,1766.4 970.0,1763.6 C958.8,1760.8 933.4,1758.9 922.2,1758.9 C911.1,1758.9 885.7,1761.6 874.5,1763.6 C863.4,1765.7 836.5,1772.3 826.8,1776.4 C817.2,1780.4 798.9,1792.7 791.8,1798.6 C784.8,1804.6 771.5,1822.1 766.4,1827.3 C761.2,1832.5 751.7,1840.4 747.3,1843.2 C742.8,1846.0 731.1,1848.5 728.2,1851.1 C725.2,1853.7 721.6,1861.9 721.8,1865.4 C722.0,1869.0 726.1,1878.8 729.8,1881.3 C733.5,1883.9 747.1,1885.1 753.6,1887.7 C760.1,1890.3 777.3,1898.8 785.4,1903.6 C793.6,1908.4 814.7,1923.1 823.6,1929.1 C832.5,1935.0 852.9,1949.7 861.8,1954.5 C870.7,1959.4 891.1,1968.9 900.0,1970.4 C908.9,1971.9 928.1,1969.9 938.2,1967.3 C948.2,1964.7 974.7,1953.4 985.9,1948.2 C997.0,1943.0 1022.5,1929.4 1033.6,1922.7 C1044.7,1916.0 1072.8,1896.8 1081.3,1890.9 C1089.9,1885.0 1103.1,1875.9 1106.8,1871.8 C1110.5,1867.7 1112.8,1858.9 1113.1,1855.9Z" fill="url(#gTrJ)"/>
<path d="M767.9,1827.3 C768.7,1824.7 779.7,1813.2 785.4,1811.4 C791.2,1809.5 810.6,1812.1 817.3,1811.4 C823.9,1810.6 836.0,1806.8 842.7,1805.0 C849.4,1803.1 867.8,1796.6 874.5,1795.4 C881.2,1794.3 894.8,1794.0 900.0,1795.4 C905.2,1796.9 917.6,1804.5 919.1,1808.2 C920.6,1811.9 914.9,1822.1 912.7,1827.3 C910.5,1832.5 903.7,1846.8 900.0,1852.7 C896.3,1858.7 885.3,1872.6 880.9,1878.2 C876.4,1883.7 866.3,1895.6 861.8,1900.4 C857.3,1905.3 847.2,1916.2 842.7,1919.5 C838.3,1922.9 827.3,1929.4 823.6,1929.1 C819.9,1928.7 813.9,1919.7 810.9,1916.3 C807.9,1913.0 800.0,1904.9 798.2,1900.4 C796.3,1896.0 794.6,1883.7 795.0,1878.2 C795.4,1872.6 799.5,1857.5 801.3,1852.7 C803.2,1847.9 811.3,1839.0 810.9,1836.8 C810.5,1834.6 801.9,1834.0 798.2,1833.6 C794.5,1833.3 782.6,1834.4 779.1,1833.6 C775.6,1832.9 767.2,1829.9 767.9,1827.3Z" fill="#2d2d2d" stroke="none"/>
<path d="M900.0,1798.6 C900.9,1796.7 906.7,1802.1 907.0,1805.0 C907.3,1807.9 905.1,1822.5 903.2,1827.3 C901.2,1832.0 892.0,1846.7 887.3,1852.7 C882.5,1858.8 861.5,1881.3 855.4,1887.7 C849.4,1894.1 830.1,1913.8 826.8,1916.3 C823.5,1918.9 819.5,1916.7 822.0,1913.2 C824.6,1909.7 846.1,1888.0 852.3,1881.3 C858.5,1874.7 879.6,1852.1 884.1,1846.4 C888.6,1840.6 895.8,1828.9 897.4,1824.1 C899.0,1819.3 899.0,1800.5 900.0,1798.6Z" fill="#fbfaf3" stroke="none"/>
<path d="M877.7,1827.3 C881.9,1823.1 886.9,1826.0 884.7,1830.4 C882.5,1834.9 861.5,1864.5 855.4,1871.8 C849.3,1879.1 828.7,1899.4 823.6,1903.6 C818.5,1907.8 805.8,1913.8 804.5,1913.8 C803.3,1913.8 807.1,1907.8 810.9,1903.6 C814.7,1899.4 836.0,1879.4 842.7,1871.8 C849.4,1864.2 873.5,1831.4 877.7,1827.3Z" fill="#fbfaf3" stroke="none"/>
<path d="M849.1,1833.6 C852.3,1831.1 858.0,1833.3 856.1,1836.8 C854.2,1840.3 835.1,1863.2 830.0,1868.6 C824.8,1874.1 807.7,1889.6 804.5,1891.5 C801.3,1893.4 796.3,1890.6 798.2,1887.7 C800.1,1884.8 818.5,1867.7 823.6,1862.3 C828.7,1856.9 845.8,1836.2 849.1,1833.6Z" fill="#fbfaf3" stroke="none"/>
<path d="M814.1,1833.6 C815.6,1832.7 821.4,1837.8 821.1,1840.0 C820.8,1842.2 812.9,1853.6 810.9,1855.9 C808.9,1858.2 801.8,1863.5 801.3,1862.9 C800.9,1862.3 804.8,1852.5 806.1,1849.5 C807.4,1846.6 812.6,1834.6 814.1,1833.6Z" fill="#fbfaf3" stroke="none"/>
<path d="M726.6,1862.3 C726.6,1860.2 728.7,1854.1 731.4,1852.7 C734.1,1851.3 749.2,1848.9 753.6,1847.9 C758.1,1847.0 774.0,1842.9 775.9,1843.2 C777.8,1843.5 774.3,1849.9 772.7,1851.1 C771.1,1852.4 759.4,1855.6 760.0,1855.9 C760.6,1856.2 778.1,1853.8 779.1,1854.3 C780.0,1854.8 772.7,1859.2 769.5,1860.7 C766.4,1862.1 751.1,1867.4 747.3,1868.6 C743.4,1869.9 733.4,1874.0 731.4,1873.4 C729.3,1872.8 726.6,1864.3 726.6,1862.3Z" fill="#2d2d2d" stroke="none"/>
<path d="M820.4,1779.5 C820.4,1778.4 837.3,1774.1 842.7,1774.8 C848.1,1775.4 869.8,1783.8 874.5,1785.9 C879.3,1788.0 890.4,1794.6 890.4,1795.4 C890.4,1796.3 879.3,1795.4 874.5,1794.5 C869.8,1793.6 848.1,1788.0 842.7,1786.5 C837.3,1785.0 820.4,1780.7 820.4,1779.5Z" fill="#eaab33" stroke="none"/>
<path d="M1110.0,1852.7 C1108.8,1850.6 1099.1,1838.3 1097.2,1836.8 C1095.4,1835.3 1089.3,1834.4 1087.7,1835.2 C1086.1,1836.0 1089.3,1842.4 1078.1,1846.4 C1067.0,1850.3 964.1,1879.2 954.1,1882.9 C944.0,1886.7 946.6,1893.1 957.2,1890.9 C967.9,1888.6 1069.7,1858.0 1081.3,1855.9 C1093.0,1853.8 1094.7,1864.9 1097.2,1865.4 C1099.8,1866.0 1110.5,1863.3 1111.6,1862.3 C1112.6,1861.2 1111.2,1854.8 1110.0,1852.7Z" fill="#eaab33" stroke="none"/>
<path d="M963.6,1765.2 C965.2,1762.5 981.1,1766.8 985.9,1768.4 C990.7,1770.0 1008.0,1778.4 1011.3,1781.1 C1014.7,1783.8 1019.3,1793.1 1019.3,1795.4 C1019.3,1797.8 1013.7,1803.6 1011.3,1805.0 C1008.9,1806.4 998.9,1806.9 995.4,1809.8 C991.9,1812.6 980.2,1828.1 976.3,1833.6 C972.5,1839.2 959.5,1862.9 957.2,1865.4 C955.0,1868.0 953.1,1862.9 954.1,1859.1 C955.0,1855.3 965.2,1833.6 966.8,1827.3 C968.4,1820.9 970.3,1801.7 970.0,1795.4 C969.7,1789.2 962.0,1767.9 963.6,1765.2Z" fill="#b9d8f3" stroke="none"/>
<path d="M973.2,1779.5 C975.4,1777.6 984.0,1792.6 985.9,1795.4 C987.8,1798.3 993.2,1804.4 992.2,1808.2 C991.3,1812.0 979.5,1828.5 976.3,1833.6 C973.2,1838.7 963.0,1855.6 960.4,1859.1 C957.9,1862.6 951.2,1870.5 950.9,1868.6 C950.6,1866.7 956.0,1845.4 957.2,1840.0 C958.5,1834.6 962.0,1820.6 963.6,1814.5 C965.2,1808.5 970.9,1781.4 973.2,1779.5Z" fill="#2d2d2d" stroke="none"/>
<path d="M912.7,1827.3 L925.4,1808.2 L947.7,1833.6 L944.5,1849.5Z" fill="#bcbcbc" stroke="none"/>
<path d="M896.8,1865.4 L912.7,1827.3 L944.5,1849.5 L950.9,1881.3 L912.7,1900.4Z" fill="#f1eddc" fill-opacity="0.92"/>
<path d="M925.4,1805.0 C929.9,1795.7 952.4,1774.3 957.2,1773.2 C962.1,1772.1 967.5,1788.4 966.8,1795.4 C966.0,1802.5 953.5,1824.0 950.9,1833.6 C948.3,1843.3 947.5,1870.7 944.5,1878.2 C941.6,1885.6 928.4,1900.2 925.4,1897.3 C922.5,1894.3 919.1,1863.5 919.1,1852.7 C919.1,1842.0 921.0,1814.3 925.4,1805.0Z" fill="#fff" fill-opacity="0.55" stroke="none"/>
<circle cx="993.8" cy="1792.3" r="16" fill="#fff" stroke="#222" stroke-width="1.8"/><circle cx="996.8" cy="1792.8" r="6.5" fill="#111" stroke="none"/>
<ellipse cx="1097.2" cy="1847.9" rx="5" ry="8" fill="#fff" stroke="none" transform="rotate(35 1097.2 1847.9)"/>
</g>
<defs><linearGradient id="gTrA" gradientUnits="userSpaceOnUse" x1="0" y1="1723.9" x2="0" y2="1993.3"><stop offset="0" stop-color="#f3e5a6"/><stop offset="0.55" stop-color="#f5ebc4"/><stop offset="0.68" stop-color="#efefef"/><stop offset="1" stop-color="#d4d4d4"/></linearGradient></defs>
<g stroke-linejoin="round" stroke="#6a6a6a" stroke-width="1.5">
<path d="M1392.4,1760.0 C1399.3,1756.5 1414.7,1760.7 1422.1,1766.4 C1429.5,1772.0 1449.6,1800.9 1456.0,1808.8 C1462.5,1816.7 1476.5,1829.8 1477.3,1834.2 C1478.0,1838.7 1462.9,1843.0 1462.4,1847.0 C1461.9,1850.9 1473.8,1860.7 1473.0,1868.2 C1472.3,1875.6 1461.0,1900.7 1456.0,1910.6 C1451.1,1920.5 1436.5,1947.6 1430.6,1953.0 C1424.7,1958.4 1411.6,1960.2 1405.1,1957.2 C1398.7,1954.3 1381.1,1938.9 1375.5,1927.5 C1369.8,1916.2 1357.8,1875.0 1356.4,1859.7 C1354.9,1844.3 1358.5,1807.7 1362.7,1796.0 C1366.9,1784.4 1385.5,1763.5 1392.4,1760.0Z" fill="#ededed" fill-opacity="0.9"/>
<clipPath id="cpTA"><path d="M1392.4,1760.0 C1399.3,1756.5 1414.7,1760.7 1422.1,1766.4 C1429.5,1772.0 1449.6,1800.9 1456.0,1808.8 C1462.5,1816.7 1476.5,1829.8 1477.3,1834.2 C1478.0,1838.7 1462.9,1843.0 1462.4,1847.0 C1461.9,1850.9 1473.8,1860.7 1473.0,1868.2 C1472.3,1875.6 1461.0,1900.7 1456.0,1910.6 C1451.1,1920.5 1436.5,1947.6 1430.6,1953.0 C1424.7,1958.4 1411.6,1960.2 1405.1,1957.2 C1398.7,1954.3 1381.1,1938.9 1375.5,1927.5 C1369.8,1916.2 1357.8,1875.0 1356.4,1859.7 C1354.9,1844.3 1358.5,1807.7 1362.7,1796.0 C1366.9,1784.4 1385.5,1763.5 1392.4,1760.0Z"/></clipPath>
<path d="M1462.4,1834.9 L1413.6,1750.5 M1459.6,1836.9 L1397.8,1761.4 M1457.1,1839.3 L1383.9,1774.8 M1455.0,1842.0 L1372.4,1790.2 M1453.5,1845.1 L1363.5,1807.3 M1452.4,1848.4 L1357.5,1825.6 M1451.9,1851.8 L1354.6,1844.6 M1451.9,1855.2 L1354.7,1863.9 M1452.5,1858.6 L1358.0,1882.9 M1453.6,1861.8 L1364.3,1901.1 M1455.2,1864.9 L1373.4,1918.0 M1457.3,1867.6 L1385.2,1933.3 M1459.8,1869.9 L1399.2,1946.4 M1462.7,1871.8 L1415.3,1957.1 " stroke="#d2d2d2" stroke-width="4" fill="none" clip-path="url(#cpTA)"/>
<path d="M1485.7,1825.7 C1479.8,1823.8 1487.0,1792.2 1490.0,1783.3 C1493.0,1774.4 1505.3,1755.8 1511.2,1749.4 C1517.1,1743.0 1533.5,1731.9 1540.9,1728.2 C1548.3,1724.5 1566.4,1718.3 1574.8,1717.6 C1583.2,1716.8 1603.1,1720.2 1613.0,1721.8 C1622.9,1723.4 1660.7,1727.4 1659.7,1731.6 C1658.7,1735.8 1618.4,1749.9 1604.5,1757.9 C1590.7,1765.9 1554.7,1792.4 1540.9,1800.3 C1527.0,1808.2 1491.7,1827.7 1485.7,1825.7Z" fill="#e9e9e9" fill-opacity="0.9"/>
<path d="M1502.7,1770.6 L1519.7,1804.5 M1518.0,1764.7 L1535.8,1796.0 M1533.3,1758.7 L1551.9,1787.6 M1548.5,1752.8 L1568.0,1779.1 M1563.8,1746.8 L1584.2,1770.6 M1579.1,1740.9 L1600.3,1762.1 M1594.3,1735.0 L1616.4,1753.6 M1609.6,1729.0 L1632.5,1745.1 " stroke="#cfcfcf" stroke-width="3.6" fill="none"/>
<path d="M1490.0,1876.6 C1481.6,1877.1 1487.5,1902.7 1490.0,1910.6 C1492.5,1918.5 1505.3,1938.6 1511.2,1944.5 C1517.1,1950.5 1533.0,1958.8 1540.9,1961.5 C1548.8,1964.2 1570.7,1968.8 1579.1,1967.8 C1587.5,1966.9 1605.6,1955.7 1613.0,1953.0 C1620.4,1950.3 1648.6,1950.0 1642.7,1944.5 C1636.8,1939.1 1579.9,1914.3 1562.1,1906.3 C1544.3,1898.4 1498.4,1876.2 1490.0,1876.6Z" fill="#e9e9e9" fill-opacity="0.9"/>
<path d="M1507.0,1893.6 L1511.2,1931.8 M1523.1,1899.6 L1526.5,1936.0 M1539.2,1905.5 L1541.7,1940.3 M1555.3,1911.4 L1557.0,1944.5 M1571.4,1917.4 L1572.3,1948.8 M1587.5,1923.3 L1587.5,1953.0 M1603.7,1929.2 L1602.8,1957.2 " stroke="#cfcfcf" stroke-width="3.6" fill="none"/>
<path d="M1687.2,2023.0 L1695.7,1989.1 L1753.0,1992.0 L1710.6,2008.1Z" fill="#bdbdbd"/>
<path d="M2013.9,1851.2 C2013.1,1847.2 2007.5,1833.9 2003.3,1830.0 C1999.1,1826.0 1987.2,1822.7 1977.8,1817.3 C1968.4,1811.8 1936.5,1791.7 1922.7,1783.3 C1908.8,1774.9 1871.4,1751.3 1859.0,1745.1 C1846.7,1739.0 1829.0,1732.8 1816.6,1730.3 C1804.2,1727.8 1767.8,1724.4 1753.0,1723.9 C1738.1,1723.4 1701.7,1725.1 1689.4,1726.1 C1677.0,1727.0 1656.8,1729.2 1646.9,1732.4 C1637.0,1735.6 1614.4,1747.7 1604.5,1753.6 C1594.6,1759.6 1572.0,1776.9 1562.1,1783.3 C1552.2,1789.8 1529.1,1803.3 1519.7,1808.8 C1510.3,1814.2 1488.2,1825.5 1481.5,1830.0 C1474.8,1834.4 1464.1,1843.0 1462.4,1847.0 C1460.7,1850.9 1462.9,1861.0 1466.7,1863.9 C1470.4,1866.9 1486.1,1869.4 1494.2,1872.4 C1502.4,1875.4 1525.8,1883.9 1536.6,1889.4 C1547.5,1894.8 1575.7,1912.6 1587.5,1919.1 C1599.4,1925.5 1627.6,1937.6 1638.5,1944.5 C1649.3,1951.4 1672.5,1973.0 1680.9,1978.5 C1689.3,1983.9 1702.2,1989.4 1710.6,1991.2 C1719.0,1992.9 1740.6,1995.3 1753.0,1993.3 C1765.4,1991.3 1801.8,1979.9 1816.6,1974.2 C1831.5,1968.5 1865.4,1951.9 1880.2,1944.5 C1895.1,1937.1 1931.5,1917.5 1943.9,1910.6 C1956.2,1903.7 1978.6,1890.6 1986.3,1885.1 C1994.0,1879.7 2006.4,1867.9 2009.6,1863.9 C2012.8,1860.0 2014.6,1855.2 2013.9,1851.2Z" fill="url(#gTrA)"/>
<path d="M1625.7,1743.0 C1626.7,1741.5 1648.0,1735.0 1655.4,1734.5 C1662.8,1734.0 1680.4,1736.1 1689.4,1738.8 C1698.3,1741.5 1721.9,1753.2 1731.8,1757.9 C1741.7,1762.6 1765.8,1773.1 1774.2,1779.1 C1782.6,1785.0 1798.4,1801.4 1803.9,1808.8 C1809.3,1816.2 1818.6,1834.8 1820.9,1842.7 C1823.1,1850.6 1824.0,1870.7 1823.0,1876.6 C1822.0,1882.6 1818.1,1892.1 1812.4,1893.6 C1806.7,1895.1 1783.6,1889.4 1774.2,1889.4 C1764.8,1889.4 1741.7,1889.2 1731.8,1893.6 C1721.9,1898.1 1697.3,1919.6 1689.4,1927.5 C1681.4,1935.5 1668.9,1959.5 1663.9,1961.5 C1659.0,1963.5 1649.9,1948.5 1646.9,1944.5 C1644.0,1940.6 1640.9,1932.5 1638.5,1927.5 C1636.0,1922.6 1627.2,1908.0 1625.7,1902.1 C1624.2,1896.2 1623.7,1882.1 1625.7,1876.6 C1627.7,1871.2 1641.2,1860.4 1642.7,1855.4 C1644.2,1850.5 1639.7,1839.2 1638.5,1834.2 C1637.2,1829.3 1631.1,1817.5 1632.1,1813.0 C1633.1,1808.6 1642.2,1799.0 1646.9,1796.0 C1651.6,1793.1 1667.9,1790.5 1672.4,1787.6 C1676.8,1784.6 1685.1,1774.6 1685.1,1770.6 C1685.1,1766.6 1676.8,1756.4 1672.4,1753.6 C1667.9,1750.9 1652.4,1748.5 1646.9,1747.3 C1641.5,1746.0 1624.7,1744.5 1625.7,1743.0Z" fill="#2d2d2d" stroke="none"/>
<path d="M1723.3,1834.2 C1729.3,1830.0 1736.0,1837.6 1732.6,1842.7 C1729.2,1847.8 1697.9,1877.5 1689.4,1885.1 C1680.8,1892.8 1652.5,1915.2 1646.9,1919.1 C1641.3,1923.0 1630.8,1927.5 1633.4,1924.2 C1635.9,1920.8 1663.4,1894.1 1672.4,1885.1 C1681.4,1876.1 1717.3,1838.5 1723.3,1834.2Z" fill="#fbfaf3" stroke="none"/>
<path d="M1663.9,1844.8 C1666.7,1843.3 1672.8,1850.6 1671.1,1853.3 C1669.4,1856.1 1651.5,1868.7 1646.9,1872.4 C1642.4,1876.1 1626.2,1890.6 1625.7,1890.2 C1625.3,1889.8 1638.9,1872.7 1642.7,1868.2 C1646.5,1863.6 1661.1,1846.3 1663.9,1844.8Z" fill="#fbfaf3" stroke="none"/>
<path d="M1740.3,1844.8 C1744.7,1841.2 1750.0,1848.4 1746.6,1853.3 C1743.2,1858.2 1713.7,1886.1 1706.3,1893.6 C1698.9,1901.1 1676.7,1924.5 1672.4,1928.4 C1668.1,1932.3 1660.1,1936.5 1663.1,1932.6 C1666.0,1928.7 1694.4,1898.2 1702.1,1889.4 C1709.8,1880.6 1735.8,1848.4 1740.3,1844.8Z" fill="#fbfaf3" stroke="none"/>
<path d="M1587.5,1851.2 C1595.2,1848.2 1632.9,1839.1 1638.5,1838.5 C1644.0,1837.8 1646.1,1842.7 1642.7,1844.8 C1639.3,1847.0 1612.6,1857.3 1604.5,1859.7 C1596.5,1862.0 1563.8,1869.0 1562.1,1868.2 C1560.4,1867.3 1579.9,1854.2 1587.5,1851.2Z" fill="#fbfaf3" stroke="none"/>
<path d="M1553.6,1880.9 C1557.0,1878.3 1613.9,1861.2 1621.5,1859.7 C1629.1,1858.2 1633.4,1863.5 1630.0,1866.0 C1626.6,1868.6 1595.2,1883.6 1587.5,1885.1 C1579.9,1886.6 1550.2,1883.4 1553.6,1880.9Z" fill="#fbfaf3" stroke="none"/>
<path d="M1464.5,1849.1 C1463.3,1847.0 1471.7,1840.4 1477.3,1838.5 C1482.8,1836.6 1509.9,1831.5 1519.7,1830.0 C1529.4,1828.5 1568.9,1823.8 1574.8,1823.6 C1580.8,1823.4 1582.9,1826.4 1579.1,1827.9 C1575.2,1829.3 1537.9,1837.6 1536.6,1838.5 C1535.4,1839.3 1565.1,1835.7 1566.3,1836.3 C1567.6,1837.0 1554.0,1843.3 1549.4,1844.8 C1544.7,1846.3 1521.0,1850.3 1519.7,1851.2 C1518.4,1852.0 1536.2,1852.3 1536.6,1853.3 C1537.1,1854.4 1528.6,1861.2 1523.9,1861.8 C1519.3,1862.4 1495.9,1861.0 1490.0,1859.7 C1484.0,1858.4 1465.8,1851.2 1464.5,1849.1Z" fill="#2d2d2d" stroke="none"/>
<path d="M1663.9,1730.3 C1663.5,1728.7 1680.4,1731.0 1685.1,1732.4 C1689.8,1733.8 1706.5,1741.8 1710.6,1744.3 C1714.6,1746.8 1727.5,1756.6 1725.4,1757.0 C1723.3,1757.4 1695.5,1751.2 1689.4,1748.5 C1683.2,1745.9 1664.3,1731.9 1663.9,1730.3Z" fill="#eaab33" stroke="none"/>
<path d="M1994.8,1819.4 C1997.8,1820.8 2012.6,1843.6 2013.9,1847.0 C2015.2,1850.3 2012.1,1858.2 2010.5,1859.7 C2008.9,1861.2 1997.5,1865.1 1994.8,1864.8 C1992.1,1864.5 1994.1,1851.0 1977.8,1856.3 C1961.5,1861.6 1815.9,1923.0 1799.6,1928.4 C1783.4,1933.8 1783.0,1923.0 1782.7,1921.2 C1782.3,1919.3 1780.6,1912.5 1795.4,1906.3 C1810.3,1900.2 1945.6,1853.3 1960.8,1847.0 C1976.0,1840.6 1975.0,1832.3 1977.8,1830.0 C1980.6,1827.7 1991.8,1818.0 1994.8,1819.4Z" fill="#eaab33" stroke="none"/>
<path d="M1795.4,1753.6 C1801.2,1749.2 1807.8,1757.2 1807.3,1762.1 C1806.8,1767.1 1795.5,1788.1 1791.2,1796.0 C1786.8,1804.0 1774.4,1822.6 1770.0,1830.0 C1765.5,1837.4 1756.0,1852.3 1753.0,1859.7 C1750.0,1867.1 1744.0,1886.7 1744.5,1893.6 C1745.0,1900.5 1753.8,1913.1 1757.2,1919.1 C1760.7,1925.0 1775.2,1943.5 1774.2,1944.5 C1773.2,1945.5 1753.7,1934.0 1748.7,1927.5 C1743.8,1921.1 1733.3,1898.8 1731.8,1889.4 C1730.3,1880.0 1733.0,1857.3 1736.0,1847.0 C1739.0,1836.6 1750.3,1811.2 1757.2,1800.3 C1764.2,1789.4 1789.6,1758.1 1795.4,1753.6Z" fill="#c9c9c9" fill-opacity="0.85" stroke="none"/>
<path d="M1791.2,1753.6 C1794.6,1752.1 1803.9,1753.9 1803.9,1757.9 C1803.9,1761.8 1795.1,1782.1 1791.2,1787.6 C1787.2,1793.0 1773.4,1803.5 1770.0,1804.5 C1766.5,1805.5 1761.0,1800.0 1761.5,1796.0 C1762.0,1792.1 1770.7,1775.5 1774.2,1770.6 C1777.7,1765.6 1787.7,1755.1 1791.2,1753.6Z" fill="#fff" fill-opacity="0.75" stroke="none"/>
<path d="M1746.6,1859.7 L1759.3,1840.6 L1786.9,1842.7 L1816.6,1868.2 L1816.6,1893.6 L1791.2,1919.1 L1770.0,1919.1 L1753.0,1897.9Z" fill="#efefe6"/>
<path d="M1757.2,1857.6 L1808.1,1859.7 M1757.2,1868.2 L1808.1,1869.0 M1757.2,1878.8 L1808.1,1878.3 M1757.2,1889.4 L1808.1,1887.7 " stroke="#b9b9b9" stroke-width="2.4" fill="none"/>
<path d="M1816.6,1728.2 C1816.9,1733.3 1815.9,1748.8 1818.7,1766.4 C1821.6,1783.9 1835.3,1847.2 1837.8,1859.7" fill="none" stroke="#b9d8f3" stroke-width="2"/>
<path d="M1846.3,1766.4 C1848.0,1776.0 1857.3,1828.9 1859.0,1838.5" fill="none" stroke="#b9d8f3" stroke-width="2"/>
<path d="M1814.5,1728.2 C1815.3,1725.8 1824.9,1728.6 1829.3,1730.3 C1833.8,1732.0 1856.7,1742.4 1859.0,1745.1 C1861.4,1747.9 1856.5,1757.0 1852.7,1757.9 C1848.9,1758.7 1824.7,1756.6 1820.9,1753.6 C1817.0,1750.7 1813.6,1730.5 1814.5,1728.2Z" fill="#a9cff0" stroke="none"/>
<circle cx="1835.7" cy="1752.8" r="14" fill="#fff" stroke="#222" stroke-width="1.8"/><circle cx="1837.7" cy="1753.8" r="6" fill="#111" stroke="none"/>
<ellipse cx="1982.1" cy="1842.7" rx="4.5" ry="11" fill="#fff" stroke="none" transform="rotate(30 1982.1 1842.7)"/>
</g>
<g opacity="0.82">
<path d="M676.7,2151.6 C677.3,2157.1 672.9,2171.4 680.2,2184.8 C687.5,2198.2 702.0,2218.5 720.3,2232.0 C738.7,2245.5 762.9,2256.2 790.2,2265.9 C817.6,2275.5 851.4,2284.0 884.5,2289.6 C917.7,2295.2 957.3,2298.7 989.3,2299.4 C1021.4,2300.1 1053.4,2298.0 1076.7,2293.8 C1100.0,2289.5 1117.1,2281.0 1129.1,2273.9 C1141.0,2266.8 1145.1,2255.0 1148.3,2251.2" fill="none" stroke="#777" stroke-width="33.5" stroke-linecap="round"/>
<path d="M676.7,2151.6 C677.3,2157.1 672.9,2171.4 680.2,2184.8 C687.5,2198.2 702.0,2218.5 720.3,2232.0 C738.7,2245.5 762.9,2256.2 790.2,2265.9 C817.6,2275.5 851.4,2284.0 884.5,2289.6 C917.7,2295.2 957.3,2298.7 989.3,2299.4 C1021.4,2300.1 1053.4,2298.0 1076.7,2293.8 C1100.0,2289.5 1117.1,2281.0 1129.1,2273.9 C1141.0,2266.8 1145.1,2255.0 1148.3,2251.2" fill="none" stroke="#fbfbfb" stroke-width="31" stroke-linecap="round"/>
</g>
<path d="M1090.7,2244.2 C1089.8,2239.3 1114.8,2229.7 1122.1,2228.5 C1129.4,2227.2 1149.1,2230.7 1153.5,2233.7 C1158.0,2236.8 1163.4,2250.4 1160.5,2254.7 C1157.7,2259.0 1137.2,2271.6 1129.1,2270.4 C1120.9,2269.2 1091.5,2249.1 1090.7,2244.2Z" fill="#d6d6d6" stroke="#777" stroke-width="1"/>
<g opacity="0.92">
<path d="M1139.6,2244.2 C1129.1,2243.3 1101.7,2238.5 1076.7,2239.0 C1051.6,2239.4 1021.4,2247.9 989.3,2247.0 C957.3,2246.1 916.6,2241.2 884.5,2233.7 C852.5,2226.3 818.5,2212.5 797.2,2202.3 C776.0,2192.1 764.6,2182.2 757.0,2172.6 C749.5,2163.0 746.8,2152.5 751.8,2144.6 C756.7,2136.8 770.4,2128.3 786.7,2125.4 C803.0,2122.5 827.5,2124.0 849.6,2127.2 C871.7,2130.4 896.2,2140.0 919.5,2144.6 C942.8,2149.3 969.0,2152.6 989.3,2155.1 C1009.7,2157.6 1027.2,2157.9 1041.7,2159.7 C1056.3,2161.4 1070.9,2164.6 1076.7,2165.6" fill="none" stroke="#777" stroke-width="31" stroke-linecap="round"/>
<path d="M1139.6,2244.2 C1129.1,2243.3 1101.7,2238.5 1076.7,2239.0 C1051.6,2239.4 1021.4,2247.9 989.3,2247.0 C957.3,2246.1 916.6,2241.2 884.5,2233.7 C852.5,2226.3 818.5,2212.5 797.2,2202.3 C776.0,2192.1 764.6,2182.2 757.0,2172.6 C749.5,2163.0 746.8,2152.5 751.8,2144.6 C756.7,2136.8 770.4,2128.3 786.7,2125.4 C803.0,2122.5 827.5,2124.0 849.6,2127.2 C871.7,2130.4 896.2,2140.0 919.5,2144.6 C942.8,2149.3 969.0,2152.6 989.3,2155.1 C1009.7,2157.6 1027.2,2157.9 1041.7,2159.7 C1056.3,2161.4 1070.9,2164.6 1076.7,2165.6" fill="none" stroke="#fbfbfb" stroke-width="28.6" stroke-linecap="round"/>
</g>
<path d="M744.8,2141.1 C748.4,2139.8 784.6,2144.0 786.7,2147.1 C788.8,2150.1 769.3,2170.2 765.8,2171.5 C762.2,2172.9 753.2,2163.4 751.1,2160.3 C749.0,2157.3 741.2,2142.5 744.8,2141.1Z" fill="#d2d2d2" stroke="none"/>
<path d="M924.7,2144.6 C931.0,2143.6 976.6,2143.9 989.3,2143.9 C1002.1,2143.9 1045.6,2142.9 1052.2,2144.6 C1058.9,2146.3 1060.3,2158.7 1055.7,2161.0 C1051.2,2163.4 1016.9,2168.3 1006.8,2168.0 C996.7,2167.8 962.4,2160.0 954.4,2158.6 C946.4,2157.2 929.4,2155.5 926.5,2154.1 C923.5,2152.7 918.4,2145.6 924.7,2144.6Z" fill="#efefef" stroke="#cfcfcf" stroke-width="0.8"/>
<path d="M961.4,2154.1 C967.0,2154.5 990.7,2156.3 1003.3,2157.6 C1015.9,2158.9 1048.7,2163.0 1055.7,2163.8" fill="none" stroke="#e9dcc0" stroke-width="1.6"/>
<path d="M1041.7,2148.1 C1045.0,2144.9 1064.8,2143.0 1069.7,2144.6 C1074.6,2146.3 1081.4,2158.8 1083.7,2162.1 C1085.9,2165.4 1089.3,2170.5 1088.9,2172.6 C1088.5,2174.6 1083.6,2178.3 1080.2,2179.6 C1076.7,2180.8 1063.7,2183.9 1059.2,2183.1 C1054.7,2182.2 1043.8,2176.7 1041.7,2172.6 C1039.7,2168.5 1038.5,2151.4 1041.7,2148.1Z" fill="#e9e9e9" stroke="#777" stroke-width="1"/>
<circle cx="1066.9" cy="2164.9" r="8.6" fill="#fff" stroke="#333" stroke-width="1.4"/><circle cx="1067.4" cy="2164.9" r="3.3" fill="#111"/>
<path d="M1786.8,2311.0 C1789.7,2306.3 1798.0,2322.7 1800.0,2330.0 C1802.0,2337.3 1803.8,2361.9 1804.0,2373.6 C1804.2,2385.3 1804.5,2420.3 1802.0,2430.0 C1799.5,2439.7 1790.1,2451.5 1783.0,2457.0 C1775.9,2462.5 1750.7,2474.0 1741.0,2477.0 C1731.3,2480.0 1711.3,2481.7 1700.0,2483.0 C1688.7,2484.3 1655.1,2487.5 1644.0,2488.0 C1632.9,2488.5 1614.8,2487.5 1605.0,2487.0 C1595.2,2486.5 1567.2,2486.0 1560.0,2484.0 C1552.8,2482.0 1544.6,2473.4 1543.0,2470.0 C1541.4,2466.6 1543.7,2459.3 1546.6,2455.0 C1549.5,2450.7 1561.8,2437.1 1568.0,2433.0 C1574.2,2428.9 1590.1,2422.9 1599.6,2420.0 C1609.1,2417.1 1636.4,2410.5 1649.5,2408.0 C1662.6,2405.5 1700.4,2400.7 1712.0,2398.5 C1723.6,2396.3 1741.7,2392.3 1749.0,2389.0 C1756.3,2385.7 1770.6,2379.1 1775.0,2370.0 C1779.4,2360.9 1783.9,2315.7 1786.8,2311.0Z" fill="#fcfcfc" fill-opacity="0.86" stroke="#777" stroke-width="1.3" stroke-linejoin="round"/>
<path d="M1590.0,2455.0 C1591.2,2452.1 1634.8,2442.9 1650.0,2440.0 C1665.2,2437.1 1705.4,2431.8 1720.0,2430.0 C1734.6,2428.2 1770.3,2423.2 1775.0,2425.0 C1779.7,2426.8 1768.8,2441.5 1760.0,2445.0 C1751.2,2448.5 1714.0,2452.7 1700.0,2455.0 C1686.0,2457.3 1652.8,2465.0 1640.0,2465.0 C1627.2,2465.0 1588.8,2457.9 1590.0,2455.0Z" fill="#e6e6e6" fill-opacity="0.8" stroke="none"/>
<g opacity="0.88"><path d="M1210.4,2142.3 C1207.5,2146.9 1195.7,2158.8 1192.8,2169.8 C1189.9,2180.8 1189.7,2195.9 1192.8,2208.2 C1195.9,2220.6 1204.9,2233.8 1211.5,2243.9 C1218.1,2254.0 1224.3,2260.3 1232.3,2268.6 C1240.4,2276.9 1250.2,2285.4 1259.8,2293.9 C1269.4,2302.3 1280.8,2312.1 1290.0,2319.1 C1299.1,2326.2 1306.0,2331.1 1314.7,2336.1 C1323.4,2341.2 1331.2,2345.6 1342.1,2349.3 C1353.1,2353.0 1366.8,2356.0 1380.6,2358.1 C1394.3,2360.2 1403.4,2361.2 1424.5,2361.9 C1445.5,2362.7 1479.4,2362.9 1506.8,2362.5 C1534.3,2362.0 1557.2,2361.7 1589.2,2359.2 C1621.2,2356.7 1666.9,2351.1 1699.0,2347.7 C1731.0,2344.2 1767.6,2339.9 1781.3,2338.3" fill="none" stroke="#777" stroke-width="55.5"/><path d="M1210.4,2142.3 C1207.5,2146.9 1195.7,2158.8 1192.8,2169.8 C1189.9,2180.8 1189.7,2195.9 1192.8,2208.2 C1195.9,2220.6 1204.9,2233.8 1211.5,2243.9 C1218.1,2254.0 1224.3,2260.3 1232.3,2268.6 C1240.4,2276.9 1250.2,2285.4 1259.8,2293.9 C1269.4,2302.3 1280.8,2312.1 1290.0,2319.1 C1299.1,2326.2 1306.0,2331.1 1314.7,2336.1 C1323.4,2341.2 1331.2,2345.6 1342.1,2349.3 C1353.1,2353.0 1366.8,2356.0 1380.6,2358.1 C1394.3,2360.2 1403.4,2361.2 1424.5,2361.9 C1445.5,2362.7 1479.4,2362.9 1506.8,2362.5 C1534.3,2362.0 1557.2,2361.7 1589.2,2359.2 C1621.2,2356.7 1666.9,2351.1 1699.0,2347.7 C1731.0,2344.2 1767.6,2339.9 1781.3,2338.3" fill="none" stroke="#fcfcfc" stroke-width="53"/></g>
<path d="M1593.4,2354.9 C1612.1,2349.8 1693.0,2330.9 1712.0,2326.8 C1731.0,2322.7 1775.2,2312.7 1783.7,2314.3 C1792.2,2315.9 1800.5,2335.3 1797.0,2342.4 C1793.5,2349.5 1763.8,2382.1 1749.0,2385.0 C1734.2,2387.9 1671.9,2371.7 1649.5,2371.0 C1627.1,2370.3 1530.4,2379.6 1524.8,2378.0 C1519.2,2376.4 1574.7,2360.0 1593.4,2354.9Z" fill="#d6d6d6" fill-opacity="0.8" stroke="none"/>
<path d="M1369.6,2345.5 C1384.2,2346.6 1450.1,2353.0 1479.4,2353.7 C1508.7,2354.4 1559.9,2352.8 1589.2,2351.0 C1618.5,2349.1 1674.8,2342.5 1699.0,2340.0 C1723.1,2337.4 1760.8,2332.8 1770.3,2331.7" fill="none" stroke="#e6e6e6" stroke-width="20" stroke-dasharray="1.6 7"/>
<path d="M1182.9,2142.3 C1184.6,2133.6 1213.7,2109.7 1221.4,2103.9 C1229.1,2098.2 1245.0,2086.6 1259.8,2084.7 C1274.6,2082.8 1347.6,2083.6 1369.6,2084.7 C1391.5,2085.8 1457.4,2092.9 1479.4,2095.7 C1501.3,2098.4 1567.2,2108.9 1589.2,2112.2 C1611.1,2115.4 1677.0,2126.2 1699.0,2128.6 C1720.9,2131.1 1786.3,2135.6 1808.8,2136.9 C1831.3,2138.1 1907.6,2140.1 1924.0,2141.2 C1940.5,2142.3 1964.2,2144.3 1973.5,2147.8 C1982.7,2151.3 2014.1,2169.7 2016.3,2176.4 C2018.5,2183.1 2002.4,2209.9 1995.4,2214.8 C1988.4,2219.7 1959.2,2225.2 1946.0,2225.8 C1932.8,2226.3 1880.1,2222.3 1863.7,2220.3 C1847.2,2218.3 1797.8,2208.3 1781.3,2205.5 C1764.8,2202.6 1718.2,2194.8 1699.0,2191.8 C1679.8,2188.7 1611.1,2179.4 1589.2,2175.3 C1567.2,2171.2 1501.3,2155.0 1479.4,2150.6 C1457.4,2146.2 1388.8,2134.4 1369.6,2131.4 C1350.4,2128.3 1299.3,2120.4 1287.2,2120.4 C1275.2,2120.4 1257.0,2124.2 1248.8,2131.4 C1240.6,2138.5 1211.5,2190.7 1204.9,2191.8 C1198.3,2192.9 1181.3,2151.1 1182.9,2142.3Z" fill="#fcfcfc" fill-opacity="0.86" stroke="#777" stroke-width="1.3" stroke-linejoin="round"/>
<path d="M1181.8,2146.7 C1183.2,2138.4 1210.8,2113.5 1218.6,2108.3 C1226.4,2103.1 1253.6,2094.1 1259.8,2095.1 C1266.0,2096.1 1281.8,2114.3 1280.7,2118.2 C1279.6,2122.1 1256.4,2126.8 1248.8,2134.1 C1241.2,2141.5 1211.6,2190.5 1204.9,2191.8 C1198.2,2193.0 1180.5,2155.1 1181.8,2146.7Z" fill="#d2d2d2" stroke="#777" stroke-width="1"/>
<path d="M1292.7,2106.7 C1303.0,2107.2 1344.7,2108.1 1369.6,2110.5 C1394.5,2112.9 1450.1,2120.2 1479.4,2124.8 C1508.7,2129.4 1559.9,2140.2 1589.2,2145.1 C1618.5,2150.0 1669.7,2157.9 1699.0,2161.6 C1728.2,2165.2 1780.9,2170.3 1808.8,2172.5 C1836.6,2174.7 1894.4,2177.3 1907.6,2178.0" fill="none" stroke="#e8e8e8" stroke-width="22" stroke-dasharray="1.6 7"/>
<path d="M1745.6,2185.2 C1746.8,2182.5 1748.8,2176.3 1759.4,2175.3 C1769.9,2174.3 1817.6,2176.0 1836.2,2176.4 C1854.8,2176.8 1906.4,2174.2 1918.6,2178.6 C1930.7,2182.9 1946.9,2208.6 1940.5,2213.7 C1934.1,2218.8 1880.3,2224.9 1863.7,2222.5 C1847.0,2220.1 1808.7,2194.8 1797.8,2192.9 C1786.9,2190.9 1776.0,2205.4 1770.3,2206.0 C1764.7,2206.7 1752.4,2200.8 1749.5,2198.3 C1746.6,2195.9 1744.5,2187.9 1745.6,2185.2Z" fill="#efefef" stroke="#bdbdbd" stroke-width="1"/>
<path d="M1852.7,2191.8 C1858.4,2188.1 1908.3,2188.1 1918.6,2190.7 C1928.8,2193.2 1940.5,2209.9 1940.5,2213.7 C1940.5,2217.6 1926.9,2222.6 1918.6,2223.6 C1910.2,2224.6 1876.8,2225.7 1869.1,2221.9 C1861.5,2218.2 1846.9,2195.4 1852.7,2191.8Z" fill="#e8d6c0" stroke="none"/>
<path d="M1914.2,2164.3 C1913.1,2158.2 1918.1,2142.9 1924.0,2141.2 C1930.0,2139.6 1964.2,2144.3 1973.5,2147.8 C1982.7,2151.3 2014.1,2169.7 2016.3,2176.4 C2018.5,2183.1 2002.4,2209.9 1995.4,2214.8 C1988.4,2219.7 1952.0,2227.0 1946.0,2225.8 C1940.0,2224.6 1938.2,2208.9 1935.0,2202.7 C1931.8,2196.6 1915.3,2170.5 1914.2,2164.3Z" fill="#f1f1f1" stroke="#777" stroke-width="1.2"/>
<circle cx="1984.4" cy="2184.1" r="18.6" fill="#fff" stroke="#333" stroke-width="1.8"/><circle cx="1984.9" cy="2185.6" r="6.8" fill="#111"/>
<defs><linearGradient id="fadeB" gradientUnits="userSpaceOnUse" x1="0" x2="0" y1="2755" y2="2806"><stop offset="0" stop-color="#fff" stop-opacity="0"/><stop offset="1" stop-color="#fff" stop-opacity="1"/></linearGradient></defs>
<g transform="translate(642.9,2453.2)" fill="#9a9a9a"><use href="#coralD"/></g>
<path d="M687.9,2635.7 C686.5,2638.1 692.7,2647.4 695.9,2649.6 C699.1,2651.8 716.4,2655.2 719.8,2657.6 C723.2,2660.0 727.6,2670.4 729.8,2673.6 C732.0,2676.8 739.0,2687.0 741.8,2689.6 C744.6,2692.2 753.0,2699.6 757.8,2699.6 C762.6,2699.6 782.7,2691.4 789.7,2689.6 C796.7,2687.8 823.8,2690.0 827.6,2681.6 C831.4,2673.2 829.4,2613.7 827.6,2605.7 C825.8,2597.7 813.5,2601.3 809.7,2601.7 C805.9,2602.1 795.7,2607.9 789.7,2609.7 C783.7,2611.5 757.8,2618.1 749.8,2619.7 C741.8,2621.3 716.1,2624.1 709.9,2625.7 C703.7,2627.3 689.3,2633.3 687.9,2635.7Z" fill="#9a9a9a"/>
<path d="M825.6,2567.8 C826.9,2564.6 838.1,2560.7 841.6,2557.8 C845.1,2554.9 849.5,2549.5 851.6,2545.8 C853.7,2542.1 855.2,2532.7 857.6,2529.9 C860.0,2527.1 866.7,2524.4 869.6,2524.9 C872.5,2525.4 878.5,2530.0 879.6,2533.9 C880.7,2537.8 879.5,2549.0 877.6,2553.8 C875.7,2558.6 867.7,2566.1 865.6,2569.8 C863.5,2573.5 860.8,2578.9 861.6,2581.8 C862.4,2584.7 868.4,2590.9 871.6,2591.7 C874.8,2592.5 881.8,2589.7 885.5,2587.8 C889.2,2585.9 896.0,2579.4 899.5,2577.8 C903.0,2576.2 909.1,2575.0 911.5,2575.8 C913.9,2576.6 917.8,2581.1 917.5,2583.8 C917.2,2586.5 911.9,2592.7 909.5,2595.7 C907.1,2598.7 908.6,2604.6 899.5,2606.0 C890.4,2607.4 849.6,2607.1 841.6,2606.0 C833.6,2604.9 840.9,2600.9 839.6,2597.7 C838.3,2594.5 833.5,2585.8 831.6,2581.8 C829.7,2577.8 824.3,2571.0 825.6,2567.8Z" fill="#9a9a9a"/>
<path d="M769.7,2581.8 C768.2,2582.3 762.1,2592.6 759.8,2597.7 C757.5,2602.8 753.6,2612.8 752.8,2619.7 C752.0,2626.6 752.6,2643.2 753.8,2649.6 C755.0,2656.0 759.1,2664.7 761.8,2667.6 C764.5,2670.5 770.8,2672.4 773.7,2671.6 C776.6,2670.8 782.4,2665.9 783.7,2661.6 C785.0,2657.3 784.8,2646.1 783.7,2639.7 C782.6,2633.3 777.4,2619.8 775.7,2613.7 C774.0,2607.6 771.5,2598.0 770.7,2593.7 C769.9,2589.4 771.2,2581.3 769.7,2581.8Z" fill="#fff"/>
<path d="M829.0,2607.7 C827.5,2601.6 820.1,2617.4 817.7,2621.7 C815.3,2626.0 811.6,2635.4 810.7,2639.7 C809.8,2644.0 809.8,2650.3 810.7,2653.6 C811.6,2656.9 815.3,2662.7 817.7,2664.6 C820.1,2666.5 827.5,2675.2 829.0,2667.6 C830.5,2660.0 830.5,2613.8 829.0,2607.7Z" fill="#fff"/>
<g transform="translate(642.9,2453.2)"><use href="#coralL" stroke="#f4f4f4" stroke-width="1.6"/></g>
<path d="M714.0,2800.0 L758.7,2707.8 L879.0,2681.5 L885.3,2619.3 L981.8,2536.0 L1106.3,2540.0 L1178.0,2668.0 L1225.0,2688.0 L1324.0,2688.0 L1381.7,2732.0 L1412.0,2800.0" fill="#f5f5f5" stroke="#cccccc" stroke-width="9.5" stroke-linejoin="miter"/>
<line x1="1020.5" y1="1288.5" x2="1020.5" y2="2790" stroke="#a8a8a8" stroke-width="8" stroke-dasharray="33 18" clip-path="url(#cpRow4)"/>
<clipPath id="cpRow4"><rect x="1000" y="2520" width="40" height="280"/></clipPath>
<rect x="829.5" y="2607" width="250" height="98.5" fill="#fff" stroke="#9a9a9a" stroke-width="4.2"/>
<text x="955.5" y="2641" font-size="39" fill="#9a9a9a" text-anchor="middle">apelagic</text>
<text x="955.5" y="2684.5" font-size="39" fill="#9a9a9a" text-anchor="middle">larvae</text>
<path d="M1038.9,2800.6 C1040.3,2795.3 1043.6,2792.3 1046.9,2788.6 C1050.2,2785.0 1057.6,2782.3 1058.9,2778.6 C1060.2,2775.0 1059.2,2771.3 1054.9,2766.7 C1050.6,2762.0 1039.6,2756.0 1032.9,2750.7 C1026.3,2745.4 1018.8,2739.4 1015.0,2734.7 C1011.1,2730.1 1010.0,2726.4 1010.0,2722.7 C1010.0,2719.1 1012.1,2714.9 1015.0,2712.8 C1017.8,2710.6 1022.6,2708.8 1026.9,2709.8 C1031.3,2710.8 1036.3,2715.6 1040.9,2718.7 C1045.6,2721.9 1050.9,2727.7 1054.9,2728.7 C1058.9,2729.7 1062.9,2727.7 1064.9,2724.7 C1066.9,2721.7 1068.2,2715.7 1066.9,2710.8 C1065.5,2705.8 1059.6,2700.1 1056.9,2694.8 C1054.2,2689.5 1051.6,2684.1 1050.9,2678.8 C1050.2,2673.5 1050.9,2666.7 1052.9,2662.8 C1054.9,2659.0 1059.2,2656.5 1062.9,2655.9 C1066.5,2655.2 1071.7,2656.7 1074.9,2658.8 C1078.0,2661.0 1080.2,2664.8 1081.8,2668.8 C1083.5,2672.8 1082.7,2678.8 1084.8,2682.8 C1087.0,2686.8 1090.8,2690.5 1094.8,2692.8 C1098.8,2695.1 1105.8,2694.8 1108.8,2696.8 C1111.8,2698.8 1112.8,2701.1 1112.8,2704.8 C1112.8,2708.4 1111.1,2713.8 1108.8,2718.7 C1106.5,2723.7 1101.8,2728.7 1098.8,2734.7 C1095.8,2740.7 1092.2,2748.0 1090.8,2754.7 C1089.5,2761.3 1089.8,2768.0 1090.8,2774.6 C1091.8,2781.3 1093.8,2789.3 1096.8,2794.6 C1099.8,2799.9 1106.8,2802.3 1108.8,2806.6 C1110.8,2810.9 1120.4,2818.2 1108.8,2820.6 C1097.2,2822.9 1050.6,2823.9 1038.9,2820.6 C1027.3,2817.2 1037.6,2805.9 1038.9,2800.6Z" fill="#d9d9d9" stroke="#b8b8b8" stroke-width="2.6"/>
<path d="M1114.8,2806.6 C1116.1,2802.3 1123.4,2799.3 1124.8,2794.6 C1126.1,2789.9 1124.8,2784.3 1122.8,2778.6 C1120.8,2773.0 1116.1,2766.3 1112.8,2760.7 C1109.5,2755.0 1104.3,2749.0 1102.8,2744.7 C1101.3,2740.4 1101.8,2737.4 1103.8,2734.7 C1105.8,2732.1 1110.6,2729.1 1114.8,2728.7 C1118.9,2728.4 1125.4,2733.7 1128.8,2732.7 C1132.1,2731.7 1134.1,2727.1 1134.8,2722.7 C1135.4,2718.4 1135.1,2711.4 1132.8,2706.8 C1130.4,2702.1 1125.4,2698.4 1120.8,2694.8 C1116.1,2691.1 1108.3,2688.1 1104.8,2684.8 C1101.3,2681.5 1099.8,2678.0 1099.8,2674.8 C1099.8,2671.7 1101.3,2667.7 1104.8,2665.8 C1108.3,2664.0 1115.5,2663.7 1120.8,2663.8 C1126.1,2664.0 1132.4,2667.7 1136.7,2666.8 C1141.1,2666.0 1145.4,2662.5 1146.7,2658.8 C1148.1,2655.2 1146.4,2649.5 1144.7,2644.9 C1143.1,2640.2 1138.7,2635.9 1136.7,2630.9 C1134.8,2625.9 1132.8,2619.6 1132.8,2614.9 C1132.8,2610.3 1134.1,2605.4 1136.7,2602.9 C1139.4,2600.5 1145.1,2599.3 1148.7,2600.0 C1152.4,2600.6 1156.0,2603.4 1158.7,2606.9 C1161.4,2610.4 1161.7,2616.9 1164.7,2620.9 C1167.7,2624.9 1172.0,2629.9 1176.7,2630.9 C1181.3,2631.9 1188.0,2628.9 1192.6,2626.9 C1197.3,2624.9 1200.6,2620.4 1204.6,2618.9 C1208.6,2617.4 1213.4,2616.6 1216.6,2617.9 C1219.8,2619.3 1222.6,2623.1 1223.6,2626.9 C1224.6,2630.7 1224.4,2636.6 1222.6,2640.9 C1220.8,2645.2 1216.9,2649.9 1212.6,2652.9 C1208.3,2655.9 1201.3,2656.5 1196.6,2658.8 C1192.0,2661.2 1188.0,2663.5 1184.7,2666.8 C1181.3,2670.2 1178.3,2675.2 1176.7,2678.8 C1175.0,2682.5 1173.7,2686.1 1174.7,2688.8 C1175.7,2691.5 1179.0,2694.6 1182.7,2694.8 C1186.3,2695.0 1193.0,2690.5 1196.6,2689.8 C1200.3,2689.1 1203.0,2688.6 1204.6,2690.8 C1206.3,2693.0 1206.3,2698.1 1206.6,2702.8 C1207.0,2707.4 1206.0,2714.1 1206.6,2718.7 C1207.3,2723.4 1208.3,2728.2 1210.6,2730.7 C1212.9,2733.2 1217.6,2734.0 1220.6,2733.7 C1223.6,2733.4 1226.9,2731.9 1228.6,2728.7 C1230.2,2725.6 1231.2,2719.7 1230.6,2714.7 C1229.9,2709.8 1226.6,2704.1 1224.6,2698.8 C1222.6,2693.5 1219.9,2686.8 1218.6,2682.8 C1217.3,2678.8 1215.6,2677.0 1216.6,2674.8 C1217.6,2672.7 1221.3,2670.5 1224.6,2669.8 C1227.9,2669.2 1233.2,2670.0 1236.6,2670.8 C1239.9,2671.7 1243.2,2676.2 1244.6,2674.8 C1245.9,2673.5 1245.4,2666.5 1244.6,2662.8 C1243.7,2659.2 1239.9,2656.5 1239.6,2652.9 C1239.2,2649.2 1240.1,2643.5 1242.6,2640.9 C1245.1,2638.2 1250.5,2637.2 1254.5,2636.9 C1258.5,2636.6 1263.5,2636.9 1266.5,2638.9 C1269.5,2640.9 1272.2,2644.5 1272.5,2648.9 C1272.8,2653.2 1269.2,2659.5 1268.5,2664.8 C1267.8,2670.2 1267.2,2676.5 1268.5,2680.8 C1269.8,2685.1 1273.0,2688.5 1276.5,2690.8 C1280.0,2693.1 1287.5,2692.8 1289.5,2694.8 C1291.5,2696.8 1291.1,2699.1 1288.5,2702.8 C1285.8,2706.4 1274.2,2714.1 1273.5,2716.7 C1272.8,2719.4 1280.7,2717.7 1284.5,2718.7 C1288.3,2719.7 1293.6,2720.4 1296.5,2722.7 C1299.3,2725.1 1301.8,2728.7 1301.5,2732.7 C1301.1,2736.7 1298.6,2743.4 1294.5,2746.7 C1290.3,2750.0 1283.2,2751.7 1276.5,2752.7 C1269.8,2753.7 1258.7,2751.7 1254.5,2752.7 C1250.4,2753.7 1250.5,2755.3 1251.5,2758.7 C1252.5,2762.0 1259.0,2768.3 1260.5,2772.6 C1262.0,2777.0 1264.5,2781.0 1260.5,2784.6 C1256.5,2788.3 1243.2,2790.6 1236.6,2794.6 C1229.9,2798.6 1223.6,2804.3 1220.6,2808.6 C1217.6,2812.9 1235.9,2818.6 1218.6,2820.6 C1201.3,2822.6 1134.1,2822.9 1116.8,2820.6 C1099.5,2818.2 1113.5,2810.9 1114.8,2806.6Z" fill="#d9d9d9" stroke="#b8b8b8" stroke-width="2.6"/>
<path d="M1172.7,2734.7 C1170.4,2740.0 1165.4,2755.3 1162.7,2764.7 C1160.0,2774.0 1157.0,2783.6 1156.7,2790.6 C1156.4,2797.6 1157.4,2803.3 1160.7,2806.6 C1164.0,2809.9 1172.5,2811.9 1176.7,2810.6 C1180.8,2809.2 1183.7,2804.6 1185.7,2798.6 C1187.7,2792.6 1188.8,2783.0 1188.7,2774.6 C1188.5,2766.3 1186.7,2755.7 1184.7,2748.7 C1182.7,2741.7 1178.7,2735.0 1176.7,2732.7 C1174.7,2730.4 1175.0,2729.4 1172.7,2734.7Z" fill="#f5f5f5" stroke="#b8b8b8" stroke-width="2.6"/>
<path d="M1174.7,2686.8 C1173.7,2685.5 1171.7,2680.6 1168.7,2678.8 C1165.7,2677.0 1160.4,2675.2 1156.7,2675.8 C1153.1,2676.5 1148.9,2679.3 1146.7,2682.8 C1144.6,2686.3 1142.7,2692.1 1143.7,2696.8 C1144.7,2701.4 1148.6,2707.1 1152.7,2710.8 C1156.9,2714.4 1165.4,2714.7 1168.7,2718.7 C1172.0,2722.7 1172.0,2732.1 1172.7,2734.7" fill="none" stroke="#b8b8b8" stroke-width="2.6"/>
<circle cx="1831.8" cy="2686.5" r="124" fill="#fff" fill-opacity="0.6" stroke="#666" stroke-width="2"/>
<g transform="translate(1752.3,2685.4) rotate(30)"><circle r="20.0" fill="#fff" fill-opacity="0.85" stroke="#777" stroke-width="1.8"/><path d="M-12,-2 C-12,-12 -2,-15 3,-9 C6,-4 -2,0 -4,6 C-6,10 -12,8 -12,-2Z" fill="#d8d8d8"/><path d="M4,2 C8,-4 14,-3 13,4 C12,10 6,14 1,12 C-2,10 1,6 4,2Z" fill="#dedede"/></g>
<g transform="translate(1785.1,2713.0) rotate(200)"><circle r="20.0" fill="#fff" fill-opacity="0.85" stroke="#777" stroke-width="1.8"/><path d="M-12,-2 C-12,-12 -2,-15 3,-9 C6,-4 -2,0 -4,6 C-6,10 -12,8 -12,-2Z" fill="#d8d8d8"/><path d="M4,2 C8,-4 14,-3 13,4 C12,10 6,14 1,12 C-2,10 1,6 4,2Z" fill="#dedede"/></g>
<g transform="translate(1809.5,2736.3) rotate(90)"><circle r="20.0" fill="#fff" fill-opacity="0.85" stroke="#777" stroke-width="1.8"/><path d="M-12,-2 C-12,-12 -2,-15 3,-9 C6,-4 -2,0 -4,6 C-6,10 -12,8 -12,-2Z" fill="#d8d8d8"/><path d="M4,2 C8,-4 14,-3 13,4 C12,10 6,14 1,12 C-2,10 1,6 4,2Z" fill="#dedede"/></g>
<g transform="translate(1747.0,2763.9) rotate(310)"><circle r="20.0" fill="#fff" fill-opacity="0.85" stroke="#777" stroke-width="1.8"/><path d="M-12,-2 C-12,-12 -2,-15 3,-9 C6,-4 -2,0 -4,6 C-6,10 -12,8 -12,-2Z" fill="#d8d8d8"/><path d="M4,2 C8,-4 14,-3 13,4 C12,10 6,14 1,12 C-2,10 1,6 4,2Z" fill="#dedede"/></g>
<g transform="translate(1787.3,2763.9) rotate(150)"><circle r="20.0" fill="#fff" fill-opacity="0.85" stroke="#777" stroke-width="1.8"/><path d="M-12,-2 C-12,-12 -2,-15 3,-9 C6,-4 -2,0 -4,6 C-6,10 -12,8 -12,-2Z" fill="#d8d8d8"/><path d="M4,2 C8,-4 14,-3 13,4 C12,10 6,14 1,12 C-2,10 1,6 4,2Z" fill="#dedede"/></g>
<g stroke-linejoin="round">
<path d="M1696.1,2713.0 C1699.9,2709.8 1763.8,2696.0 1766.1,2698.2 C1768.3,2700.3 1733.8,2741.6 1730.0,2744.8 C1726.2,2748.1 1711.0,2749.1 1708.8,2746.9 C1706.5,2744.8 1692.2,2716.3 1696.1,2713.0Z" fill="#e6e6e6" stroke="#888" stroke-width="1"/>
<path d="M1702.4,2717.3 L1763.9,2700.3 M1704.1,2722.6 L1761.8,2702.4 M1705.8,2727.9 L1759.7,2704.5 M1707.5,2733.2 L1757.6,2706.7 M1709.2,2738.5 L1755.4,2708.8 M1710.9,2743.8 L1753.3,2710.9 " stroke="#c8c8c8" stroke-width="1.6" fill="none"/>
<path d="M1778.8,2685.4 C1781.3,2681.7 1818.8,2667.7 1829.7,2660.0 C1840.6,2652.3 1864.7,2625.9 1872.1,2619.7 C1879.5,2613.5 1887.1,2608.7 1893.3,2607.0 C1899.5,2605.2 1918.9,2603.1 1925.1,2604.8 C1931.3,2606.6 1943.9,2617.4 1946.3,2621.8 C1948.8,2626.3 1948.8,2638.8 1946.3,2643.0 C1943.9,2647.2 1931.3,2654.4 1925.1,2657.9 C1918.9,2661.3 1902.0,2669.2 1893.3,2672.7 C1884.7,2676.2 1860.8,2685.3 1850.9,2687.6 C1841.0,2689.8 1816.9,2692.1 1808.5,2691.8 C1800.1,2691.6 1776.3,2689.2 1778.8,2685.4Z" fill="#f0f0f0" stroke="#666" stroke-width="1.2"/>
<path d="M1684.4,2708.8 C1687.4,2706.1 1694.1,2696.4 1702.4,2692.9 C1710.7,2689.3 1723.6,2689.1 1734.2,2687.6 C1744.8,2686.0 1753.7,2686.1 1766.1,2683.7 C1778.4,2681.3 1796.1,2677.0 1808.5,2673.1 C1820.8,2669.2 1830.0,2663.7 1840.3,2660.4 C1850.5,2657.1 1865.0,2654.4 1870.0,2653.2" fill="none" stroke="#2e2e2e" stroke-width="13" stroke-linecap="round"/>
<path d="M1703.5,2761.8 C1707.9,2759.0 1721.3,2751.9 1730.0,2745.3 C1738.7,2738.6 1747.3,2729.3 1755.4,2721.9 C1763.6,2714.5 1772.1,2706.4 1778.8,2700.7 C1785.5,2695.0 1792.9,2689.8 1795.7,2687.6" fill="none" stroke="#2e2e2e" stroke-width="12" stroke-linecap="round"/>
<path d="M1785.1,2592.1 C1785.1,2589.9 1792.0,2586.0 1795.7,2585.8 C1799.5,2585.5 1812.3,2587.3 1817.0,2590.0 C1821.7,2592.7 1832.6,2604.4 1836.0,2609.1 C1839.5,2613.8 1844.9,2626.3 1846.7,2630.3 C1848.4,2634.3 1852.1,2641.0 1850.9,2643.0 C1849.7,2645.0 1838.5,2649.2 1836.0,2647.3 C1833.6,2645.3 1832.2,2630.5 1829.7,2626.1 C1827.2,2621.6 1818.8,2611.6 1814.8,2609.1 C1810.9,2606.6 1799.2,2606.8 1795.7,2604.8 C1792.3,2602.9 1785.1,2594.3 1785.1,2592.1Z" fill="#2e2e2e"/>
<path d="M1787.3,2588.9 C1789.5,2588.2 1799.1,2583.5 1804.2,2583.6 C1809.3,2583.8 1820.3,2586.6 1825.4,2590.0 C1830.5,2593.4 1838.7,2603.1 1842.4,2609.1 C1846.1,2615.0 1851.6,2631.1 1853.0,2634.5" fill="none" stroke="#666" stroke-width="1.2"/>
<path d="M1806.4,2615.4 C1806.8,2613.7 1822.5,2626.9 1825.4,2630.3 C1828.4,2633.7 1836.5,2647.7 1836.0,2649.4 C1835.6,2651.1 1824.2,2650.7 1821.2,2647.3 C1818.2,2643.9 1805.9,2617.1 1806.4,2615.4Z" fill="#ddd" stroke="#999" stroke-width="0.8"/>
<path d="M1846.7,2604.8 C1847.1,2603.4 1861.1,2607.8 1863.6,2609.1 C1866.2,2610.4 1872.5,2616.1 1872.1,2617.6 C1871.7,2619.1 1861.9,2625.2 1859.4,2623.9 C1856.8,2622.7 1846.2,2606.3 1846.7,2604.8Z" fill="#2e2e2e"/>
<path d="M1886.9,2607.0 C1888.2,2605.6 1905.4,2604.2 1908.2,2604.8 C1910.9,2605.5 1915.8,2611.9 1914.5,2613.3 C1913.3,2614.7 1898.2,2619.3 1895.4,2618.6 C1892.7,2618.0 1885.7,2608.3 1886.9,2607.0Z" fill="#2e2e2e"/>
<path d="M1872.1,2615.4 C1873.0,2614.8 1881.4,2616.5 1882.7,2617.6 C1884.0,2618.6 1885.7,2625.4 1884.8,2626.1 C1884.0,2626.7 1875.5,2625.0 1874.2,2623.9 C1873.0,2622.9 1871.3,2616.1 1872.1,2615.4Z" fill="#2e2e2e"/>
<path d="M1918.8,2613.3 C1919.2,2611.6 1931.1,2617.1 1933.6,2619.7 C1936.2,2622.2 1943.6,2635.8 1944.2,2638.8 C1944.9,2641.7 1941.5,2649.6 1940.0,2649.4 C1938.5,2649.2 1931.5,2640.3 1929.4,2636.7 C1927.2,2633.1 1918.3,2615.0 1918.8,2613.3Z" fill="#2e2e2e"/>
<path d="M1889.1,2643.0 C1889.9,2640.3 1905.6,2637.5 1908.2,2638.8 C1910.7,2640.1 1914.3,2652.8 1914.5,2655.7 C1914.7,2658.7 1911.8,2667.4 1910.3,2668.5 C1908.8,2669.5 1901.8,2668.9 1899.7,2666.4 C1897.6,2663.8 1888.2,2645.8 1889.1,2643.0Z" fill="#2e2e2e"/>
<path d="M1901.8,2668.5 C1903.1,2664.0 1911.1,2664.2 1914.5,2666.4 C1917.9,2668.5 1931.9,2685.2 1935.7,2689.7 C1939.6,2694.1 1951.0,2706.7 1952.7,2710.9 C1954.4,2715.1 1953.3,2728.9 1952.7,2732.1 C1952.1,2735.3 1948.0,2743.8 1946.3,2742.7 C1944.6,2741.6 1938.5,2726.2 1935.7,2721.5 C1933.0,2716.8 1921.1,2696.3 1918.8,2696.0 C1916.4,2695.8 1914.1,2717.9 1912.4,2719.4 C1910.7,2720.9 1902.9,2716.0 1901.8,2710.9 C1900.7,2705.8 1900.5,2672.9 1901.8,2668.5Z" fill="#2e2e2e"/>
<path d="M1916.6,2666.4 C1919.2,2668.3 1930.6,2675.3 1935.7,2681.2 C1940.8,2687.1 1952.3,2706.9 1954.8,2710.9" fill="none" stroke="#555" stroke-width="1.2"/>
<path d="M1848.8,2687.6 C1850.8,2684.8 1861.5,2684.8 1863.6,2687.6 C1865.7,2690.3 1867.0,2704.5 1866.8,2710.9 C1866.6,2717.3 1863.4,2736.3 1861.5,2742.7 C1859.6,2749.1 1854.1,2763.1 1850.9,2766.0 C1847.7,2769.0 1835.2,2770.9 1833.9,2768.2 C1832.7,2765.4 1838.8,2749.4 1840.3,2742.7 C1841.8,2736.0 1845.7,2717.3 1846.7,2710.9 C1847.6,2704.5 1846.8,2690.3 1848.8,2687.6Z" fill="#2e2e2e"/>
<path d="M1864.7,2687.6 C1865.4,2690.7 1870.1,2703.3 1870.0,2710.9 C1869.8,2718.5 1866.0,2737.3 1863.6,2744.8 C1861.2,2752.3 1853.5,2764.1 1852.0,2767.1" fill="none" stroke="#555" stroke-width="1.2"/>
<ellipse cx="1855.1" cy="2679.1" rx="7" ry="8" fill="#bdbdbd"/>
<circle cx="1926.2" cy="2625.0" r="16" fill="#fff" fill-opacity="0.25" stroke="#666" stroke-width="1.4"/><circle cx="1926.2" cy="2625.0" r="12" fill="none" stroke="#777" stroke-width="1.1"/><circle cx="1927.7" cy="2625.5" r="6" fill="#111"/>
</g>
<g stroke-linejoin="round">
<path d="M1218.7,2515.4 C1223.5,2515.0 1283.5,2544.5 1296.0,2550.2 C1308.6,2555.8 1363.4,2577.9 1369.5,2583.1 C1375.6,2588.2 1372.4,2608.0 1369.5,2612.1 C1366.6,2616.1 1342.8,2626.6 1334.7,2631.4 C1326.7,2636.2 1280.2,2671.7 1272.8,2670.1 C1265.4,2668.5 1248.7,2621.7 1245.8,2612.1 C1242.9,2602.4 1240.3,2562.1 1238.0,2554.0 C1235.8,2546.0 1213.8,2515.7 1218.7,2515.4Z" fill="#eaeaea" stroke="#999" stroke-width="1"/>
<clipPath id="cpCT"><path d="M1218.7,2515.4 C1223.5,2515.0 1283.5,2544.5 1296.0,2550.2 C1308.6,2555.8 1363.4,2577.9 1369.5,2583.1 C1375.6,2588.2 1372.4,2608.0 1369.5,2612.1 C1366.6,2616.1 1342.8,2626.6 1334.7,2631.4 C1326.7,2636.2 1280.2,2671.7 1272.8,2670.1 C1265.4,2668.5 1248.7,2621.7 1245.8,2612.1 C1242.9,2602.4 1240.3,2562.1 1238.0,2554.0 C1235.8,2546.0 1213.8,2515.7 1218.7,2515.4Z"/></clipPath>
<path d="M1367.7,2588.9 L1227.0,2507.6 M1367.0,2590.2 L1219.2,2522.8 M1366.5,2591.6 L1212.9,2538.7 M1366.1,2593.0 L1208.1,2555.1 M1365.8,2594.4 L1204.9,2571.8 M1365.7,2595.9 L1203.4,2588.8 M1365.7,2597.4 L1203.5,2605.9 M1365.8,2598.9 L1205.2,2622.9 M1366.1,2600.3 L1208.5,2639.6 M1366.5,2601.8 L1213.4,2656.0 M1367.1,2603.1 L1219.9,2671.8 M1367.8,2604.4 L1227.8,2686.9 " stroke="#cfcfcf" stroke-width="4.2" fill="none" clip-path="url(#cpCT)"/>
<path d="M1427.5,2407.1 C1426.8,2408.2 1447.3,2440.7 1450.7,2449.6 C1454.2,2458.5 1460.6,2486.7 1462.3,2496.0 C1464.1,2505.3 1463.1,2540.7 1468.1,2542.4 C1473.2,2544.2 1510.5,2520.0 1512.6,2513.4 C1514.8,2506.9 1494.8,2484.2 1489.4,2476.7 C1484.0,2469.2 1464.7,2445.0 1458.5,2438.0 C1452.3,2431.1 1428.3,2405.9 1427.5,2407.1Z" fill="#e4e4e4" stroke="#999" stroke-width="1"/>
<path d="M1450.7,2449.6 L1485.6,2476.7 M1454.6,2464.3 L1490.2,2483.7 M1458.5,2479.0 L1494.8,2490.6 M1462.3,2493.7 L1499.5,2497.6 M1466.2,2508.4 L1504.1,2504.5 M1470.1,2523.1 L1508.8,2511.5 " stroke="#c9c9c9" stroke-width="3.5" fill="none"/>
<path d="M1535.8,2430.3 C1532.7,2429.5 1548.2,2458.3 1551.3,2465.1 C1554.4,2471.9 1561.4,2494.2 1566.8,2498.0 C1572.2,2501.8 1603.9,2505.5 1605.4,2503.0 C1607.0,2500.5 1589.2,2480.1 1582.2,2472.8 C1575.3,2465.6 1538.9,2431.1 1535.8,2430.3Z" fill="#e6e6e6" stroke="#999" stroke-width="1"/>
<path d="M1489.4,2685.6 C1493.3,2684.4 1521.5,2704.5 1524.2,2708.8 C1526.9,2713.0 1519.2,2722.3 1516.5,2728.1 C1513.8,2733.9 1500.6,2759.6 1497.2,2766.8 C1493.7,2773.9 1485.7,2796.4 1481.7,2799.6 C1477.6,2802.9 1457.3,2803.7 1456.5,2799.6 C1455.8,2795.6 1471.0,2767.0 1473.9,2759.0 C1476.8,2751.1 1484.0,2727.7 1485.6,2720.4 C1487.1,2713.0 1485.6,2686.7 1489.4,2685.6Z" fill="#2e2e2e"/>
<path d="M1570.6,2712.6 C1578.4,2708.8 1631.4,2709.1 1636.4,2712.6 C1641.4,2716.1 1624.0,2738.7 1620.9,2747.4 C1617.8,2756.1 1613.4,2794.4 1605.4,2799.6 C1597.5,2804.9 1546.3,2804.5 1541.6,2799.6 C1537.0,2794.8 1556.1,2760.0 1559.0,2751.3 C1561.9,2742.6 1562.9,2716.5 1570.6,2712.6Z" fill="#2e2e2e"/>
<path d="M1636.4,2712.6 C1639.2,2708.9 1649.2,2705.3 1648.8,2710.7 C1648.4,2716.1 1635.7,2757.9 1632.5,2766.8 C1629.4,2775.7 1619.8,2796.4 1617.1,2799.6 C1614.3,2802.9 1605.1,2804.9 1605.4,2799.6 C1605.8,2794.4 1617.8,2756.1 1620.9,2747.4 C1624.0,2738.7 1633.6,2716.3 1636.4,2712.6Z" fill="#3a3a3a"/>
<g fill="#c9c9c9"><circle cx="1483.7" cy="2760.4" r="1.8"/><circle cx="1494.3" cy="2766.3" r="1.5"/><circle cx="1468.3" cy="2781.9" r="1.7"/><circle cx="1472.0" cy="2793.5" r="2.0"/><circle cx="1506.3" cy="2755.4" r="2.2"/><circle cx="1478.3" cy="2767.0" r="2.4"/><circle cx="1488.6" cy="2774.8" r="2.2"/><circle cx="1472.1" cy="2776.1" r="2.1"/><circle cx="1499.1" cy="2722.6" r="2.4"/><circle cx="1487.4" cy="2773.2" r="2.5"/><circle cx="1490.6" cy="2788.0" r="1.9"/><circle cx="1505.9" cy="2753.0" r="2.5"/><circle cx="1517.5" cy="2727.5" r="1.6"/><circle cx="1472.1" cy="2791.3" r="1.9"/><circle cx="1503.5" cy="2742.5" r="2.0"/><circle cx="1493.8" cy="2746.1" r="2.1"/><circle cx="1486.5" cy="2786.8" r="2.2"/><circle cx="1499.7" cy="2783.3" r="2.6"/><circle cx="1508.6" cy="2732.3" r="2.4"/><circle cx="1499.7" cy="2786.8" r="2.1"/><circle cx="1508.8" cy="2735.9" r="2.4"/><circle cx="1502.1" cy="2741.3" r="1.5"/><circle cx="1604.5" cy="2795.0" r="1.5"/><circle cx="1616.3" cy="2751.3" r="1.6"/><circle cx="1573.5" cy="2778.3" r="2.4"/><circle cx="1561.2" cy="2766.7" r="1.5"/><circle cx="1613.0" cy="2745.3" r="2.5"/><circle cx="1625.6" cy="2758.5" r="2.6"/><circle cx="1592.8" cy="2726.2" r="2.1"/><circle cx="1571.4" cy="2735.2" r="1.9"/><circle cx="1610.5" cy="2732.1" r="1.5"/><circle cx="1623.3" cy="2744.0" r="2.6"/><circle cx="1623.5" cy="2748.9" r="2.0"/><circle cx="1591.7" cy="2768.9" r="2.1"/><circle cx="1594.9" cy="2767.1" r="2.5"/><circle cx="1596.5" cy="2752.9" r="2.3"/><circle cx="1582.2" cy="2743.1" r="2.6"/><circle cx="1594.3" cy="2761.7" r="1.4"/><circle cx="1586.5" cy="2764.1" r="1.4"/><circle cx="1598.3" cy="2768.0" r="1.5"/><circle cx="1603.4" cy="2755.5" r="2.2"/><circle cx="1579.0" cy="2773.7" r="2.3"/><circle cx="1574.4" cy="2724.9" r="2.2"/><circle cx="1631.2" cy="2739.3" r="1.9"/><circle cx="1605.0" cy="2744.5" r="1.8"/><circle cx="1585.3" cy="2748.2" r="2.1"/><circle cx="1584.3" cy="2748.8" r="2.3"/><circle cx="1561.3" cy="2763.3" r="2.3"/><circle cx="1589.0" cy="2737.1" r="2.4"/><circle cx="1585.3" cy="2734.5" r="1.9"/><circle cx="1617.7" cy="2728.0" r="1.8"/><circle cx="1574.4" cy="2783.2" r="1.9"/><circle cx="1626.3" cy="2733.1" r="1.8"/><circle cx="1593.9" cy="2787.1" r="1.9"/><circle cx="1586.1" cy="2729.5" r="2.0"/><circle cx="1565.8" cy="2781.2" r="2.4"/><circle cx="1579.2" cy="2741.4" r="2.4"/><circle cx="1595.4" cy="2781.2" r="1.8"/><circle cx="1575.3" cy="2742.4" r="2.4"/><circle cx="1583.2" cy="2746.5" r="1.9"/><circle cx="1591.3" cy="2751.2" r="2.5"/><circle cx="1584.6" cy="2720.7" r="2.5"/><circle cx="1606.3" cy="2794.8" r="1.9"/><circle cx="1612.5" cy="2790.3" r="1.7"/><circle cx="1601.4" cy="2783.5" r="2.2"/><circle cx="1601.0" cy="2742.2" r="1.8"/><circle cx="1587.7" cy="2725.5" r="2.1"/><circle cx="1572.0" cy="2781.5" r="1.5"/><circle cx="1615.6" cy="2772.7" r="2.5"/><circle cx="1609.7" cy="2788.2" r="2.1"/><circle cx="1555.7" cy="2776.6" r="1.6"/><circle cx="1576.7" cy="2770.4" r="2.0"/><circle cx="1576.9" cy="2791.2" r="2.1"/><circle cx="1590.3" cy="2739.4" r="2.4"/><circle cx="1585.2" cy="2779.4" r="1.8"/><circle cx="1573.4" cy="2760.7" r="2.4"/><circle cx="1564.9" cy="2780.1" r="2.5"/></g>
<path d="M1760.2,2604.3 C1759.5,2601.7 1747.9,2592.7 1744.7,2588.9 C1741.5,2585.0 1725.7,2563.1 1721.5,2557.9 C1717.3,2552.8 1699.6,2530.5 1694.4,2527.0 C1689.3,2523.4 1667.0,2517.5 1659.6,2515.4 C1652.2,2513.3 1614.5,2503.3 1605.4,2501.8 C1596.4,2500.4 1559.0,2497.0 1551.3,2498.0 C1543.6,2498.9 1517.8,2509.4 1512.6,2513.4 C1507.5,2517.5 1494.6,2542.3 1489.4,2546.3 C1484.3,2550.3 1460.7,2558.6 1450.7,2561.8 C1440.7,2564.9 1376.3,2580.2 1369.5,2584.2 C1362.7,2588.2 1364.4,2607.2 1369.5,2610.1 C1374.7,2613.1 1422.7,2615.8 1431.4,2619.8 C1440.1,2623.8 1469.1,2653.0 1473.9,2658.5 C1478.8,2664.0 1485.2,2681.4 1489.4,2685.6 C1493.6,2689.7 1516.2,2706.4 1524.2,2708.8 C1532.3,2711.1 1576.1,2713.2 1586.1,2713.4 C1596.1,2713.6 1635.4,2713.1 1644.1,2711.5 C1652.8,2709.8 1684.1,2697.1 1690.5,2693.3 C1697.0,2689.5 1717.6,2670.4 1721.5,2666.2 C1725.3,2662.0 1734.4,2646.9 1737.0,2643.0 C1739.5,2639.1 1750.5,2623.0 1752.4,2619.8 C1754.4,2616.6 1760.8,2606.9 1760.2,2604.3Z" fill="#e8e8e8" stroke="#555" stroke-width="1.4"/>
<path d="M1489.4,2666.2 C1493.3,2666.6 1518.4,2686.5 1528.1,2689.4 C1537.8,2692.3 1574.5,2695.0 1586.1,2695.2 C1597.7,2695.4 1633.3,2693.5 1644.1,2691.4 C1655.0,2689.2 1689.8,2673.8 1694.4,2673.9 C1699.0,2674.1 1695.6,2689.5 1690.5,2693.3 C1685.5,2697.0 1654.6,2709.5 1644.1,2711.5 C1633.7,2713.5 1598.1,2713.7 1586.1,2713.4 C1574.1,2713.1 1533.9,2711.5 1524.2,2708.8 C1514.6,2706.0 1492.9,2689.8 1489.4,2685.6 C1485.9,2681.3 1485.6,2665.8 1489.4,2666.2Z" fill="#c9c9c9" stroke="none"/>
<path d="M1512.6,2513.4 C1517.7,2509.5 1549.0,2500.9 1551.3,2503.0 C1553.6,2505.1 1538.9,2526.9 1535.8,2534.7 C1532.7,2542.5 1522.3,2571.5 1520.4,2581.1 C1518.4,2590.8 1516.1,2621.0 1516.5,2631.4 C1516.9,2641.8 1523.3,2677.8 1524.2,2685.6 C1525.2,2693.3 1529.6,2708.8 1526.2,2708.8 C1522.7,2708.8 1493.1,2693.3 1489.4,2685.6 C1485.7,2677.8 1489.6,2641.8 1489.4,2631.4 C1489.2,2621.0 1486.3,2590.0 1487.5,2581.1 C1488.6,2572.2 1498.5,2549.2 1501.0,2542.4 C1503.5,2535.7 1507.6,2517.4 1512.6,2513.4Z" fill="#2e2e2e"/>
<path d="M1601.6,2501.8 C1605.3,2498.5 1638.3,2505.1 1641.0,2509.6 C1643.7,2514.0 1629.1,2539.2 1628.7,2546.3 C1628.2,2553.5 1635.4,2572.6 1636.4,2581.1 C1637.4,2589.6 1637.7,2622.1 1638.3,2631.4 C1638.9,2640.7 1640.4,2666.1 1642.2,2673.9 C1644.0,2681.8 1657.9,2705.8 1656.5,2709.5 C1655.1,2713.3 1631.8,2713.5 1628.7,2711.5 C1625.5,2709.5 1626.3,2697.4 1624.8,2689.4 C1623.2,2681.4 1615.1,2642.2 1613.2,2631.4 C1611.3,2620.6 1606.4,2590.0 1605.4,2581.1 C1604.5,2572.2 1603.9,2550.4 1603.5,2542.4 C1603.1,2534.5 1597.8,2505.1 1601.6,2501.8Z" fill="#2e2e2e"/>
<path d="M1661.5,2523.9 C1663.0,2521.6 1679.3,2529.8 1682.8,2531.6 C1686.3,2533.5 1694.8,2535.9 1696.3,2542.4 C1697.9,2548.9 1696.9,2585.8 1698.3,2596.6 C1699.6,2607.4 1707.9,2642.9 1709.9,2650.7 C1711.9,2658.6 1720.2,2670.8 1718.4,2674.7 C1716.5,2678.7 1694.9,2692.6 1691.3,2690.2 C1687.8,2687.8 1684.0,2660.1 1682.8,2650.7 C1681.6,2641.4 1680.4,2606.3 1678.9,2596.6 C1677.5,2586.9 1669.8,2561.3 1668.1,2554.0 C1666.4,2546.8 1660.1,2526.1 1661.5,2523.9Z" fill="#2e2e2e"/>
<path d="M1702.1,2556.0 C1702.9,2552.8 1717.4,2561.4 1721.5,2564.9 C1725.5,2568.4 1742.0,2587.4 1742.8,2590.8 C1743.5,2594.2 1731.3,2594.9 1729.2,2598.5 C1727.1,2602.2 1723.0,2627.7 1721.5,2627.5 C1719.9,2627.3 1715.7,2603.7 1713.7,2596.6 C1711.8,2589.4 1701.4,2559.2 1702.1,2556.0Z" fill="#2e2e2e"/>
<path d="M1713.7,2623.7 C1716.0,2620.4 1737.0,2605.8 1740.8,2604.3 C1744.7,2602.9 1759.2,2604.3 1760.2,2606.3 C1761.1,2608.2 1755.0,2623.2 1752.4,2627.5 C1749.8,2631.9 1731.8,2655.2 1729.2,2658.5 C1726.6,2661.8 1722.8,2668.3 1721.5,2667.0 C1720.2,2665.7 1714.4,2646.6 1713.7,2643.0 C1713.1,2639.4 1711.5,2626.9 1713.7,2623.7Z" fill="#2e2e2e"/>
<path d="M1715.7,2627.5 L1742.8,2609.0 L1758.2,2609.0" fill="none" stroke="#ddd" stroke-width="1.5"/>
<path d="M1605.4,2546.3 C1611.1,2536.0 1633.8,2533.7 1644.1,2534.7 C1654.4,2535.7 1675.6,2543.7 1682.8,2554.0 C1690.0,2564.4 1696.7,2596.1 1698.3,2612.1 C1699.8,2628.1 1701.6,2663.1 1694.4,2673.9 C1687.2,2684.8 1655.0,2693.3 1644.1,2693.3 C1633.3,2693.3 1618.9,2684.8 1613.2,2673.9 C1607.5,2663.1 1602.6,2629.1 1601.6,2612.1 C1600.6,2595.0 1599.8,2556.6 1605.4,2546.3Z" fill="#fff" fill-opacity="0.17" stroke="none"/>
<path d="M1624.8,2561.8 C1625.0,2557.7 1636.4,2539.4 1640.3,2534.7 C1644.1,2530.1 1652.5,2524.9 1653.8,2527.0 C1655.1,2529.0 1652.0,2545.0 1649.9,2550.2 C1647.9,2555.3 1641.7,2564.1 1638.3,2565.7 C1635.0,2567.2 1624.5,2565.9 1624.8,2561.8Z" fill="#fff" fill-opacity="0.7" stroke="none"/>
<g fill="#fafafa"><circle cx="1587.3" cy="2643.0" r="1.6"/><circle cx="1574.3" cy="2648.1" r="1.7"/><circle cx="1548.0" cy="2570.0" r="2.5"/><circle cx="1559.2" cy="2596.9" r="3.0"/><circle cx="1528.2" cy="2541.9" r="1.8"/><circle cx="1537.3" cy="2543.7" r="3.4"/><circle cx="1590.9" cy="2546.0" r="2.5"/><circle cx="1551.3" cy="2576.1" r="2.2"/><circle cx="1575.6" cy="2611.9" r="2.2"/><circle cx="1542.1" cy="2577.9" r="1.8"/><circle cx="1568.9" cy="2628.9" r="2.3"/><circle cx="1534.0" cy="2558.2" r="2.3"/><circle cx="1572.5" cy="2637.6" r="2.3"/><circle cx="1587.0" cy="2616.6" r="2.4"/><circle cx="1555.5" cy="2600.0" r="2.9"/><circle cx="1559.0" cy="2626.0" r="2.4"/><circle cx="1546.1" cy="2605.2" r="2.9"/><circle cx="1533.4" cy="2590.6" r="2.4"/><circle cx="1592.7" cy="2657.9" r="2.3"/><circle cx="1594.1" cy="2638.7" r="2.1"/><circle cx="1562.2" cy="2550.9" r="3.1"/><circle cx="1576.8" cy="2651.4" r="3.0"/><circle cx="1577.2" cy="2631.2" r="2.6"/><circle cx="1535.7" cy="2612.0" r="1.6"/><circle cx="1538.6" cy="2636.5" r="1.7"/><circle cx="1534.8" cy="2547.8" r="3.2"/><circle cx="1541.3" cy="2537.8" r="3.1"/><circle cx="1537.0" cy="2645.7" r="2.8"/><circle cx="1589.5" cy="2660.0" r="2.6"/><circle cx="1586.8" cy="2539.5" r="3.0"/><circle cx="1565.7" cy="2628.8" r="1.8"/><circle cx="1583.1" cy="2657.6" r="1.7"/><circle cx="1551.9" cy="2608.9" r="3.1"/><circle cx="1545.9" cy="2558.3" r="2.0"/></g>
<path d="M1199.3,2494.1 C1201.5,2493.8 1209.0,2492.4 1218.7,2496.0 C1228.3,2499.7 1280.6,2524.7 1296.0,2530.8 C1311.5,2537.0 1359.8,2554.8 1373.4,2557.9 C1386.9,2561.0 1419.8,2562.9 1431.4,2561.8 C1443.0,2560.7 1483.9,2547.0 1489.4,2547.1 C1494.9,2547.2 1492.1,2559.1 1486.3,2562.6 C1480.5,2566.0 1442.7,2580.0 1431.4,2581.9 C1420.1,2583.8 1386.9,2585.0 1373.4,2581.9 C1359.8,2578.8 1311.5,2557.5 1296.0,2551.0 C1280.6,2544.4 1228.5,2521.3 1218.7,2516.1 C1208.8,2511.0 1199.3,2501.3 1197.4,2499.1 C1195.5,2496.9 1197.2,2494.4 1199.3,2494.1Z" fill="#2e2e2e"/>
<path d="M1269.0,2678.6 C1268.5,2676.3 1266.3,2672.1 1272.8,2667.0 C1279.4,2661.9 1324.7,2633.7 1334.7,2627.5 C1344.8,2621.3 1364.9,2607.8 1373.4,2605.1 C1381.9,2602.4 1413.7,2600.2 1419.8,2600.5 C1425.9,2600.8 1433.3,2606.2 1434.1,2608.2 C1435.0,2610.2 1432.8,2618.6 1428.3,2620.6 C1423.8,2622.6 1398.2,2624.4 1388.9,2628.3 C1379.5,2632.2 1345.8,2653.1 1334.7,2659.2 C1323.6,2665.4 1284.0,2688.3 1277.5,2690.2 C1270.9,2692.1 1269.4,2680.9 1269.0,2678.6Z" fill="#2e2e2e"/>
<g fill="#c9c9c9"><circle cx="1222.5" cy="2504.5" r="7.0"/><circle cx="1249.6" cy="2513.4" r="6.0"/><circle cx="1274.8" cy="2523.9" r="6.5"/><circle cx="1303.8" cy="2535.5" r="6.5"/><circle cx="1331.6" cy="2545.5" r="7.0"/><circle cx="1288.3" cy="2677.0" r="5.0"/><circle cx="1311.5" cy="2664.3" r="6.5"/><circle cx="1338.6" cy="2648.8" r="6.5"/><circle cx="1367.6" cy="2633.3" r="7.0"/></g>
<path d="M1551.3,2498.0 C1552.1,2493.9 1526.5,2479.2 1520.4,2472.8 C1514.2,2466.4 1496.4,2441.1 1489.4,2434.1 C1482.5,2427.2 1458.5,2408.6 1450.7,2403.2 C1443.0,2397.8 1419.8,2384.4 1412.1,2380.0 C1404.3,2375.6 1380.3,2362.2 1373.4,2358.7 C1366.4,2355.2 1346.9,2346.7 1342.4,2345.2 C1338.0,2343.6 1328.1,2341.9 1328.9,2343.3 C1329.7,2344.6 1344.2,2354.9 1350.2,2358.7 C1356.2,2362.6 1381.9,2377.3 1388.9,2381.9 C1395.8,2386.6 1412.8,2399.0 1419.8,2405.1 C1426.8,2411.3 1451.1,2435.3 1458.5,2443.8 C1465.8,2452.3 1487.9,2483.3 1493.3,2490.2 C1498.7,2497.2 1506.8,2512.7 1512.6,2513.4 C1518.4,2514.2 1550.5,2502.0 1551.3,2498.0Z" fill="#2e2e2e"/>
<g fill="#cfcfcf"><circle cx="1447.4" cy="2415.4" r="2.0"/><circle cx="1394.0" cy="2381.5" r="1.9"/><circle cx="1401.2" cy="2389.8" r="2.1"/><circle cx="1496.7" cy="2476.5" r="2.4"/><circle cx="1361.0" cy="2359.7" r="2.5"/><circle cx="1454.6" cy="2426.1" r="2.1"/><circle cx="1452.7" cy="2418.4" r="1.6"/><circle cx="1351.4" cy="2353.6" r="2.7"/><circle cx="1425.0" cy="2402.4" r="2.4"/><circle cx="1361.7" cy="2365.1" r="1.7"/><circle cx="1438.5" cy="2414.0" r="1.7"/><circle cx="1460.5" cy="2425.5" r="1.8"/><circle cx="1458.6" cy="2431.8" r="2.6"/><circle cx="1438.0" cy="2414.2" r="1.7"/><circle cx="1338.1" cy="2349.3" r="1.9"/><circle cx="1360.3" cy="2363.2" r="1.9"/><circle cx="1467.3" cy="2444.5" r="2.8"/><circle cx="1418.1" cy="2395.4" r="2.1"/><circle cx="1481.1" cy="2449.3" r="2.2"/><circle cx="1419.4" cy="2394.8" r="2.6"/><circle cx="1402.3" cy="2382.1" r="2.7"/><circle cx="1412.7" cy="2396.3" r="1.7"/><circle cx="1462.5" cy="2431.7" r="2.7"/><circle cx="1479.3" cy="2457.1" r="1.7"/><circle cx="1373.5" cy="2372.6" r="2.4"/><circle cx="1484.9" cy="2452.9" r="1.8"/><circle cx="1481.3" cy="2458.5" r="2.0"/><circle cx="1459.8" cy="2437.9" r="1.5"/><circle cx="1477.0" cy="2453.2" r="1.9"/><circle cx="1440.1" cy="2410.4" r="1.4"/></g>
<path d="M1628.7,2504.5 C1629.0,2501.5 1611.6,2479.9 1605.4,2472.8 C1599.3,2465.8 1574.5,2440.3 1566.8,2434.1 C1559.0,2428.0 1533.9,2414.1 1528.1,2410.9 C1522.3,2407.8 1509.8,2402.0 1508.8,2402.4 C1507.7,2402.9 1513.4,2410.9 1517.3,2415.6 C1521.1,2420.3 1540.9,2442.0 1547.4,2449.6 C1553.9,2457.3 1576.8,2486.8 1582.2,2492.2 C1587.7,2497.5 1596.9,2501.8 1601.6,2503.0 C1606.2,2504.2 1628.3,2507.6 1628.7,2504.5Z" fill="#2e2e2e"/>
<circle cx="1682.8" cy="2575.3" r="16.2" fill="#fff" stroke="#222" stroke-width="2.2"/><circle cx="1683.8" cy="2576.3" r="8.6" fill="#0c0c0c"/>
</g>
<rect x="690" y="2725" width="1300" height="89" fill="url(#fadeB)"/>
<line x1="120.5" y1="2817.5" x2="1962" y2="2817.5" stroke="#6e6e6e" stroke-width="8"/>
<polygon points="1983,2817.5 1960,2805 1960,2830" fill="#6e6e6e"/>

</svg>
</body></html>
